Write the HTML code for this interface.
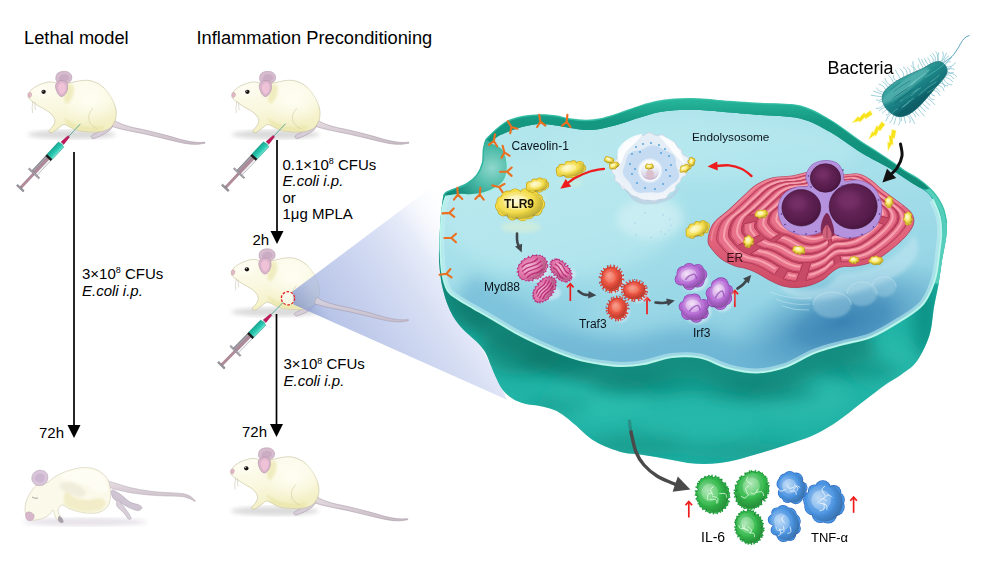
<!DOCTYPE html>
<html lang="en"><head><meta charset="utf-8"><title>Inflammation preconditioning</title>
<style>
html,body{margin:0;padding:0;background:#fff;}
body{width:1000px;height:569px;overflow:hidden;font-family:'Liberation Sans', Arial, Helvetica, sans-serif;}
svg{display:block;}
svg text{font-family:'Liberation Sans', Arial, Helvetica, sans-serif;}
</style></head><body>
<svg width="1000" height="569" viewBox="0 0 1000 569">
<defs>

<linearGradient id="gCone" gradientUnits="userSpaceOnUse" x1="292" y1="298" x2="450" y2="190">
 <stop offset="0" stop-color="#8496cf" stop-opacity="0.8"/><stop offset="0.12" stop-color="#a2b2e0" stop-opacity="0.75"/>
 <stop offset="0.35" stop-color="#bcc8eb" stop-opacity="0.8"/><stop offset="0.55" stop-color="#cad4f0" stop-opacity="0.75"/>
 <stop offset="0.7" stop-color="#d7dff5" stop-opacity="0.62"/><stop offset="0.85" stop-color="#edf1fb" stop-opacity="0.28"/><stop offset="1" stop-color="#ffffff" stop-opacity="0"/>
</linearGradient>


<linearGradient id="gFur" x1="0" y1="0" x2="0.3" y2="1">
 <stop offset="0" stop-color="#fefdf5"/><stop offset="0.55" stop-color="#faf8e0"/><stop offset="1" stop-color="#f3f0c6"/>
</linearGradient>
<radialGradient id="gFurHi" cx="0.5" cy="0.4" r="0.6">
 <stop offset="0" stop-color="#fffef4" stop-opacity="0.95"/><stop offset="1" stop-color="#fffef4" stop-opacity="0"/>
</radialGradient>
<linearGradient id="gTail" x1="0" y1="0" x2="0" y2="1">
 <stop offset="0" stop-color="#e6dde2"/><stop offset="1" stop-color="#c9bcc6"/>
</linearGradient>

<path id="mtail" d="M113.5 119.5C114.4 120.1 116.2 121.8 119 123C121.8 124.2 125.3 125.5 130 126.8C134.7 128.1 141.2 129.1 147 130.5C152.8 131.9 158.8 133.4 165 135C171.2 136.6 178.8 139.1 184 140.3C189.2 141.5 192.5 142 196 142.3C199.5 142.6 203.5 142.2 205 142.2L205 143.2C203.5 143.4 199.5 144.3 196 144.3C192.5 144.3 189.2 144.1 184 143.2C178.8 142.3 171.2 140.2 165 138.8C158.8 137.4 152.8 135.8 147 134.5C141.2 133.2 134.7 132 130 131C125.3 130 122.2 129.3 119 128.5C115.8 127.7 112.3 126.4 111 126Z" fill="url(#gTail)" stroke="#a99aa6" stroke-width="0.6"/>
<g id="mouse"><ellipse cx="72" cy="134.5" rx="44" ry="4.5" fill="#9a9a9a" opacity="0.36" filter="url(#blur2)"/><use href="#mtail"/><path d="M108 122C109.8 121.7 112.1 123.8 112.5 125C112.9 126.2 111.8 128.1 110.5 129.5C109.2 130.9 107.1 132.2 105 133.5C102.9 134.8 100 136.2 98 137C96 137.8 94.2 138.6 93 138.5C91.8 138.4 90.8 137.2 91 136.5C91.2 135.8 92.7 134.8 94 134C95.3 133.2 97.7 132.7 99 131.5C100.3 130.3 100.5 128.6 102 127C103.5 125.4 106.2 122.3 108 122Z" fill="#d6cdd8" stroke="#a79bab" stroke-width="0.6"/><path d="M56 80C55.5 78.3 56 75.4 57 74C58 72.6 60.2 71.8 62 71.5C63.8 71.2 66.4 71.3 68 72C69.6 72.7 71 74.1 71.5 75.5C72 76.9 71.9 79.1 71 80.5C70.1 81.9 67.8 83.4 66 84C64.2 84.6 61.7 84.7 60 84C58.3 83.3 56.5 81.7 56 80Z" fill="#d7bccf" stroke="#b39bad" stroke-width="0.6"/><path d="M59 80C58.2 79 59.2 77 60 76C60.8 75 62.6 74.1 64 74C65.4 73.9 67.7 74.7 68.5 75.5C69.3 76.3 69.6 77.9 69 79C68.4 80.1 66.7 81.8 65 82C63.3 82.2 59.8 81 59 80Z" fill="#c6a7bd" opacity="0.7"/><path d="M28.3 94.5C28.7 93.5 29.4 91.8 30.5 90.5C31.6 89.2 33.4 88 35 87C36.6 86 38.2 85.2 40 84.5C41.8 83.8 44 82.9 46 82.5C48 82.1 50 81.8 52 82C54 82.2 55.8 83.2 58 83.5C60.2 83.8 62.7 84.2 65 84C67.3 83.8 69.5 83 72 82.5C74.5 82 77.3 81.2 80 80.8C82.7 80.4 85.3 80 88 80.3C90.7 80.6 93.5 81.4 96 82.5C98.5 83.6 100.8 85.1 103 87C105.2 88.9 107.2 91.5 109 94C110.8 96.5 112.3 99.3 113.5 102C114.7 104.7 115.6 107.5 116 110C116.4 112.5 116.3 114.8 116 117C115.7 119.2 115 121.2 114 123C113 124.8 111.8 126.7 110 128C108.2 129.3 105.7 130.3 103 131C100.3 131.7 97.2 131.9 94 132C90.8 132.1 87 131.8 84 131.5C81 131.2 78.3 130.8 76 130C73.7 129.2 72 127.9 70 127C68 126.1 65.7 124.5 64 124.5C62.3 124.5 61.3 126.1 60 127C58.7 127.9 57.3 129.1 56 130C54.7 130.9 53.2 132.2 52 132.5C50.8 132.8 49.3 132.5 49 132C48.7 131.5 49.3 130.5 50 129.5C50.7 128.5 52.2 127.4 53 126C53.8 124.6 55 122.7 55 121C55 119.3 54 117.5 53 116C52 114.5 50.5 113.2 49 112C47.5 110.8 45.8 110.1 44 109C42.2 107.9 39.8 106.7 38 105.5C36.2 104.3 34.4 103.1 33 102C31.6 100.9 30.3 99.9 29.5 99C28.7 98.1 28.2 97.2 28 96.5C27.8 95.8 27.9 95.5 28.3 94.5Z" fill="url(#gFur)" stroke="#c4bd98" stroke-width="0.6"/><ellipse cx="90" cy="104" rx="25" ry="19" fill="url(#gFurHi)"/><ellipse cx="42" cy="93" rx="10" ry="6" fill="url(#gFurHi)"/><path d="M66 86C67 84.7 70.7 83.3 72 84C73.3 84.7 74 87.7 74 90C74 92.3 73.2 95.7 72 98C70.8 100.3 68.3 104 67 104C65.7 104 64.2 100 64 98C63.8 96 65.7 94 66 92C66.3 90 65 87.3 66 86Z" fill="#e6e09a" opacity="0.5" filter="url(#blur1)"/><path d="M64 118C64.8 117.5 70.7 122.5 75 124C79.3 125.5 85.2 126.7 90 127C94.8 127.3 102.3 125.3 104 126C105.7 126.7 103.3 130.2 100 131C96.7 131.8 89 131.7 84 131C79 130.3 73.3 129.2 70 127C66.7 124.8 63.2 118.5 64 118Z" fill="#e6e09a" opacity="0.5" filter="url(#blur1)"/><path d="M93 108C92.3 109.2 89.5 112.5 89 115C88.5 117.5 88.7 120.7 90 123C91.3 125.3 95.8 128 97 129" fill="none" stroke="#c9c294" stroke-width="0.6" opacity="0.8"/><path d="M55.5 86C55.6 84.1 56.8 82.4 58 81.5C59.2 80.6 61.5 80.2 63 80.5C64.5 80.8 66.2 81.6 67 83C67.8 84.4 67.8 87.1 67.5 89C67.2 90.9 66.1 93.2 65 94.5C63.9 95.8 62.2 96.8 61 96.5C59.8 96.2 58.4 94.8 57.5 93C56.6 91.2 55.4 87.9 55.5 86Z" fill="#dcb5cc" stroke="#b092a6" stroke-width="0.6"/><path d="M58 87C58.1 85.6 59.1 84.2 60 83.5C60.9 82.8 62.6 82.6 63.5 83C64.4 83.4 65.2 84.7 65.5 86C65.8 87.3 65.6 89.7 65 91C64.4 92.3 62.9 93.8 62 94C61.1 94.2 60.2 93.2 59.5 92C58.8 90.8 57.9 88.4 58 87Z" fill="#efc3d8" opacity="0.95"/><ellipse cx="43.6" cy="91.8" rx="2.2" ry="2.1" fill="#15100f"/><circle cx="43" cy="91.1" r="0.6" fill="#fff"/><path d="M28 94C28.1 93.2 28.9 92.6 29.5 92.5C30.1 92.4 31.2 92.8 31.5 93.5C31.8 94.2 31.4 95.8 31 96.5C30.6 97.2 29.5 97.9 29 97.5C28.5 97.1 27.9 94.8 28 94Z" fill="#e2b9c4" stroke="#b58d9b" stroke-width="0.4"/><path d="M33 101 Q31.5 108 32.5 113 M35 102 Q34.5 107 35.5 110" fill="none" stroke="#c9c5b0" stroke-width="0.6"/></g>

<linearGradient id="gTeal" x1="0" y1="0" x2="0" y2="1"><stop offset="0" stop-color="#7fe6d4"/><stop offset="0.35" stop-color="#2fcdb6"/><stop offset="1" stop-color="#14a892"/></linearGradient>
<linearGradient id="gGlass" x1="0" y1="0" x2="0" y2="1"><stop offset="0" stop-color="#ececf0"/><stop offset="0.5" stop-color="#c7c3cb"/><stop offset="1" stop-color="#8f8a94"/></linearGradient>
<g id="syringe">
 <path d="M0 0L18 0" stroke="#5aa9a0" stroke-width="0.9"/>
 <path d="M17 -1L26.5 -1.9L26.5 1.9L17 1Z" fill="#c2185b" stroke="#8e0f43" stroke-width="0.4"/>
 <rect x="26.5" y="-1.6" width="2" height="3.2" fill="#9fdad0"/>
 <rect x="47" y="-3.5" width="21" height="7" fill="url(#gGlass)" stroke="#6b6670" stroke-width="0.5"/>
 <rect x="47.5" y="-1.2" width="40" height="2.4" fill="#b58a9a" stroke="#7d6470" stroke-width="0.4"/>
 <rect x="47" y="-3.5" width="21" height="1.8" fill="#fff" opacity="0.55"/>
 <rect x="28" y="-3.7" width="17.5" height="7.4" rx="0.9" fill="url(#gTeal)" stroke="#0e8e7c" stroke-width="0.5"/>
 <rect x="45" y="-3.7" width="2.4" height="7.4" fill="#1b1b1b"/>
 <rect x="67" y="-7.2" width="1.7" height="14.4" rx="0.6" fill="#a9a5ad" stroke="#6f6a74" stroke-width="0.4"/>
 <rect x="87" y="-4.6" width="1.9" height="9.2" rx="0.6" fill="#9a969e" stroke="#5f5a64" stroke-width="0.4"/>
</g>


<linearGradient id="gWall" x1="0" y1="0" x2="0" y2="1">
 <stop offset="0" stop-color="#0f9084"/><stop offset="0.35" stop-color="#19a89c"/><stop offset="0.7" stop-color="#22b6a8"/><stop offset="1" stop-color="#1fb0a4"/>
</linearGradient>
<linearGradient id="gBand" x1="0" y1="0" x2="0" y2="1">
 <stop offset="0" stop-color="#27b79c"/><stop offset="0.25" stop-color="#159882"/><stop offset="1" stop-color="#0f8a76"/>
</linearGradient>
<linearGradient id="gTop" gradientUnits="userSpaceOnUse" x1="640" y1="110" x2="700" y2="375">
 <stop offset="0" stop-color="#b2e6ed"/><stop offset="0.4" stop-color="#a6e0ea"/><stop offset="0.75" stop-color="#98d6e6"/><stop offset="1" stop-color="#84c8de"/>
</linearGradient>
<radialGradient id="gDeep" gradientUnits="userSpaceOnUse" cx="842" cy="322" r="125" gradientTransform="translate(842 322) rotate(-16) scale(1 0.42) translate(-842 -322)">
 <stop offset="0" stop-color="#3680b2" stop-opacity="0.95"/><stop offset="0.35" stop-color="#4089b8" stop-opacity="0.8"/><stop offset="0.7" stop-color="#559fc6" stop-opacity="0.4"/><stop offset="1" stop-color="#6db5d0" stop-opacity="0"/>
</radialGradient>
<radialGradient id="gCav" gradientUnits="userSpaceOnUse" cx="492" cy="168" r="42">
 <stop offset="0" stop-color="#8fd8cc"/><stop offset="0.45" stop-color="#4fbcaa"/><stop offset="1" stop-color="#128c7a"/>
</radialGradient>
<filter id="blur2"><feGaussianBlur stdDeviation="2"/></filter>
<filter id="blur4" filterUnits="userSpaceOnUse" x="0" y="0" width="1000" height="569"><feGaussianBlur stdDeviation="4"/></filter>
<filter id="blur8" filterUnits="userSpaceOnUse" x="0" y="0" width="1000" height="569"><feGaussianBlur stdDeviation="8"/></filter>
<filter id="blur1"><feGaussianBlur stdDeviation="1"/></filter>
<filter id="blur05"><feGaussianBlur stdDeviation="0.5"/></filter>

<clipPath id="clipCell"><path d="M486 139.5C487.8 136.5 491 134 494.5 131C498 128 502.2 123.9 507 121.5C511.8 119.1 517.5 117.6 523 116.5C528.5 115.4 534.5 114.9 540 114.8C545.5 114.7 551 115.3 556 116C561 116.7 565 118.2 570 119C575 119.8 581 120.5 586 120.5C591 120.5 594.3 120.2 600 119C605.7 117.8 613.3 115.2 620 113C626.7 110.8 633.3 108 640 106C646.7 104 653.3 102.2 660 101C666.7 99.8 673.3 99.3 680 99C686.7 98.7 691.7 98.6 700 99C708.3 99.4 720 100.8 730 101.5C740 102.2 748.3 102.8 760 103.5C771.7 104.2 788.3 103.2 800 106C811.7 108.8 820 114.2 830 120C840 125.8 852 135.6 860 141C868 146.4 872.8 149.1 878 152.5C883.2 155.9 887 158.4 891.5 161.5C896 164.6 900.5 168.1 905 171C909.5 173.9 914.3 176.1 918.5 179C922.7 181.9 926.8 185.3 930 188.5C933.2 191.7 935.7 194.5 938 198C940.3 201.5 942.3 205.3 943.8 209.5C945.2 213.7 946.3 218.4 946.7 223C947.1 227.6 946.8 232.5 946.3 237C945.8 241.5 944.7 246 944 250C943.3 254 942.9 255.3 942 261C941.1 266.7 939.9 276.3 938.6 284C937.3 291.7 935.5 298.5 934 307C932.5 315.5 932.3 326 929.5 335C926.7 344 921.6 354.5 917 361C912.4 367.5 907.3 370 902 374C896.7 378 892 380 885 385C878 390 867.8 398 860 404C852.2 410 845.3 416 838 421C830.7 426 823.2 430.5 816 434C808.8 437.5 802 439.5 795 442C788 444.5 781.2 446.8 774 449C766.8 451.2 758.3 453.7 752 455.5C745.7 457.3 741.3 458.8 736 460C730.7 461.2 725.3 462.3 720 463C714.7 463.7 709.3 464 704 464C698.7 464 693.3 463.7 688 463C682.7 462.3 677.3 461 672 460C666.7 459 661.3 457.9 656 457C650.7 456.1 645.3 455.2 640 454.5C634.7 453.8 629.3 454 624 452.8C618.7 451.6 612.5 449.2 608 447.5C603.5 445.8 600 444.1 597 442.5C594 440.9 592.2 439.6 590 438C587.8 436.4 586.4 435.2 584 433C581.6 430.8 578.6 427.8 575.4 425C572.2 422.2 568.5 418.9 565 416.4C561.5 413.9 558.5 411.7 554.3 410C550.1 408.3 544.5 407 539.6 406C534.7 405 529.4 405.1 524.8 403.8C520.2 402.6 515.9 400.8 512.2 398.5C508.5 396.2 505.3 393.3 502.7 390C500.1 386.7 498.3 382.5 496.4 378.5C494.4 374.5 492.8 370 491 365.8C489.2 361.6 487.9 356.9 485.8 353.2C483.7 349.5 481.4 346.7 478.4 343.5C475.4 340.3 471.1 336.9 468 334C464.9 331.1 462.4 328.8 460 326C457.6 323.2 455.3 320 453.5 317C451.7 314 450.4 311.3 449 308C447.6 304.7 446.3 301.7 445 297C443.7 292.3 442 286.5 441 280C440 273.5 439.2 264.7 439 258C438.8 251.3 439.2 246.3 439.5 240C439.8 233.7 440.1 225.8 440.5 220C440.9 214.2 441.5 209 442 205C442.5 201 442.8 198.1 443.5 196C444.2 193.9 444.4 193.6 446 192.5C447.6 191.4 449.6 190.9 453 189.5C456.4 188.1 462.5 186.4 466.5 184C470.5 181.6 474.3 178.5 477 175C479.7 171.5 481.4 167.3 482.5 163C483.6 158.7 482.9 152.9 483.5 149C484.1 145.1 484.2 142.5 486 139.5Z"/></clipPath>
<clipPath id="clipRimR"><path d="M491 142.5C490.8 141.1 494.7 138.6 497 137C499.3 135.4 502.2 134.2 505 133C507.8 131.8 510.8 130.6 514 129.5C517.2 128.4 519.7 127.4 524 126.5C528.3 125.6 534.7 124.2 540 124C545.3 123.8 551 124.8 556 125.5C561 126.2 565 127.2 570 128C575 128.8 581 129.8 586 130C591 130.2 594.3 130 600 129C605.7 128 613.3 125.9 620 124C626.7 122.1 633.3 119.5 640 117.5C646.7 115.5 653.3 113.2 660 112C666.7 110.8 673.3 110.3 680 110C686.7 109.7 691.7 109.6 700 110C708.3 110.4 720 111.7 730 112.5C740 113.3 748.3 114 760 115C771.7 116 788.3 115.7 800 118.5C811.7 121.3 820 126.4 830 132C840 137.6 852 147 860 152C868 157 872.8 159.1 878 162C883.2 164.9 887 166.8 891.5 169.5C896 172.2 900.5 175.6 905 178.5C909.5 181.4 914.8 184.7 918.5 187C922.2 189.3 924.6 190.3 927 192.5C929.4 194.7 931.2 197.1 933 200C934.8 202.9 936.2 206.5 937.5 210C938.8 213.5 939.9 216.7 940.5 221C941.1 225.3 941.2 231.2 941 236C940.8 240.8 940.5 242.8 939.5 250C938.5 257.2 937.8 270 935 279C932.2 288 928.8 297 923 304C917.2 311 908.7 315.5 900 321C891.3 326.5 880.7 333.1 871 337C861.3 340.9 851.5 341.8 842 344.5C832.5 347.2 823.5 349.2 814 353C804.5 356.8 794.5 363.8 785 367C775.5 370.2 766.5 372.3 757 372.5C747.5 372.7 737.5 370.5 728 368C718.5 365.5 709.3 359.3 700 357.5C690.7 355.7 681.3 355.9 672 357C662.7 358.1 652.3 362.5 644 364C635.7 365.5 629.2 366 622 366C614.8 366 608 365 601 364C594 363 587.2 361.9 580 360C572.8 358.1 565.3 355.3 558 352.5C550.7 349.7 543.2 346.3 536 343C528.8 339.7 522 336.3 515 332.5C508 328.7 501 324.1 494 320C487 315.9 479 311.5 473 308C467 304.5 462.2 301.8 458 299C453.8 296.2 450.6 295.2 448 291C445.4 286.8 443.8 280.8 442.5 274C441.2 267.2 440.8 257.7 440.5 250C440.2 242.3 440.7 234.8 441 228C441.3 221.2 441.7 214.2 442.5 209C443.3 203.8 443.1 198.9 446 196.5C448.9 194.1 456 194.8 460 194.5C464 194.2 466 195.2 470 195C474 194.8 479.6 194.2 484 193C488.4 191.8 493 189.8 496.5 187.5C500 185.2 503.2 182.8 505 179C506.8 175.2 507.7 169.7 507.5 165C507.3 160.3 505.6 154.2 504 151C502.4 147.8 500.2 146.9 498 145.5C495.8 144.1 491.2 143.9 491 142.5Z M900 150H1000V300H900Z" clip-rule="evenodd"/></clipPath>
<clipPath id="clipTop"><path d="M491 142.5C490.8 141.1 494.7 138.6 497 137C499.3 135.4 502.2 134.2 505 133C507.8 131.8 510.8 130.6 514 129.5C517.2 128.4 519.7 127.4 524 126.5C528.3 125.6 534.7 124.2 540 124C545.3 123.8 551 124.8 556 125.5C561 126.2 565 127.2 570 128C575 128.8 581 129.8 586 130C591 130.2 594.3 130 600 129C605.7 128 613.3 125.9 620 124C626.7 122.1 633.3 119.5 640 117.5C646.7 115.5 653.3 113.2 660 112C666.7 110.8 673.3 110.3 680 110C686.7 109.7 691.7 109.6 700 110C708.3 110.4 720 111.7 730 112.5C740 113.3 748.3 114 760 115C771.7 116 788.3 115.7 800 118.5C811.7 121.3 820 126.4 830 132C840 137.6 852 147 860 152C868 157 872.8 159.1 878 162C883.2 164.9 887 166.8 891.5 169.5C896 172.2 900.5 175.6 905 178.5C909.5 181.4 914.8 184.7 918.5 187C922.2 189.3 924.6 190.3 927 192.5C929.4 194.7 931.2 197.1 933 200C934.8 202.9 936.2 206.5 937.5 210C938.8 213.5 939.9 216.7 940.5 221C941.1 225.3 941.2 231.2 941 236C940.8 240.8 940.5 242.8 939.5 250C938.5 257.2 937.8 270 935 279C932.2 288 928.8 297 923 304C917.2 311 908.7 315.5 900 321C891.3 326.5 880.7 333.1 871 337C861.3 340.9 851.5 341.8 842 344.5C832.5 347.2 823.5 349.2 814 353C804.5 356.8 794.5 363.8 785 367C775.5 370.2 766.5 372.3 757 372.5C747.5 372.7 737.5 370.5 728 368C718.5 365.5 709.3 359.3 700 357.5C690.7 355.7 681.3 355.9 672 357C662.7 358.1 652.3 362.5 644 364C635.7 365.5 629.2 366 622 366C614.8 366 608 365 601 364C594 363 587.2 361.9 580 360C572.8 358.1 565.3 355.3 558 352.5C550.7 349.7 543.2 346.3 536 343C528.8 339.7 522 336.3 515 332.5C508 328.7 501 324.1 494 320C487 315.9 479 311.5 473 308C467 304.5 462.2 301.8 458 299C453.8 296.2 450.6 295.2 448 291C445.4 286.8 443.8 280.8 442.5 274C441.2 267.2 440.8 257.7 440.5 250C440.2 242.3 440.7 234.8 441 228C441.3 221.2 441.7 214.2 442.5 209C443.3 203.8 443.1 198.9 446 196.5C448.9 194.1 456 194.8 460 194.5C464 194.2 466 195.2 470 195C474 194.8 479.6 194.2 484 193C488.4 191.8 493 189.8 496.5 187.5C500 185.2 503.2 182.8 505 179C506.8 175.2 507.7 169.7 507.5 165C507.3 160.3 505.6 154.2 504 151C502.4 147.8 500.2 146.9 498 145.5C495.8 144.1 491.2 143.9 491 142.5Z"/></clipPath>

<radialGradient id="gYel" cx="0.4" cy="0.35" r="0.75"><stop offset="0" stop-color="#fdf08a"/><stop offset="0.6" stop-color="#f3da3e"/><stop offset="1" stop-color="#d9b81e"/></radialGradient>
<radialGradient id="gMag" cx="0.4" cy="0.35" r="0.75"><stop offset="0" stop-color="#f4a6cc"/><stop offset="0.55" stop-color="#d65a9a"/><stop offset="1" stop-color="#a82f6e"/></radialGradient>
<radialGradient id="gRed" cx="0.4" cy="0.35" r="0.75"><stop offset="0" stop-color="#ff9a80"/><stop offset="0.55" stop-color="#ec4a3a"/><stop offset="1" stop-color="#c42a24"/></radialGradient>
<radialGradient id="gPur" cx="0.4" cy="0.35" r="0.75"><stop offset="0" stop-color="#e0aaf0"/><stop offset="0.55" stop-color="#b266d4"/><stop offset="1" stop-color="#8a3fb0"/></radialGradient>
<radialGradient id="gGrn" cx="0.4" cy="0.35" r="0.75"><stop offset="0" stop-color="#86e88a"/><stop offset="0.5" stop-color="#2fb548"/><stop offset="1" stop-color="#178a34"/></radialGradient>
<radialGradient id="gBlu" cx="0.4" cy="0.35" r="0.75"><stop offset="0" stop-color="#a8d8ff"/><stop offset="0.5" stop-color="#4f9be6"/><stop offset="1" stop-color="#2a6fc4"/></radialGradient>
<radialGradient id="gNuc" cx="0.42" cy="0.4" r="0.7"><stop offset="0" stop-color="#6e2a60"/><stop offset="0.7" stop-color="#561c4b"/><stop offset="1" stop-color="#3f1238"/></radialGradient>
<linearGradient id="gER" x1="0" y1="0" x2="0" y2="1"><stop offset="0" stop-color="#ef7f90"/><stop offset="0.6" stop-color="#e0607a"/><stop offset="1" stop-color="#c8455f"/></linearGradient>
<radialGradient id="gEndo" cx="0.45" cy="0.4" r="0.65"><stop offset="0" stop-color="#dbeaf6"/><stop offset="0.55" stop-color="#e6eef6"/><stop offset="1" stop-color="#f7f9fc"/></radialGradient>

<radialGradient id="gHi" cx="0.42" cy="0.38" r="0.6"><stop offset="0" stop-color="#fff" stop-opacity="0.75"/><stop offset="0.6" stop-color="#fff" stop-opacity="0.18"/><stop offset="1" stop-color="#fff" stop-opacity="0"/></radialGradient>
<radialGradient id="gLo" cx="0.4" cy="0.35" r="0.72"><stop offset="0.55" stop-color="#000" stop-opacity="0"/><stop offset="1" stop-color="#000" stop-opacity="0.28"/></radialGradient>
<linearGradient id="gVes" x1="0" y1="0" x2="0" y2="1"><stop offset="0" stop-color="#ffffff"/><stop offset="0.45" stop-color="#e9eef7"/><stop offset="1" stop-color="#cdbfd6"/></linearGradient>
<linearGradient id="gERw" gradientUnits="userSpaceOnUse" x1="0" y1="175" x2="0" y2="287"><stop offset="0" stop-color="#ea7389"/><stop offset="0.6" stop-color="#e0627b"/><stop offset="1" stop-color="#cc4a65"/></linearGradient>
<clipPath id="clipER"><path d="M708 241C708 236.6 709.7 229.1 713 224C716.3 218.9 722.8 215.2 728 210.5C733.2 205.8 739.3 199.8 744 195.5C748.7 191.2 751.3 187.9 756 185C760.7 182.1 766 179.5 772 178C778 176.5 785.3 177 792 176C798.7 175 804 172.2 812 172C820 171.8 832.3 174.7 840 175C847.7 175.3 853 173.2 858 174C863 174.8 865.8 176.8 870 179.5C874.2 182.2 878.3 186.8 883 190.5C887.7 194.2 893.3 197.8 898 201.5C902.7 205.2 908.4 208.8 911 212.5C913.6 216.2 914.5 219.9 913.5 224C912.5 228.1 909.2 232.3 905 237C900.8 241.7 893.5 247.8 888 252C882.5 256.2 877.3 259.7 872 262C866.7 264.3 861.2 265.2 856 266C850.8 266.8 845 266 841 267C837 268 834.8 270 832 272C829.2 274 827.5 276.8 824 279C820.5 281.2 815.5 283.6 811 285C806.5 286.4 801.7 287.3 797 287.5C792.3 287.7 787.5 287.2 783 286C778.5 284.8 774.3 282.7 770 280.5C765.7 278.3 761 275 757 273C753 271 749.7 269.7 746 268.5C742.3 267.3 739 267.5 735 266C731 264.5 725.7 262.1 722 259.5C718.3 256.9 715.3 253.6 713 250.5C710.7 247.4 708 245.4 708 241Z"/></clipPath>

<linearGradient id="gBac" x1="0" y1="0" x2="0" y2="1"><stop offset="0" stop-color="#3aa6a2"/><stop offset="0.45" stop-color="#1c8486"/><stop offset="1" stop-color="#0d636c"/></linearGradient>

<clipPath id="clipBac"><path d="M-36.3 1C-36.6 -2.7 -35.8 -7.2 -34 -10C-32.3 -12.8 -29.6 -14.5 -25.8 -15.5C-21.9 -16.5 -15.9 -16.3 -11 -16C-6.1 -15.7 -1.1 -14.4 3.7 -13.5C8.4 -12.6 13.3 -11.2 17.5 -10.5C21.6 -9.8 25.6 -9.8 28.5 -9C31.4 -8.2 33.6 -7.1 35 -5.5C36.3 -3.9 36.9 -1.5 36.8 0.5C36.7 2.5 36 4.9 34.5 6.5C33 8.1 30.7 9 27.6 10C24.5 11 19.8 11.6 15.6 12.5C11.5 13.4 7.2 14.6 2.8 15.5C-1.7 16.4 -6.6 17.7 -11 18C-15.5 18.3 -20.3 18.5 -23.9 17.5C-27.5 16.5 -30.6 14.8 -32.7 12C-34.7 9.2 -36.1 4.7 -36.3 1Z"/></clipPath>
</defs>
<rect width="1000" height="569" fill="#fff"/>
<g id="mice">
<use href="#mouse"/>
<use href="#mouse" transform="translate(203.8 0)"/>
<use href="#mouse" transform="translate(203.3 177.5)"/>
<use href="#mouse" transform="translate(202.7 376.5)"/>
<path d="M292.5 291.5 L442.5 179 L458 300 L498 380 L507 399.7 L293.5 304.5 Z" fill="url(#gCone)" filter="url(#blur05)"/>
<use href="#mtail" transform="translate(203.3 177.5)" opacity="0.75"/>
<circle cx="288" cy="298.3" r="6.6" fill="#fff" fill-opacity="0.55" stroke="#e02020" stroke-width="1.3" stroke-dasharray="2.6 1.6"/>
<use href="#syringe" transform="translate(80.4 123.9) rotate(133.1)"/>
<use href="#syringe" transform="translate(285.5 123.7) rotate(133.2)"/>
<use href="#syringe" transform="translate(283 302.5) rotate(134.5)"/>
<g id="deadmouse"><ellipse cx="85" cy="522" rx="62" ry="4" fill="#b9aec0" opacity="0.35" filter="url(#blur2)"/><path d="M108 481C109.7 481.5 114 482.8 118 484C122 485.2 126.8 486.8 132 488C137.2 489.2 143.3 490.2 149 491C154.7 491.8 160.5 492.1 166 492.5C171.5 492.9 178 492.9 182 493.5C186 494.1 187.8 494.8 190 496C192.2 497.2 194.6 500.2 195.5 501L195 501.5C194 501 191.3 499.3 189 498.5C186.7 497.7 184.8 496.9 181 496.5C177.2 496.1 171.3 496.2 166 496C160.7 495.8 154.7 495.5 149 495C143.3 494.5 137.2 493.8 132 493C126.8 492.2 122 491 118 490C114 489 109.7 487.5 108 487Z" fill="url(#gTail)" stroke="#b3a6b1" stroke-width="0.5"/><path d="M112 490C113.2 489.3 117 492 120 494C123 496 126.8 500.2 130 502C133.2 503.8 137 504 139 505C141 506 142.2 507.1 142 508C141.8 508.9 140 510.5 138 510.5C136 510.5 132.8 509.2 130 508C127.2 506.8 123.8 504.7 121 503C118.2 501.3 114.5 500.2 113 498C111.5 495.8 110.8 490.7 112 490Z" fill="#cfc4d2" stroke="#a79bab" stroke-width="0.5"/><path d="M118 500C119.2 500.2 122.2 504.7 124 507C125.8 509.3 127.8 512.1 129 514C130.2 515.9 131.1 517.7 131 518.5C130.9 519.3 129.7 519.9 128.5 519C127.3 518.1 125.9 515.2 124 513C122.1 510.8 118 508.2 117 506C116 503.8 116.8 499.8 118 500Z" fill="#d8cfd9" stroke="#a79bab" stroke-width="0.5"/><path d="M48 482C50.3 480.7 53 477.8 56 476C59 474.2 62.7 472.8 66 471.5C69.3 470.2 72.7 469.2 76 468.5C79.3 467.8 82.8 467.4 86 467.5C89.2 467.6 92.3 468.1 95 469C97.7 469.9 99.9 471.3 102 473C104.1 474.7 106.2 476.7 107.5 479C108.8 481.3 109.5 484.2 110 487C110.5 489.8 110.7 493.2 110.5 496C110.3 498.8 110.1 501.7 109 504C107.9 506.3 106.2 508.5 104 510C101.8 511.5 99 512.5 96 513C93 513.5 89.3 513.3 86 513C82.7 512.7 79 511.8 76 511C73 510.2 70.3 509 68 508C65.7 507 63.7 504.7 62 505C60.3 505.3 58.3 508.2 58 510C57.7 511.8 59.3 514.2 60 516C60.7 517.8 62.2 520.1 62 521C61.8 521.9 60.1 522.2 59 521.5C57.9 520.8 56.5 518.9 55.5 517C54.5 515.1 53.9 510.5 53 510C52.1 509.5 51.5 512.7 50 514C48.5 515.3 46.3 517 44 518C41.7 519 38.3 519.7 36 520C33.7 520.3 31.6 520.5 30 520C28.4 519.5 27.3 518.7 26.5 517C25.7 515.3 25.1 512.5 25 510C24.9 507.5 25.3 504.5 26 502C26.7 499.5 27.8 497.2 29 495C30.2 492.8 31.7 490.7 33 489C34.3 487.3 35.5 485.8 37 485C38.5 484.2 40.2 484.5 42 484C43.8 483.5 45.7 483.3 48 482Z" fill="#fbf9ea" stroke="#cfc9b0" stroke-width="0.6"/><path d="M66 492C68 491.2 72.3 496.7 76 498C79.7 499.3 84 500 88 500C92 500 97 497.5 100 498C103 498.5 106 501 106 503C106 505 103.3 508.5 100 510C96.7 511.5 90.7 512.2 86 512C81.3 511.8 75.7 510.5 72 509C68.3 507.5 65 505.8 64 503C63 500.2 64 492.8 66 492Z" fill="#f0ebc0" opacity="0.8" filter="url(#blur1)"/><path d="M60 484C61.3 482.7 66.7 481.7 70 482C73.3 482.3 77.3 484.2 80 486C82.7 487.8 86 491.2 86 493C86 494.8 82.7 496.8 80 497C77.3 497.2 73 495.2 70 494C67 492.8 63.7 491.7 62 490C60.3 488.3 58.7 485.3 60 484Z" fill="#e6e0cc" opacity="0.45" filter="url(#blur1)"/><path d="M60 476C61 474.3 70.7 471 76 470C81.3 469 87.3 468.7 92 470C96.7 471.3 101.5 474.7 104 478C106.5 481.3 108 487.7 107 490C106 492.3 101.5 493 98 492C94.5 491 90.7 486 86 484C81.3 482 74.3 481.3 70 480C65.7 478.7 59 477.7 60 476Z" fill="#fffef6" opacity="0.9" filter="url(#blur1)"/><path d="M32 480C31.5 478.2 32 475.6 33 474C34 472.4 36.2 471 38 470.5C39.8 470 42.4 470.2 44 471C45.6 471.8 47 473.3 47.5 475C48 476.7 47.8 479.3 47 481C46.2 482.7 44.8 484.3 43 485C41.2 485.7 37.8 485.8 36 485C34.2 484.2 32.5 481.8 32 480Z" fill="#d9c6da" stroke="#b5a3b6" stroke-width="0.6"/><path d="M35 480C34.2 478.8 35.2 476.6 36 475.5C36.8 474.4 38.7 473.6 40 473.5C41.3 473.4 43.2 474 44 475C44.8 476 45 478.2 44.5 479.5C44 480.8 42.6 482.4 41 482.5C39.4 482.6 35.8 481.2 35 480Z" fill="#c9b2cc" opacity="0.8"/><path d="M26 513C26.7 512 28.7 511.7 30 512C31.3 512.3 33.5 513.8 34 515C34.5 516.2 33.9 518.6 33 519.5C32.1 520.4 29.7 520.8 28.5 520.5C27.3 520.2 26.4 519.2 26 518C25.6 516.8 25.3 514 26 513Z" fill="#d9b7cb" stroke="#b093a8" stroke-width="0.4"/><path d="M32 497 Q35 499 38 498" fill="none" stroke="#8a7f78" stroke-width="0.7"/><path d="M59 516C59.7 515.7 61.2 517 62 518C62.8 519 63.7 521.2 63.5 522C63.3 522.8 61.9 523.3 61 523C60.1 522.7 58.3 521.2 58 520C57.7 518.8 58.3 516.3 59 516Z" fill="#a9a0ac"/></g>
</g>
<g id="labels">
<text x="24" y="44" font-size="18.3" font-weight="normal" font-style="normal" fill="#000" text-anchor="start" >Lethal model</text>
<text x="196.5" y="44" font-size="18.3" font-weight="normal" font-style="normal" fill="#000" text-anchor="start" >Inflammation Preconditioning</text>
<path d="M74 152V426" stroke="#000" stroke-width="1.7" fill="none"/><path d="M67.5 425L80.5 425L74 438Z" fill="#000"/>
<text x="82" y="278.5" font-size="15" font-weight="normal" font-style="normal" fill="#000" text-anchor="start" >3×10<tspan font-size="9" dy="-5.5">8</tspan><tspan dy="5.5"> CFUs</tspan></text>
<text x="82" y="295.5" font-size="15" font-weight="normal" font-style="italic" fill="#000" text-anchor="start" >E.coli i.p.</text>
<text x="39" y="437.5" font-size="15" font-weight="normal" font-style="normal" fill="#000" text-anchor="start" >72h</text>
<path d="M277 140V232" stroke="#000" stroke-width="1.7" fill="none"/><path d="M270.5 231L283.5 231L277 244Z" fill="#000"/>
<text x="282.5" y="169.5" font-size="15" font-weight="normal" font-style="normal" fill="#000" text-anchor="start" >0.1×10<tspan font-size="9" dy="-5.5">8</tspan><tspan dy="5.5"> CFUs</tspan></text>
<text x="282.5" y="186" font-size="15" font-weight="normal" font-style="italic" fill="#000" text-anchor="start" >E.coli i.p.</text>
<text x="282.5" y="202.5" font-size="15" font-weight="normal" font-style="normal" fill="#000" text-anchor="start" >or</text>
<text x="282.5" y="219" font-size="15" font-weight="normal" font-style="normal" fill="#000" text-anchor="start" >1μg MPLA</text>
<text x="252.5" y="244.5" font-size="15" font-weight="normal" font-style="normal" fill="#000" text-anchor="start" >2h</text>
<path d="M276.5 314V425" stroke="#000" stroke-width="1.7" fill="none"/><path d="M270 424L283 424L276.5 437Z" fill="#000"/>
<text x="283.5" y="369" font-size="15" font-weight="normal" font-style="normal" fill="#000" text-anchor="start" >3×10<tspan font-size="9" dy="-5.5">8</tspan><tspan dy="5.5"> CFUs</tspan></text>
<text x="283.5" y="386" font-size="15" font-weight="normal" font-style="italic" fill="#000" text-anchor="start" >E.coli i.p.</text>
<text x="242" y="436.5" font-size="15" font-weight="normal" font-style="normal" fill="#000" text-anchor="start" >72h</text>
</g>
<g id="cell">
<path d="M486 139.5C487.8 136.5 491 134 494.5 131C498 128 502.2 123.9 507 121.5C511.8 119.1 517.5 117.6 523 116.5C528.5 115.4 534.5 114.9 540 114.8C545.5 114.7 551 115.3 556 116C561 116.7 565 118.2 570 119C575 119.8 581 120.5 586 120.5C591 120.5 594.3 120.2 600 119C605.7 117.8 613.3 115.2 620 113C626.7 110.8 633.3 108 640 106C646.7 104 653.3 102.2 660 101C666.7 99.8 673.3 99.3 680 99C686.7 98.7 691.7 98.6 700 99C708.3 99.4 720 100.8 730 101.5C740 102.2 748.3 102.8 760 103.5C771.7 104.2 788.3 103.2 800 106C811.7 108.8 820 114.2 830 120C840 125.8 852 135.6 860 141C868 146.4 872.8 149.1 878 152.5C883.2 155.9 887 158.4 891.5 161.5C896 164.6 900.5 168.1 905 171C909.5 173.9 914.3 176.1 918.5 179C922.7 181.9 926.8 185.3 930 188.5C933.2 191.7 935.7 194.5 938 198C940.3 201.5 942.3 205.3 943.8 209.5C945.2 213.7 946.3 218.4 946.7 223C947.1 227.6 946.8 232.5 946.3 237C945.8 241.5 944.7 246 944 250C943.3 254 942.9 255.3 942 261C941.1 266.7 939.9 276.3 938.6 284C937.3 291.7 935.5 298.5 934 307C932.5 315.5 932.3 326 929.5 335C926.7 344 921.6 354.5 917 361C912.4 367.5 907.3 370 902 374C896.7 378 892 380 885 385C878 390 867.8 398 860 404C852.2 410 845.3 416 838 421C830.7 426 823.2 430.5 816 434C808.8 437.5 802 439.5 795 442C788 444.5 781.2 446.8 774 449C766.8 451.2 758.3 453.7 752 455.5C745.7 457.3 741.3 458.8 736 460C730.7 461.2 725.3 462.3 720 463C714.7 463.7 709.3 464 704 464C698.7 464 693.3 463.7 688 463C682.7 462.3 677.3 461 672 460C666.7 459 661.3 457.9 656 457C650.7 456.1 645.3 455.2 640 454.5C634.7 453.8 629.3 454 624 452.8C618.7 451.6 612.5 449.2 608 447.5C603.5 445.8 600 444.1 597 442.5C594 440.9 592.2 439.6 590 438C587.8 436.4 586.4 435.2 584 433C581.6 430.8 578.6 427.8 575.4 425C572.2 422.2 568.5 418.9 565 416.4C561.5 413.9 558.5 411.7 554.3 410C550.1 408.3 544.5 407 539.6 406C534.7 405 529.4 405.1 524.8 403.8C520.2 402.6 515.9 400.8 512.2 398.5C508.5 396.2 505.3 393.3 502.7 390C500.1 386.7 498.3 382.5 496.4 378.5C494.4 374.5 492.8 370 491 365.8C489.2 361.6 487.9 356.9 485.8 353.2C483.7 349.5 481.4 346.7 478.4 343.5C475.4 340.3 471.1 336.9 468 334C464.9 331.1 462.4 328.8 460 326C457.6 323.2 455.3 320 453.5 317C451.7 314 450.4 311.3 449 308C447.6 304.7 446.3 301.7 445 297C443.7 292.3 442 286.5 441 280C440 273.5 439.2 264.7 439 258C438.8 251.3 439.2 246.3 439.5 240C439.8 233.7 440.1 225.8 440.5 220C440.9 214.2 441.5 209 442 205C442.5 201 442.8 198.1 443.5 196C444.2 193.9 444.4 193.6 446 192.5C447.6 191.4 449.6 190.9 453 189.5C456.4 188.1 462.5 186.4 466.5 184C470.5 181.6 474.3 178.5 477 175C479.7 171.5 481.4 167.3 482.5 163C483.6 158.7 482.9 152.9 483.5 149C484.1 145.1 484.2 142.5 486 139.5Z" fill="url(#gWall)"/>
<g clip-path="url(#clipCell)" filter="url(#blur8)"><ellipse cx="520" cy="350" rx="40" ry="25" fill="#0c8577" opacity="0.7"/><ellipse cx="600" cy="400" rx="50" ry="25" fill="#30c2b2" opacity="0.55"/><ellipse cx="700" cy="420" rx="60" ry="22" fill="#2cbdb0" opacity="0.5"/><ellipse cx="800" cy="400" rx="50" ry="22" fill="#30c2b2" opacity="0.45"/><ellipse cx="880" cy="360" rx="35" ry="25" fill="#2cbdb0" opacity="0.4"/><ellipse cx="480" cy="300" rx="25" ry="30" fill="#0c8577" opacity="0.8"/><ellipse cx="560" cy="360" rx="40" ry="14" fill="#0a7d70" opacity="0.6"/><ellipse cx="650" cy="385" rx="60" ry="10" fill="#0a7d70" opacity="0.55"/><ellipse cx="760" cy="392" rx="60" ry="10" fill="#0a7d70" opacity="0.5"/><ellipse cx="860" cy="370" rx="40" ry="10" fill="#0a7d70" opacity="0.5"/><ellipse cx="925" cy="320" rx="12" ry="40" fill="#0a7d70" opacity="0.6"/><ellipse cx="640" cy="445" rx="50" ry="10" fill="#11907f" opacity="0.6"/><ellipse cx="740" cy="450" rx="60" ry="8" fill="#11907f" opacity="0.5"/><ellipse cx="560" cy="405" rx="30" ry="8" fill="#11907f" opacity="0.5"/></g>
<g clip-path="url(#clipCell)"><path d="M871 337C866.2 338.2 851.5 341.8 842 344.5C832.5 347.2 823.5 349.2 814 353C804.5 356.8 794.5 363.8 785 367C775.5 370.2 766.5 372.3 757 372.5C747.5 372.7 737.5 370.5 728 368C718.5 365.5 709.3 359.3 700 357.5C690.7 355.7 681.3 355.9 672 357C662.7 358.1 652.3 362.5 644 364C635.7 365.5 629.2 366 622 366C614.8 366 608 365 601 364C594 363 587.2 361.9 580 360C572.8 358.1 565.3 355.3 558 352.5C550.7 349.7 543.2 346.3 536 343C528.8 339.7 522 336.3 515 332.5C508 328.7 501 324.1 494 320C487 315.9 479 311.5 473 308C467 304.5 462.2 301.8 458 299C453.8 296.2 450.6 295.2 448 291C445.4 286.8 443.8 280.8 442.5 274C441.2 267.2 440.8 257.7 440.5 250C440.2 242.3 440.7 234.8 441 228C441.3 221.2 441.7 214.2 442.5 209C443.3 203.8 445.4 198.6 446 196.5" fill="none" stroke="#087568" stroke-width="44" opacity="0.6" filter="url(#blur8)"/></g>
<path d="M443.5 196C443.5 195.3 444.4 193.6 446 192.5C447.6 191.4 449.6 190.9 453 189.5C456.4 188.1 462.5 186.4 466.5 184C470.5 181.6 474.3 178.5 477 175C479.7 171.5 481.4 167.3 482.5 163C483.6 158.7 482.9 152.9 483.5 149C484.1 145.1 484.8 140.6 486 139.5C487.2 138.4 489 141.5 491 142.5C493 143.5 495.8 144.1 498 145.5C500.2 146.9 502.4 147.8 504 151C505.6 154.2 507.3 160.3 507.5 165C507.7 169.7 506.8 175.2 505 179C503.2 182.8 500 185.2 496.5 187.5C493 189.8 488.4 191.8 484 193C479.6 194.2 474 194.8 470 195C466 195.2 464 194.2 460 194.5C456 194.8 448.8 196.2 446 196.5C443.2 196.8 443.5 196.7 443.5 196Z" fill="url(#gCav)"/>
<path d="M491 142.5C490.8 141.1 494.7 138.6 497 137C499.3 135.4 502.2 134.2 505 133C507.8 131.8 510.8 130.6 514 129.5C517.2 128.4 519.7 127.4 524 126.5C528.3 125.6 534.7 124.2 540 124C545.3 123.8 551 124.8 556 125.5C561 126.2 565 127.2 570 128C575 128.8 581 129.8 586 130C591 130.2 594.3 130 600 129C605.7 128 613.3 125.9 620 124C626.7 122.1 633.3 119.5 640 117.5C646.7 115.5 653.3 113.2 660 112C666.7 110.8 673.3 110.3 680 110C686.7 109.7 691.7 109.6 700 110C708.3 110.4 720 111.7 730 112.5C740 113.3 748.3 114 760 115C771.7 116 788.3 115.7 800 118.5C811.7 121.3 820 126.4 830 132C840 137.6 852 147 860 152C868 157 872.8 159.1 878 162C883.2 164.9 887 166.8 891.5 169.5C896 172.2 900.5 175.6 905 178.5C909.5 181.4 914.8 184.7 918.5 187C922.2 189.3 924.6 190.3 927 192.5C929.4 194.7 931.2 197.1 933 200C934.8 202.9 936.2 206.5 937.5 210C938.8 213.5 939.9 216.7 940.5 221C941.1 225.3 941.2 231.2 941 236C940.8 240.8 940.5 242.8 939.5 250C938.5 257.2 937.8 270 935 279C932.2 288 928.8 297 923 304C917.2 311 908.7 315.5 900 321C891.3 326.5 880.7 333.1 871 337C861.3 340.9 851.5 341.8 842 344.5C832.5 347.2 823.5 349.2 814 353C804.5 356.8 794.5 363.8 785 367C775.5 370.2 766.5 372.3 757 372.5C747.5 372.7 737.5 370.5 728 368C718.5 365.5 709.3 359.3 700 357.5C690.7 355.7 681.3 355.9 672 357C662.7 358.1 652.3 362.5 644 364C635.7 365.5 629.2 366 622 366C614.8 366 608 365 601 364C594 363 587.2 361.9 580 360C572.8 358.1 565.3 355.3 558 352.5C550.7 349.7 543.2 346.3 536 343C528.8 339.7 522 336.3 515 332.5C508 328.7 501 324.1 494 320C487 315.9 479 311.5 473 308C467 304.5 462.2 301.8 458 299C453.8 296.2 450.6 295.2 448 291C445.4 286.8 443.8 280.8 442.5 274C441.2 267.2 440.8 257.7 440.5 250C440.2 242.3 440.7 234.8 441 228C441.3 221.2 441.7 214.2 442.5 209C443.3 203.8 443.1 198.9 446 196.5C448.9 194.1 456 194.8 460 194.5C464 194.2 466 195.2 470 195C474 194.8 479.6 194.2 484 193C488.4 191.8 493 189.8 496.5 187.5C500 185.2 503.2 182.8 505 179C506.8 175.2 507.7 169.7 507.5 165C507.3 160.3 505.6 154.2 504 151C502.4 147.8 500.2 146.9 498 145.5C495.8 144.1 491.2 143.9 491 142.5Z" fill="url(#gTop)"/>
<g clip-path="url(#clipTop)">
<path d="M900 321C895.2 323.7 880.7 333.1 871 337C861.3 340.9 851.5 341.8 842 344.5C832.5 347.2 823.5 349.2 814 353C804.5 356.8 794.5 363.8 785 367C775.5 370.2 766.5 372.3 757 372.5C747.5 372.7 737.5 370.5 728 368C718.5 365.5 709.3 359.3 700 357.5C690.7 355.7 681.3 355.9 672 357C662.7 358.1 652.3 362.5 644 364C635.7 365.5 629.2 366 622 366C614.8 366 608 365 601 364C594 363 587.2 361.9 580 360C572.8 358.1 565.3 355.3 558 352.5C550.7 349.7 543.2 346.3 536 343C528.8 339.7 522 336.3 515 332.5C508 328.7 501 324.1 494 320C487 315.9 479 311.5 473 308C467 304.5 460.5 300.5 458 299" fill="none" stroke="#5aa6cc" stroke-width="56" opacity="0.55" filter="url(#blur8)"/>
<rect x="430" y="100" width="520" height="290" fill="url(#gDeep)"/>
<ellipse cx="560" cy="215" rx="120" ry="60" fill="#c4eef2" opacity="0.45" filter="url(#blur8)"/>
<ellipse cx="700" cy="150" rx="160" ry="30" fill="#c4eef2" opacity="0.35" filter="url(#blur8)"/>
<ellipse cx="520" cy="310" rx="70" ry="25" fill="#86cbe0" opacity="0.45" filter="url(#blur8)"/>
</g>
<g clip-path="url(#clipCell)"><path d="M918.5 179C920.4 180.6 926.8 185.3 930 188.5C933.2 191.7 935.7 194.5 938 198C940.3 201.5 942.3 205.3 943.8 209.5C945.2 213.7 946.3 218.4 946.7 223C947.1 227.6 946.8 232.5 946.3 237C945.8 241.5 944.7 246 944 250C943.3 254 942.9 255.3 942 261C941.1 266.7 939.2 280.2 938.6 284" fill="none" stroke="#56cebc" stroke-width="9" clip-path="url(#clipRimR)"/></g>
<path d="M486 139.5C487.4 138.1 491 134 494.5 131C498 128 502.2 123.9 507 121.5C511.8 119.1 517.5 117.6 523 116.5C528.5 115.4 534.5 114.9 540 114.8C545.5 114.7 551 115.3 556 116C561 116.7 565 118.2 570 119C575 119.8 581 120.5 586 120.5C591 120.5 594.3 120.2 600 119C605.7 117.8 613.3 115.2 620 113C626.7 110.8 633.3 108 640 106C646.7 104 653.3 102.2 660 101C666.7 99.8 673.3 99.3 680 99C686.7 98.7 691.7 98.6 700 99C708.3 99.4 720 100.8 730 101.5C740 102.2 748.3 102.8 760 103.5C771.7 104.2 788.3 103.2 800 106C811.7 108.8 820 114.2 830 120C840 125.8 852 135.6 860 141C868 146.4 872.8 149.1 878 152.5C883.2 155.9 887 158.4 891.5 161.5C896 164.6 900.5 168.1 905 171C909.5 173.9 914.3 176.1 918.5 179C922.7 181.9 928.1 186.9 930 188.5L926 189.5C924.8 189.1 922 188.8 918.5 187C915 185.2 909.5 181.4 905 178.5C900.5 175.6 896 172.2 891.5 169.5C887 166.8 883.2 164.9 878 162C872.8 159.1 868 157 860 152C852 147 840 137.6 830 132C820 126.4 811.7 121.3 800 118.5C788.3 115.7 771.7 116 760 115C748.3 114 740 113.3 730 112.5C720 111.7 708.3 110.4 700 110C691.7 109.6 686.7 109.7 680 110C673.3 110.3 666.7 110.8 660 112C653.3 113.2 646.7 115.5 640 117.5C633.3 119.5 626.7 122.1 620 124C613.3 125.9 605.7 128 600 129C594.3 130 591 130.2 586 130C581 129.8 575 128.8 570 128C565 127.2 561 126.2 556 125.5C551 124.8 545.3 123.8 540 124C534.7 124.2 528.3 125.6 524 126.5C519.7 127.4 517.2 128.4 514 129.5C510.8 130.6 507.8 131.8 505 133C502.2 134.2 499.3 135.4 497 137C494.7 138.6 492 141.6 491 142.5Z" fill="url(#gBand)"/>
<path d="M486 139.5C487.4 138.1 491 134 494.5 131C498 128 502.2 123.9 507 121.5C511.8 119.1 517.5 117.6 523 116.5C528.5 115.4 534.5 114.9 540 114.8C545.5 114.7 551 115.3 556 116C561 116.7 565 118.2 570 119C575 119.8 581 120.5 586 120.5C591 120.5 594.3 120.2 600 119C605.7 117.8 613.3 115.2 620 113C626.7 110.8 633.3 108 640 106C646.7 104 653.3 102.2 660 101C666.7 99.8 673.3 99.3 680 99C686.7 98.7 691.7 98.6 700 99C708.3 99.4 720 100.8 730 101.5C740 102.2 748.3 102.8 760 103.5C771.7 104.2 788.3 103.2 800 106C811.7 108.8 820 114.2 830 120C840 125.8 852 135.6 860 141C868 146.4 872.8 149.1 878 152.5C883.2 155.9 887 158.4 891.5 161.5C896 164.6 900.5 168.1 905 171C909.5 173.9 914.3 176.1 918.5 179C922.7 181.9 926.8 185.3 930 188.5C933.2 191.7 935.7 194.5 938 198C940.3 201.5 942.3 205.3 943.8 209.5C945.2 213.7 946.2 220.8 946.7 223" fill="none" stroke="#34bfa4" stroke-width="1.3" opacity="0.9"/>
<path d="M933 200C933.8 201.7 936.2 206.5 937.5 210C938.8 213.5 939.9 216.7 940.5 221C941.1 225.3 941.2 231.2 941 236C940.8 240.8 940.5 242.8 939.5 250C938.5 257.2 937.8 270 935 279C932.2 288 928.8 297 923 304C917.2 311 908.7 315.5 900 321C891.3 326.5 880.7 333.1 871 337C861.3 340.9 851.5 341.8 842 344.5C832.5 347.2 823.5 349.2 814 353C804.5 356.8 794.5 363.8 785 367C775.5 370.2 766.5 372.3 757 372.5C747.5 372.7 737.5 370.5 728 368C718.5 365.5 709.3 359.3 700 357.5C690.7 355.7 681.3 355.9 672 357C662.7 358.1 652.3 362.5 644 364C635.7 365.5 629.2 366 622 366C614.8 366 608 365 601 364C594 363 587.2 361.9 580 360C572.8 358.1 565.3 355.3 558 352.5C550.7 349.7 543.2 346.3 536 343C528.8 339.7 522 336.3 515 332.5C508 328.7 501 324.1 494 320C487 315.9 479 311.5 473 308C467 304.5 462.2 301.8 458 299C453.8 296.2 450.6 295.2 448 291C445.4 286.8 443.8 280.8 442.5 274C441.2 267.2 440.8 257.7 440.5 250C440.2 242.3 440.7 234.8 441 228C441.3 221.2 441.7 214.2 442.5 209C443.3 203.8 445.4 198.6 446 196.5" fill="none" stroke="#c2f1f0" stroke-width="8" opacity="0.55" clip-path="url(#clipTop)"/>
<path d="M933 200C933.8 201.7 936.2 206.5 937.5 210C938.8 213.5 939.9 216.7 940.5 221C941.1 225.3 941.2 231.2 941 236C940.8 240.8 940.5 242.8 939.5 250C938.5 257.2 937.8 270 935 279C932.2 288 928.8 297 923 304C917.2 311 908.7 315.5 900 321C891.3 326.5 880.7 333.1 871 337C861.3 340.9 851.5 341.8 842 344.5C832.5 347.2 823.5 349.2 814 353C804.5 356.8 794.5 363.8 785 367C775.5 370.2 766.5 372.3 757 372.5C747.5 372.7 737.5 370.5 728 368C718.5 365.5 709.3 359.3 700 357.5C690.7 355.7 681.3 355.9 672 357C662.7 358.1 652.3 362.5 644 364C635.7 365.5 629.2 366 622 366C614.8 366 608 365 601 364C594 363 587.2 361.9 580 360C572.8 358.1 565.3 355.3 558 352.5C550.7 349.7 543.2 346.3 536 343C528.8 339.7 522 336.3 515 332.5C508 328.7 501 324.1 494 320C487 315.9 479 311.5 473 308C467 304.5 462.2 301.8 458 299C453.8 296.2 450.6 295.2 448 291C445.4 286.8 443.8 280.8 442.5 274C441.2 267.2 440.8 257.7 440.5 250C440.2 242.3 440.7 234.8 441 228C441.3 221.2 441.7 214.2 442.5 209C443.3 203.8 445.4 198.6 446 196.5" fill="none" stroke="#aaf0e6" stroke-width="2.2" stroke-linecap="round"/>
<path d="M933 200C933.8 201.7 936.2 206.5 937.5 210C938.8 213.5 939.9 216.7 940.5 221C941.1 225.3 941.2 231.2 941 236C940.8 240.8 940.5 242.8 939.5 250C938.5 257.2 937.8 270 935 279C932.2 288 928.8 297 923 304C917.2 311 908.7 315.5 900 321C891.3 326.5 880.7 333.1 871 337C861.3 340.9 851.5 341.8 842 344.5C832.5 347.2 823.5 349.2 814 353C804.5 356.8 794.5 363.8 785 367C775.5 370.2 766.5 372.3 757 372.5C747.5 372.7 737.5 370.5 728 368C718.5 365.5 709.3 359.3 700 357.5C690.7 355.7 681.3 355.9 672 357C662.7 358.1 652.3 362.5 644 364C635.7 365.5 629.2 366 622 366C614.8 366 608 365 601 364C594 363 587.2 361.9 580 360C572.8 358.1 565.3 355.3 558 352.5C550.7 349.7 543.2 346.3 536 343C528.8 339.7 522 336.3 515 332.5C508 328.7 501 324.1 494 320C487 315.9 479 311.5 473 308C467 304.5 462.2 301.8 458 299C453.8 296.2 450.6 295.2 448 291C445.4 286.8 443.8 280.8 442.5 274C441.2 267.2 440.8 257.7 440.5 250C440.2 242.3 440.7 234.8 441 228C441.3 221.2 441.7 214.2 442.5 209C443.3 203.8 445.4 198.6 446 196.5" fill="none" stroke="#d4f8f2" stroke-width="0.8" opacity="0.8"/>
<path d="M446 196.5C448.3 196.2 456 194.8 460 194.5C464 194.2 466 195.2 470 195C474 194.8 479.6 194.2 484 193C488.4 191.8 493 189.8 496.5 187.5C500 185.2 503.2 182.8 505 179C506.8 175.2 507.7 169.7 507.5 165C507.3 160.3 505.6 154.2 504 151C502.4 147.8 500.2 146.9 498 145.5C495.8 144.1 492.2 143 491 142.5" fill="none" stroke="#aaf0e6" stroke-width="1.6"/>
<path d="M443.5 196C443.9 195.4 444.4 193.6 446 192.5C447.6 191.4 449.6 190.9 453 189.5C456.4 188.1 462.5 186.4 466.5 184C470.5 181.6 474.3 178.5 477 175C479.7 171.5 481.4 167.3 482.5 163C483.6 158.7 482.9 152.9 483.5 149C484.1 145.1 485.6 141.1 486 139.5" fill="none" stroke="#2fb59f" stroke-width="1.5"/>
</g>
<g id="organelles">
<path d="M511.4 127L507.8 121.1M511.4 127L517.4 128.8M511.4 127L510.2 133.2" fill="none" stroke="#ea6f1f" stroke-width="2.1" stroke-linecap="round"/>
<path d="M540.4 121.7L539.2 114.9M540.4 121.7L545.4 125.6M540.4 121.7L537.1 127" fill="none" stroke="#ea6f1f" stroke-width="2.1" stroke-linecap="round"/>
<path d="M566.7 121.7L567.4 114.8M566.7 121.7L570.4 126.8M566.7 121.7L562 125.9" fill="none" stroke="#ea6f1f" stroke-width="2.1" stroke-linecap="round"/>
<path d="M493.8 141L495 134.2M493.8 141L497.1 146.3M493.8 141L488.8 144.9" fill="none" stroke="#ea6f1f" stroke-width="2.1" stroke-linecap="round"/>
<path d="M504.4 152.4L502.6 145.7M504.4 152.4L509.7 155.8M504.4 152.4L501.5 158" fill="none" stroke="#ea6f1f" stroke-width="2.1" stroke-linecap="round"/>
<path d="M507 171.7L500.1 171.7M507 171.7L511.7 167.5M507 171.7L511.7 175.9" fill="none" stroke="#ea6f1f" stroke-width="2.1" stroke-linecap="round"/>
<path d="M499 187L492.3 185.4M499 187L504.5 183.9M499 187L502.6 192.2" fill="none" stroke="#ea6f1f" stroke-width="2.1" stroke-linecap="round"/>
<path d="M479.8 194.6L480.3 187.7M479.8 194.6L483.7 199.6M479.8 194.6L475.3 199" fill="none" stroke="#ea6f1f" stroke-width="2.1" stroke-linecap="round"/>
<path d="M457.8 194.6L457.3 187.7M457.8 194.6L462.3 199M457.8 194.6L453.9 199.6" fill="none" stroke="#ea6f1f" stroke-width="2.1" stroke-linecap="round"/>
<path d="M449.3 212.9L442.4 213.4M449.3 212.9L453.7 208.4M449.3 212.9L454.3 216.8" fill="none" stroke="#ea6f1f" stroke-width="2.1" stroke-linecap="round"/>
<path d="M451.3 238L444.4 238M451.3 238L456 233.8M451.3 238L456 242.2" fill="none" stroke="#ea6f1f" stroke-width="2.1" stroke-linecap="round"/>
<path d="M446.4 273.8L439.6 274.8M446.4 273.8L450.4 269M446.4 273.8L451.6 277.3" fill="none" stroke="#ea6f1f" stroke-width="2.1" stroke-linecap="round"/>
<text x="511.5" y="150.3" font-size="12" font-weight="normal" font-style="normal" fill="#0a141a" text-anchor="start" >Caveolin-1</text>
<text x="692" y="141" font-size="11.8" font-weight="normal" font-style="normal" fill="#0a141a" text-anchor="start" >Endolysosome</text>
<ellipse cx="521" cy="227" rx="20" ry="6" fill="#eef5c8" opacity="0.4" filter="url(#blur2)"/>
<ellipse cx="571" cy="183" rx="12" ry="4" fill="#eef5c8" opacity="0.3" filter="url(#blur2)"/>
<ellipse cx="538" cy="197" rx="10" ry="3.5" fill="#eef5c8" opacity="0.3" filter="url(#blur2)"/>
<g><ellipse cx="520" cy="204.6" rx="20.8" ry="12.3" fill="#c7a41c" transform="rotate(-3 520 204.6)"/><circle cx="538.8" cy="204.2" r="6.3" fill="#c7a41c"/><circle cx="536" cy="209.3" r="6.5" fill="#c7a41c"/><circle cx="529.1" cy="214.2" r="5.1" fill="#c7a41c"/><circle cx="522.6" cy="214.1" r="7.1" fill="#c7a41c"/><circle cx="512.5" cy="214.9" r="5.5" fill="#c7a41c"/><circle cx="503.5" cy="210.3" r="6.1" fill="#c7a41c"/><circle cx="501.1" cy="206" r="6.1" fill="#c7a41c"/><circle cx="501.8" cy="201.3" r="5.3" fill="#c7a41c"/><circle cx="508" cy="197.8" r="7.2" fill="#c7a41c"/><circle cx="515.2" cy="195.2" r="6.8" fill="#c7a41c"/><circle cx="524.9" cy="193.5" r="5.1" fill="#c7a41c"/><circle cx="532.9" cy="196.7" r="6.4" fill="#c7a41c"/><circle cx="537.9" cy="199.1" r="5" fill="#c7a41c"/><ellipse cx="520" cy="204.6" rx="20.1" ry="11.6" fill="#f3dc46" transform="rotate(-3 520 204.6)"/><circle cx="538.8" cy="204.2" r="5.6" fill="#f3dc46"/><circle cx="536" cy="209.3" r="5.8" fill="#f3dc46"/><circle cx="529.1" cy="214.2" r="4.4" fill="#f3dc46"/><circle cx="522.6" cy="214.1" r="6.4" fill="#f3dc46"/><circle cx="512.5" cy="214.9" r="4.8" fill="#f3dc46"/><circle cx="503.5" cy="210.3" r="5.4" fill="#f3dc46"/><circle cx="501.1" cy="206" r="5.4" fill="#f3dc46"/><circle cx="501.8" cy="201.3" r="4.6" fill="#f3dc46"/><circle cx="508" cy="197.8" r="6.5" fill="#f3dc46"/><circle cx="515.2" cy="195.2" r="6.1" fill="#f3dc46"/><circle cx="524.9" cy="193.5" r="4.4" fill="#f3dc46"/><circle cx="532.9" cy="196.7" r="5.7" fill="#f3dc46"/><circle cx="537.9" cy="199.1" r="4.3" fill="#f3dc46"/><ellipse cx="520" cy="204.6" rx="23" ry="14.5" fill="url(#gLo)" transform="rotate(-3 520 204.6)"/><ellipse cx="517.2" cy="202.4" rx="12.7" ry="7.2" fill="#fff7a6" opacity="0.55" transform="rotate(-3 520 204.6)"/><ellipse cx="517.7" cy="202.9" rx="18.4" ry="11.6" fill="url(#gHi)" opacity="1" transform="rotate(-3 520 204.6)"/></g>
<text x="504" y="208.3" font-size="12" font-weight="bold" font-style="normal" fill="#1a1505" text-anchor="start" >TLR9</text>
<g><ellipse cx="570.7" cy="169.3" rx="13.1" ry="6.4" fill="#c7a41c" transform="rotate(-10 570.7 169.3)"/><circle cx="581.9" cy="168.3" r="4.1" fill="#c7a41c"/><circle cx="578.3" cy="171.5" r="4.4" fill="#c7a41c"/><circle cx="572.4" cy="173.6" r="4.4" fill="#c7a41c"/><circle cx="567.9" cy="174.6" r="3.7" fill="#c7a41c"/><circle cx="560.2" cy="172.7" r="4" fill="#c7a41c"/><circle cx="559" cy="169.8" r="3.2" fill="#c7a41c"/><circle cx="561.6" cy="167.2" r="3.4" fill="#c7a41c"/><circle cx="568.2" cy="164.8" r="3.9" fill="#c7a41c"/><circle cx="573.5" cy="163.7" r="3.4" fill="#c7a41c"/><circle cx="579.8" cy="165.3" r="4.4" fill="#c7a41c"/><ellipse cx="570.7" cy="169.3" rx="12.4" ry="5.7" fill="#f3dc46" transform="rotate(-10 570.7 169.3)"/><circle cx="581.9" cy="168.3" r="3.4" fill="#f3dc46"/><circle cx="578.3" cy="171.5" r="3.7" fill="#f3dc46"/><circle cx="572.4" cy="173.6" r="3.7" fill="#f3dc46"/><circle cx="567.9" cy="174.6" r="3" fill="#f3dc46"/><circle cx="560.2" cy="172.7" r="3.3" fill="#f3dc46"/><circle cx="559" cy="169.8" r="2.5" fill="#f3dc46"/><circle cx="561.6" cy="167.2" r="2.7" fill="#f3dc46"/><circle cx="568.2" cy="164.8" r="3.2" fill="#f3dc46"/><circle cx="573.5" cy="163.7" r="2.7" fill="#f3dc46"/><circle cx="579.8" cy="165.3" r="3.7" fill="#f3dc46"/><ellipse cx="570.7" cy="169.3" rx="14" ry="7.3" fill="url(#gLo)" transform="rotate(-10 570.7 169.3)"/><ellipse cx="569" cy="168.2" rx="7.7" ry="3.6" fill="#fff7a6" opacity="0.55" transform="rotate(-10 570.7 169.3)"/><ellipse cx="569.3" cy="168.4" rx="11.2" ry="5.8" fill="url(#gHi)" opacity="1" transform="rotate(-10 570.7 169.3)"/></g>
<g><ellipse cx="537.4" cy="185.3" rx="9.9" ry="5.3" fill="#c7a41c" transform="rotate(-10 537.4 185.3)"/><circle cx="545.4" cy="184.9" r="3.8" fill="#c7a41c"/><circle cx="543.6" cy="187.5" r="3" fill="#c7a41c"/><circle cx="539.5" cy="188.8" r="3.6" fill="#c7a41c"/><circle cx="532.7" cy="189.1" r="3.7" fill="#c7a41c"/><circle cx="529.5" cy="187.5" r="3.7" fill="#c7a41c"/><circle cx="529.7" cy="185" r="3.7" fill="#c7a41c"/><circle cx="534.4" cy="181.8" r="3.2" fill="#c7a41c"/><circle cx="539.7" cy="181.2" r="3.6" fill="#c7a41c"/><circle cx="543.8" cy="181.8" r="3.4" fill="#c7a41c"/><ellipse cx="537.4" cy="185.3" rx="9.2" ry="4.6" fill="#f3dc46" transform="rotate(-10 537.4 185.3)"/><circle cx="545.4" cy="184.9" r="3.1" fill="#f3dc46"/><circle cx="543.6" cy="187.5" r="2.3" fill="#f3dc46"/><circle cx="539.5" cy="188.8" r="2.9" fill="#f3dc46"/><circle cx="532.7" cy="189.1" r="3" fill="#f3dc46"/><circle cx="529.5" cy="187.5" r="3" fill="#f3dc46"/><circle cx="529.7" cy="185" r="3" fill="#f3dc46"/><circle cx="534.4" cy="181.8" r="2.5" fill="#f3dc46"/><circle cx="539.7" cy="181.2" r="2.9" fill="#f3dc46"/><circle cx="543.8" cy="181.8" r="2.7" fill="#f3dc46"/><ellipse cx="537.4" cy="185.3" rx="10.6" ry="6" fill="url(#gLo)" transform="rotate(-10 537.4 185.3)"/><ellipse cx="536.1" cy="184.4" rx="5.8" ry="3" fill="#fff7a6" opacity="0.55" transform="rotate(-10 537.4 185.3)"/><ellipse cx="536.3" cy="184.6" rx="8.5" ry="4.8" fill="url(#gHi)" opacity="1" transform="rotate(-10 537.4 185.3)"/></g>
<g><ellipse cx="697.5" cy="229.5" rx="10.7" ry="6" fill="#c7a41c" transform="rotate(-25 697.5 229.5)"/><circle cx="705.6" cy="226.1" r="4.3" fill="#c7a41c"/><circle cx="704.8" cy="229.4" r="3.9" fill="#c7a41c"/><circle cx="700.8" cy="233.3" r="3.3" fill="#c7a41c"/><circle cx="692.2" cy="235.5" r="3.2" fill="#c7a41c"/><circle cx="689.3" cy="233.9" r="3.6" fill="#c7a41c"/><circle cx="689.2" cy="230.9" r="3.6" fill="#c7a41c"/><circle cx="692.3" cy="227.7" r="4.1" fill="#c7a41c"/><circle cx="697.3" cy="224.3" r="3.2" fill="#c7a41c"/><circle cx="702.9" cy="223.6" r="3.3" fill="#c7a41c"/><ellipse cx="697.5" cy="229.5" rx="10" ry="5.3" fill="#f3dc46" transform="rotate(-25 697.5 229.5)"/><circle cx="705.6" cy="226.1" r="3.6" fill="#f3dc46"/><circle cx="704.8" cy="229.4" r="3.2" fill="#f3dc46"/><circle cx="700.8" cy="233.3" r="2.6" fill="#f3dc46"/><circle cx="692.2" cy="235.5" r="2.5" fill="#f3dc46"/><circle cx="689.3" cy="233.9" r="2.9" fill="#f3dc46"/><circle cx="689.2" cy="230.9" r="2.9" fill="#f3dc46"/><circle cx="692.3" cy="227.7" r="3.4" fill="#f3dc46"/><circle cx="697.3" cy="224.3" r="2.5" fill="#f3dc46"/><circle cx="702.9" cy="223.6" r="2.6" fill="#f3dc46"/><ellipse cx="697.5" cy="229.5" rx="11.5" ry="6.8" fill="url(#gLo)" transform="rotate(-25 697.5 229.5)"/><ellipse cx="696.1" cy="228.5" rx="6.3" ry="3.4" fill="#fff7a6" opacity="0.55" transform="rotate(-25 697.5 229.5)"/><ellipse cx="696.4" cy="228.7" rx="9.2" ry="5.4" fill="url(#gHi)" opacity="1" transform="rotate(-25 697.5 229.5)"/></g>
<ellipse cx="650" cy="219" rx="34" ry="20" fill="#fff" opacity="0.28" filter="url(#blur4)"/>
<path d="M617.4 154.3C618.2 152.6 620.9 150.9 622 148.8C623.2 146.7 622.8 143.1 624.3 141.7C625.8 140.3 629.2 141.4 631.1 140.4C633 139.5 633.7 136.8 635.7 136C637.7 135.2 640.6 136.1 642.8 135.5C645.1 135 647.2 132.6 649.4 132.6C651.6 132.6 653.7 135 656 135.4C658.3 135.8 661.1 134.2 663.1 134.9C665.1 135.6 666.2 138.2 668.1 139.4C670 140.5 673 140.5 674.5 141.7C676 142.9 675.7 145.2 676.9 146.6C678 147.9 680.4 148.4 681.4 149.7C682.4 151 681.8 153.1 682.9 154.5C684 155.8 687.4 156.4 688.2 157.7C689 159 687.4 160.9 687.8 162.5C688.2 164 690.7 165.4 690.5 166.8C690.3 168.2 687.2 169.3 686.4 170.6C685.7 172 686.8 173.6 686 174.8C685.2 176 682.6 176.6 681.7 177.8C680.7 178.9 681.1 180.4 680.2 181.7C679.3 183 677.1 183.9 676.2 185.4C675.2 186.9 675.7 189.4 674.5 190.8C673.3 192.2 670.6 192.2 669.1 193.6C667.6 194.9 667 197.8 665.4 198.8C663.8 199.8 661.2 198.8 659.3 199.5C657.4 200.1 655.8 202.6 654 202.7C652.2 202.8 650.3 200.4 648.4 200.1C646.4 199.9 644.3 201.6 642.5 201.1C640.7 200.6 639.2 198.1 637.3 197.1C635.4 196.2 632.7 196.4 631.1 195.4C629.5 194.4 629 192.1 627.5 191C626 189.8 623.3 189.7 622 188.5C620.7 187.3 620.8 185.2 619.7 183.9C618.5 182.6 615.9 181.9 615.1 180.5C614.3 179.1 615.5 177.1 614.9 175.6C614.3 174.1 611.9 172.9 611.7 171.4C611.5 169.9 613.7 168.4 613.9 166.9C614.1 165.4 612.3 163.6 612.8 162.3C613.3 161 616.2 160.1 617 158.8C617.7 157.5 616.6 156 617.4 154.3Z" fill="url(#gEndo)" stroke="#c5d2e2" stroke-width="0.8"/>
<path d="M677.8 170C678.3 171.7 679.3 173.7 679.2 175.5C679.1 177.3 678.2 179.2 677 180.7C675.8 182.2 673.4 183 671.9 184.2C670.3 185.4 669.2 186.7 667.7 187.9C666.3 189.1 664.9 190.7 663.1 191.5C661.4 192.4 659.1 192.7 657.1 192.8C655.1 192.9 653 192.3 651 192.2C649 192.2 647.1 192.5 645 192.6C642.8 192.7 640.2 193.2 638.2 192.6C636.3 192 634.5 190.4 633.3 189C632 187.5 631.7 185.4 630.7 183.9C629.6 182.3 628.4 181.2 627.2 179.8C626.1 178.4 624.4 177 623.7 175.3C623 173.7 622.9 171.7 623.1 170C623.3 168.3 624.4 166.6 624.9 164.9C625.4 163.2 625.7 161.5 626.2 159.8C626.8 158.1 627.1 156 628.3 154.5C629.5 153.1 631.5 151.9 633.4 151.2C635.4 150.5 637.9 150.7 639.8 150.2C641.8 149.7 643.3 148.9 645.1 148.1C647 147.3 649 145.9 651 145.6C653 145.3 655.4 145.5 657.4 146.1C659.3 146.7 660.9 148.4 662.7 149.3C664.5 150.2 666.3 150.7 668.1 151.7C669.9 152.6 672.1 153.4 673.3 154.8C674.6 156.1 675.4 158.1 675.8 159.8C676.3 161.5 675.7 163.4 676.1 165.1C676.4 166.8 677.3 168.3 677.8 170Z" fill="#c2d9f2" opacity="0.9"/>
<path d="M618 150C619.3 145.8 624 141.7 628 139C632 136.3 640.7 133.5 642 134C643.3 134.5 638.7 139 636 142C633.3 145 628.7 148.3 626 152C623.3 155.7 621.3 164.3 620 164C618.7 163.7 616.7 154.2 618 150Z" fill="#ffffff" opacity="0.85"/>
<path d="M660 136C660.7 135.2 668.7 138.3 672 141C675.3 143.7 678 148.3 680 152C682 155.7 684.7 162.3 684 163C683.3 163.7 678.7 158.8 676 156C673.3 153.2 670.7 149.3 668 146C665.3 142.7 659.3 136.8 660 136Z" fill="#ffffff" opacity="0.8"/>
<path d="M622 185C621.7 184 629.3 193.5 634 196C638.7 198.5 644.3 199.8 650 200C655.7 200.2 663 199.3 668 197C673 194.7 679.3 185.8 680 186C680.7 186.2 676.2 195 672 198C667.8 201 661 203.3 655 204C649 204.7 641.5 205.2 636 202C630.5 198.8 622.3 186 622 185Z" fill="#b8c9de" opacity="0.6"/>
<circle cx="650" cy="170.5" r="12.3" fill="#e3ecf8" opacity="0.9"/>
<circle cx="650" cy="170.5" r="10.2" fill="url(#gVes)" stroke="#f8fbff" stroke-width="1.2"/>
<path d="M643 176 A9 9 0 0 0 658 175 A11 11 0 0 1 643 176Z" fill="#c9b3cf" opacity="0.9"/>
<ellipse cx="650" cy="174" rx="4" ry="4.5" fill="#d9b9c6" opacity="0.8"/>
<circle cx="636" cy="147" r="0.95" fill="#4c9fdc"/>
<circle cx="643" cy="144" r="0.95" fill="#4c9fdc"/>
<circle cx="651" cy="143" r="0.95" fill="#4c9fdc"/>
<circle cx="659" cy="145" r="0.95" fill="#4c9fdc"/>
<circle cx="665" cy="149" r="0.95" fill="#4c9fdc"/>
<circle cx="632" cy="154" r="0.95" fill="#4c9fdc"/>
<circle cx="669" cy="156" r="0.95" fill="#4c9fdc"/>
<circle cx="630" cy="164" r="0.95" fill="#4c9fdc"/>
<circle cx="671" cy="165" r="0.95" fill="#4c9fdc"/>
<circle cx="632" cy="174" r="0.95" fill="#4c9fdc"/>
<circle cx="670" cy="176" r="0.95" fill="#4c9fdc"/>
<circle cx="637" cy="183" r="0.95" fill="#4c9fdc"/>
<circle cx="645" cy="188" r="0.95" fill="#4c9fdc"/>
<circle cx="655" cy="189" r="0.95" fill="#4c9fdc"/>
<circle cx="663" cy="184" r="0.95" fill="#4c9fdc"/>
<circle cx="640" cy="152" r="0.95" fill="#4c9fdc"/>
<circle cx="661" cy="153" r="0.95" fill="#4c9fdc"/>
<circle cx="666" cy="170" r="0.95" fill="#4c9fdc"/>
<circle cx="635" cy="169" r="0.95" fill="#4c9fdc"/>
<circle cx="636" cy="235.2" r="0.9" fill="#6fb0e0" opacity="0.3"/>
<circle cx="651" cy="237.4" r="0.9" fill="#6fb0e0" opacity="0.3"/>
<circle cx="665" cy="234.2" r="0.9" fill="#6fb0e0" opacity="0.3"/>
<circle cx="669" cy="230.3" r="0.9" fill="#6fb0e0" opacity="0.3"/>
<circle cx="671" cy="225.3" r="0.9" fill="#6fb0e0" opacity="0.3"/>
<circle cx="670" cy="219.3" r="0.9" fill="#6fb0e0" opacity="0.3"/>
<circle cx="645" cy="212.7" r="0.9" fill="#6fb0e0" opacity="0.3"/>
<circle cx="663" cy="214.9" r="0.9" fill="#6fb0e0" opacity="0.3"/>
<circle cx="661" cy="231.9" r="0.9" fill="#6fb0e0" opacity="0.3"/>
<circle cx="635" cy="223.2" r="0.9" fill="#6fb0e0" opacity="0.3"/>
<g><ellipse cx="649.5" cy="166.5" rx="3.7" ry="2.5" fill="#c7a41c" transform="rotate(0 649.5 166.5)"/><circle cx="652.1" cy="166.9" r="1.8" fill="#c7a41c"/><circle cx="648.8" cy="168" r="1.8" fill="#c7a41c"/><circle cx="646.9" cy="167" r="1.9" fill="#c7a41c"/><circle cx="647.5" cy="165.4" r="1.8" fill="#c7a41c"/><circle cx="651.2" cy="165.4" r="2" fill="#c7a41c"/><ellipse cx="649.5" cy="166.5" rx="3" ry="1.8" fill="#f3dc46" transform="rotate(0 649.5 166.5)"/><circle cx="652.1" cy="166.9" r="1.1" fill="#f3dc46"/><circle cx="648.8" cy="168" r="1.1" fill="#f3dc46"/><circle cx="646.9" cy="167" r="1.2" fill="#f3dc46"/><circle cx="647.5" cy="165.4" r="1.1" fill="#f3dc46"/><circle cx="651.2" cy="165.4" r="1.3" fill="#f3dc46"/><ellipse cx="649.5" cy="166.5" rx="3.6" ry="2.4" fill="url(#gLo)" transform="rotate(0 649.5 166.5)"/><ellipse cx="649.1" cy="166.1" rx="2" ry="1.2" fill="#fff7a6" opacity="0.55" transform="rotate(0 649.5 166.5)"/><ellipse cx="649.1" cy="166.2" rx="2.9" ry="1.9" fill="url(#gHi)" opacity="1" transform="rotate(0 649.5 166.5)"/></g>
<g><ellipse cx="609" cy="160" rx="4.6" ry="2.8" fill="#c7a41c" transform="rotate(20 609 160)"/><circle cx="612" cy="161.6" r="2.1" fill="#c7a41c"/><circle cx="608" cy="161.7" r="1.8" fill="#c7a41c"/><circle cx="605.8" cy="160" r="2" fill="#c7a41c"/><circle cx="607.1" cy="158.1" r="2.2" fill="#c7a41c"/><circle cx="611.7" cy="159.6" r="2.1" fill="#c7a41c"/><ellipse cx="609" cy="160" rx="3.9" ry="2.1" fill="#f3dc46" transform="rotate(20 609 160)"/><circle cx="612" cy="161.6" r="1.4" fill="#f3dc46"/><circle cx="608" cy="161.7" r="1.1" fill="#f3dc46"/><circle cx="605.8" cy="160" r="1.3" fill="#f3dc46"/><circle cx="607.1" cy="158.1" r="1.5" fill="#f3dc46"/><circle cx="611.7" cy="159.6" r="1.4" fill="#f3dc46"/><ellipse cx="609" cy="160" rx="4.6" ry="2.8" fill="url(#gLo)" transform="rotate(20 609 160)"/><ellipse cx="608.4" cy="159.6" rx="2.5" ry="1.4" fill="#fff7a6" opacity="0.55" transform="rotate(20 609 160)"/><ellipse cx="608.5" cy="159.7" rx="3.7" ry="2.2" fill="url(#gHi)" opacity="1" transform="rotate(20 609 160)"/></g>
<g><ellipse cx="614" cy="165.5" rx="4.6" ry="3" fill="#c7a41c" transform="rotate(-20 614 165.5)"/><circle cx="617.3" cy="164.6" r="2.2" fill="#c7a41c"/><circle cx="614.2" cy="167.3" r="2.3" fill="#c7a41c"/><circle cx="611.3" cy="167.6" r="1.9" fill="#c7a41c"/><circle cx="610.9" cy="165.1" r="1.9" fill="#c7a41c"/><circle cx="615.9" cy="163.2" r="1.8" fill="#c7a41c"/><ellipse cx="614" cy="165.5" rx="3.9" ry="2.3" fill="#f3dc46" transform="rotate(-20 614 165.5)"/><circle cx="617.3" cy="164.6" r="1.5" fill="#f3dc46"/><circle cx="614.2" cy="167.3" r="1.6" fill="#f3dc46"/><circle cx="611.3" cy="167.6" r="1.2" fill="#f3dc46"/><circle cx="610.9" cy="165.1" r="1.2" fill="#f3dc46"/><circle cx="615.9" cy="163.2" r="1.1" fill="#f3dc46"/><ellipse cx="614" cy="165.5" rx="4.6" ry="3" fill="url(#gLo)" transform="rotate(-20 614 165.5)"/><ellipse cx="613.4" cy="165.1" rx="2.5" ry="1.5" fill="#fff7a6" opacity="0.55" transform="rotate(-20 614 165.5)"/><ellipse cx="613.5" cy="165.1" rx="3.7" ry="2.4" fill="url(#gHi)" opacity="1" transform="rotate(-20 614 165.5)"/></g>
<g><ellipse cx="685" cy="168.5" rx="5.4" ry="3.1" fill="#c7a41c" transform="rotate(-20 685 168.5)"/><circle cx="689.1" cy="167.2" r="2.3" fill="#c7a41c"/><circle cx="685.3" cy="170.4" r="2.4" fill="#c7a41c"/><circle cx="681.5" cy="170.8" r="2" fill="#c7a41c"/><circle cx="682.5" cy="167.5" r="2.2" fill="#c7a41c"/><circle cx="686.4" cy="166.1" r="2.3" fill="#c7a41c"/><ellipse cx="685" cy="168.5" rx="4.7" ry="2.4" fill="#f3dc46" transform="rotate(-20 685 168.5)"/><circle cx="689.1" cy="167.2" r="1.6" fill="#f3dc46"/><circle cx="685.3" cy="170.4" r="1.7" fill="#f3dc46"/><circle cx="681.5" cy="170.8" r="1.3" fill="#f3dc46"/><circle cx="682.5" cy="167.5" r="1.5" fill="#f3dc46"/><circle cx="686.4" cy="166.1" r="1.6" fill="#f3dc46"/><ellipse cx="685" cy="168.5" rx="5.5" ry="3.2" fill="url(#gLo)" transform="rotate(-20 685 168.5)"/><ellipse cx="684.3" cy="168" rx="3" ry="1.6" fill="#fff7a6" opacity="0.55" transform="rotate(-20 685 168.5)"/><ellipse cx="684.5" cy="168.1" rx="4.4" ry="2.6" fill="url(#gHi)" opacity="1" transform="rotate(-20 685 168.5)"/></g>
<g><ellipse cx="691.5" cy="162" rx="3" ry="4" fill="#c7a41c" transform="rotate(10 691.5 162)"/><circle cx="693" cy="164.1" r="1.8" fill="#c7a41c"/><circle cx="690.7" cy="165" r="1.9" fill="#c7a41c"/><circle cx="689.3" cy="161.6" r="1.8" fill="#c7a41c"/><circle cx="691.3" cy="159.3" r="2.2" fill="#c7a41c"/><circle cx="693.1" cy="160.5" r="2.4" fill="#c7a41c"/><ellipse cx="691.5" cy="162" rx="2.3" ry="3.3" fill="#f3dc46" transform="rotate(10 691.5 162)"/><circle cx="693" cy="164.1" r="1.1" fill="#f3dc46"/><circle cx="690.7" cy="165" r="1.2" fill="#f3dc46"/><circle cx="689.3" cy="161.6" r="1.1" fill="#f3dc46"/><circle cx="691.3" cy="159.3" r="1.5" fill="#f3dc46"/><circle cx="693.1" cy="160.5" r="1.7" fill="#f3dc46"/><ellipse cx="691.5" cy="162" rx="3" ry="4" fill="url(#gLo)" transform="rotate(10 691.5 162)"/><ellipse cx="691.1" cy="161.4" rx="1.7" ry="2" fill="#fff7a6" opacity="0.55" transform="rotate(10 691.5 162)"/><ellipse cx="691.2" cy="161.5" rx="2.4" ry="3.2" fill="url(#gHi)" opacity="1" transform="rotate(10 691.5 162)"/></g>
<path d="M604 168.8C601.7 169.2 594.8 170 590 171.5C585.2 173 579.2 175.7 575 178C570.8 180.3 566.5 184.2 564.8 185.5" fill="none" stroke="#ee1c1c" stroke-width="2.3" stroke-linecap="round"/><path d="M560.4 188.8L565.7 179.1L571.2 186.5Z" fill="#ee1c1c"/>
<path d="M751.5 176C749.9 174.8 745.8 170.8 742 169C738.2 167.2 733.8 165.8 729 165.3C724.2 164.9 715.7 166.1 713 166.3" fill="none" stroke="#ee1c1c" stroke-width="2.3" stroke-linecap="round"/><path d="M707.5 166.6L717.2 161.4L717.8 170.6Z" fill="#ee1c1c"/>
<path d="M517 233.5C517 234.9 516.8 239.5 517.3 242C517.8 244.5 519.5 247.4 520 248.5" fill="none" stroke="#3f474c" stroke-width="2.6" stroke-linecap="round"/><path d="M521.7 252.6L515.1 246.6L522.1 243.7Z" fill="#3f474c"/>
<path d="M578.5 291C579.4 291.6 581.8 293.8 584 294.5C586.2 295.2 590.7 294.9 592 295" fill="none" stroke="#3f474c" stroke-width="2.6" stroke-linecap="round"/><path d="M596.4 295.3L588.2 298.6L588.6 291Z" fill="#3f474c"/>
<path d="M655.5 302.5C656.8 302.6 660.5 303.2 663 303C665.5 302.8 669.2 301.8 670.5 301.5" fill="none" stroke="#3f474c" stroke-width="2.6" stroke-linecap="round"/><path d="M674.8 300.6L667.7 305.9L666.2 298.5Z" fill="#3f474c"/>
<path d="M737.5 288.5C738.4 287.8 741.2 286.2 743 284.5C744.8 282.8 747.4 279.3 748.3 278.3" fill="none" stroke="#3f474c" stroke-width="2.6" stroke-linecap="round"/><path d="M751.2 275L748.8 283.5L743.1 278.6Z" fill="#3f474c"/>
<path d="M570.3 301V284" stroke="#ee1c1c" stroke-width="1.7"/><path d="M567 287.4L570.3 283.8L573.6 287.4" fill="none" stroke="#ee1c1c" stroke-width="1.7" stroke-linejoin="miter"/>
<path d="M647 314.2V297.8" stroke="#ee1c1c" stroke-width="1.7"/><path d="M643.7 301.2L647 297.6L650.3 301.2" fill="none" stroke="#ee1c1c" stroke-width="1.7" stroke-linejoin="miter"/>
<path d="M734.8 307V290.8" stroke="#ee1c1c" stroke-width="1.7"/><path d="M731.5 294.2L734.8 290.6L738.1 294.2" fill="none" stroke="#ee1c1c" stroke-width="1.7" stroke-linejoin="miter"/>
<ellipse cx="535.5" cy="271.5" rx="14.5" ry="10.5" fill="#e8f2fa" opacity="0.5" filter="url(#blur1)"/>
<g><path d="M543.1 263.4L547.3 261.7" stroke="#c93c88" stroke-width="1.5" stroke-linecap="round"/><path d="M543.5 265.8L547.8 265.1" stroke="#c93c88" stroke-width="1.5" stroke-linecap="round"/><path d="M543.3 267L547.6 266.8" stroke="#c93c88" stroke-width="1.5" stroke-linecap="round"/><path d="M542.1 270.3L545.9 271.4" stroke="#c93c88" stroke-width="1.5" stroke-linecap="round"/><path d="M540.2 272.6L543.4 274.8" stroke="#c93c88" stroke-width="1.5" stroke-linecap="round"/><path d="M538.2 274.3L540.6 277.2" stroke="#c93c88" stroke-width="1.5" stroke-linecap="round"/><path d="M536.1 275.6L537.8 278.9" stroke="#c93c88" stroke-width="1.5" stroke-linecap="round"/><path d="M532.5 276.9L532.7 280.7" stroke="#c93c88" stroke-width="1.5" stroke-linecap="round"/><path d="M529.8 277.2L528.9 281.1" stroke="#c93c88" stroke-width="1.5" stroke-linecap="round"/><path d="M527.8 277.1L526.1 280.8" stroke="#c93c88" stroke-width="1.5" stroke-linecap="round"/><path d="M524.9 276.1L522.1 279.4" stroke="#c93c88" stroke-width="1.5" stroke-linecap="round"/><path d="M523.4 275L520 277.8" stroke="#c93c88" stroke-width="1.5" stroke-linecap="round"/><path d="M522.2 273.4L518.3 275.5" stroke="#c93c88" stroke-width="1.5" stroke-linecap="round"/><path d="M521.5 271L517.2 272" stroke="#c93c88" stroke-width="1.5" stroke-linecap="round"/><path d="M521.7 268.6L517.5 268.6" stroke="#c93c88" stroke-width="1.5" stroke-linecap="round"/><path d="M522.7 266.1L518.8 265.1" stroke="#c93c88" stroke-width="1.5" stroke-linecap="round"/><path d="M524.6 263.6L521.3 261.5" stroke="#c93c88" stroke-width="1.5" stroke-linecap="round"/><path d="M527 261.5L524.7 258.6" stroke="#c93c88" stroke-width="1.5" stroke-linecap="round"/><path d="M529.9 260L528.6 256.5" stroke="#c93c88" stroke-width="1.5" stroke-linecap="round"/><path d="M532.7 259.1L532.6 255.2" stroke="#c93c88" stroke-width="1.5" stroke-linecap="round"/><path d="M535.6 258.8L536.6 254.9" stroke="#c93c88" stroke-width="1.5" stroke-linecap="round"/><path d="M538 259.1L540 255.4" stroke="#c93c88" stroke-width="1.5" stroke-linecap="round"/><path d="M539.7 259.7L542.4 256.3" stroke="#c93c88" stroke-width="1.5" stroke-linecap="round"/><path d="M541.5 261L545 258.1" stroke="#c93c88" stroke-width="1.5" stroke-linecap="round"/><ellipse cx="532.5" cy="268" rx="13.3" ry="9.3" fill="#b02e7a" transform="rotate(-28 532.5 268)"/><circle cx="543.4" cy="262.2" r="3.4" fill="#b02e7a"/><circle cx="543.3" cy="266.2" r="4.4" fill="#b02e7a"/><circle cx="542.9" cy="269.4" r="3.4" fill="#b02e7a"/><circle cx="539.3" cy="272.5" r="4.5" fill="#b02e7a"/><circle cx="535.8" cy="274.9" r="4.4" fill="#b02e7a"/><circle cx="530.5" cy="277.3" r="3.5" fill="#b02e7a"/><circle cx="526.6" cy="276.8" r="4" fill="#b02e7a"/><circle cx="524.1" cy="275" r="4.9" fill="#b02e7a"/><circle cx="521.4" cy="273.7" r="3.3" fill="#b02e7a"/><circle cx="521.5" cy="268.9" r="3.9" fill="#b02e7a"/><circle cx="522.4" cy="266.6" r="3.8" fill="#b02e7a"/><circle cx="526.1" cy="263.5" r="4.8" fill="#b02e7a"/><circle cx="529.1" cy="260.5" r="3.6" fill="#b02e7a"/><circle cx="534.4" cy="259.2" r="4.1" fill="#b02e7a"/><circle cx="538.9" cy="259.8" r="4.6" fill="#b02e7a"/><circle cx="541.5" cy="260.2" r="3.6" fill="#b02e7a"/><ellipse cx="532.5" cy="268" rx="12.7" ry="8.7" fill="#e272a8" transform="rotate(-28 532.5 268)"/><circle cx="543.4" cy="262.2" r="2.8" fill="#e272a8"/><circle cx="543.3" cy="266.2" r="3.8" fill="#e272a8"/><circle cx="542.9" cy="269.4" r="2.8" fill="#e272a8"/><circle cx="539.3" cy="272.5" r="3.9" fill="#e272a8"/><circle cx="535.8" cy="274.9" r="3.8" fill="#e272a8"/><circle cx="530.5" cy="277.3" r="2.9" fill="#e272a8"/><circle cx="526.6" cy="276.8" r="3.4" fill="#e272a8"/><circle cx="524.1" cy="275" r="4.3" fill="#e272a8"/><circle cx="521.4" cy="273.7" r="2.7" fill="#e272a8"/><circle cx="521.5" cy="268.9" r="3.3" fill="#e272a8"/><circle cx="522.4" cy="266.6" r="3.2" fill="#e272a8"/><circle cx="526.1" cy="263.5" r="4.2" fill="#e272a8"/><circle cx="529.1" cy="260.5" r="3" fill="#e272a8"/><circle cx="534.4" cy="259.2" r="3.5" fill="#e272a8"/><circle cx="538.9" cy="259.8" r="4" fill="#e272a8"/><circle cx="541.5" cy="260.2" r="3" fill="#e272a8"/><ellipse cx="532.5" cy="268" rx="14.5" ry="10.5" fill="url(#gLo)" transform="rotate(-28 532.5 268)"/><ellipse cx="530.8" cy="266.4" rx="8" ry="5.2" fill="#f9c6de" opacity="0.3" transform="rotate(-28 532.5 268)"/><ellipse cx="531" cy="266.7" rx="11.6" ry="8.4" fill="url(#gHi)" opacity="0.5" transform="rotate(-28 532.5 268)"/></g>
<g transform="rotate(-28 532.5 268)" fill="none" stroke="#b0246f" stroke-width="1.3" stroke-linecap="round" opacity="0.85"><path d="M523.8 262.2q4.4 -1.6 8.7 0t8.7 0"/><path d="M522.2 266.1q5.1 -1.6 10.3 0t10.3 0"/><path d="M522.2 269.9q5.1 -1.6 10.3 0t10.3 0"/><path d="M523.8 273.8q4.4 -1.6 8.7 0t8.7 0"/></g>
<ellipse cx="564" cy="274" rx="12" ry="6.8" fill="#e8f2fa" opacity="0.5" filter="url(#blur1)"/>
<g><path d="M567.3 277.8L569.8 280.8" stroke="#c93c88" stroke-width="1.5" stroke-linecap="round"/><path d="M565.4 278.5L567.1 282" stroke="#c93c88" stroke-width="1.5" stroke-linecap="round"/><path d="M564.4 278.5L565.5 282.1" stroke="#c93c88" stroke-width="1.5" stroke-linecap="round"/><path d="M561.9 277.8L561.9 281.2" stroke="#c93c88" stroke-width="1.5" stroke-linecap="round"/><path d="M560 276.8L559.1 279.8" stroke="#c93c88" stroke-width="1.5" stroke-linecap="round"/><path d="M558.2 275.4L556.6 277.9" stroke="#c93c88" stroke-width="1.5" stroke-linecap="round"/><path d="M556.5 273.6L554.1 275.3" stroke="#c93c88" stroke-width="1.5" stroke-linecap="round"/><path d="M554.9 271.4L551.9 272.2" stroke="#c93c88" stroke-width="1.5" stroke-linecap="round"/><path d="M554 269.5L550.7 269.4" stroke="#c93c88" stroke-width="1.5" stroke-linecap="round"/><path d="M553.6 267.8L550.1 267" stroke="#c93c88" stroke-width="1.5" stroke-linecap="round"/><path d="M553.4 265.9L550 264.1" stroke="#c93c88" stroke-width="1.5" stroke-linecap="round"/><path d="M553.8 264.4L550.7 261.9" stroke="#c93c88" stroke-width="1.5" stroke-linecap="round"/><path d="M554.8 263.2L552.2 260.1" stroke="#c93c88" stroke-width="1.5" stroke-linecap="round"/><path d="M556.6 262.5L555 259" stroke="#c93c88" stroke-width="1.5" stroke-linecap="round"/><path d="M557.8 262.5L556.8 259" stroke="#c93c88" stroke-width="1.5" stroke-linecap="round"/><path d="M559.4 262.9L559.1 259.4" stroke="#c93c88" stroke-width="1.5" stroke-linecap="round"/><path d="M561.8 264.1L562.5 261" stroke="#c93c88" stroke-width="1.5" stroke-linecap="round"/><path d="M564 265.8L565.8 263.4" stroke="#c93c88" stroke-width="1.5" stroke-linecap="round"/><path d="M565.4 267.3L567.8 265.5" stroke="#c93c88" stroke-width="1.5" stroke-linecap="round"/><path d="M567 269.6L570 268.7" stroke="#c93c88" stroke-width="1.5" stroke-linecap="round"/><path d="M567.8 271L571 270.8" stroke="#c93c88" stroke-width="1.5" stroke-linecap="round"/><path d="M568.4 273L571.9 273.8" stroke="#c93c88" stroke-width="1.5" stroke-linecap="round"/><path d="M568.5 275.4L571.9 277.3" stroke="#c93c88" stroke-width="1.5" stroke-linecap="round"/><path d="M568.2 276.5L571.4 278.9" stroke="#c93c88" stroke-width="1.5" stroke-linecap="round"/><ellipse cx="561" cy="270.5" rx="11.3" ry="6.1" fill="#b02e7a" transform="rotate(48 561 270.5)"/><circle cx="567.9" cy="278.3" r="2.7" fill="#b02e7a"/><circle cx="565.4" cy="278.4" r="3.5" fill="#b02e7a"/><circle cx="562.5" cy="277.7" r="3.3" fill="#b02e7a"/><circle cx="560.1" cy="276.3" r="3.1" fill="#b02e7a"/><circle cx="556.3" cy="272.5" r="3.1" fill="#b02e7a"/><circle cx="554.5" cy="269.1" r="3.5" fill="#b02e7a"/><circle cx="553" cy="266.9" r="2.5" fill="#b02e7a"/><circle cx="553.2" cy="263.8" r="2.6" fill="#b02e7a"/><circle cx="554.3" cy="263.1" r="3.3" fill="#b02e7a"/><circle cx="557.2" cy="262.6" r="3.5" fill="#b02e7a"/><circle cx="560.3" cy="263.3" r="2.7" fill="#b02e7a"/><circle cx="562.1" cy="264.3" r="2.6" fill="#b02e7a"/><circle cx="566.2" cy="268.5" r="2.6" fill="#b02e7a"/><circle cx="567.6" cy="270.5" r="2.5" fill="#b02e7a"/><circle cx="568.8" cy="273.6" r="2.5" fill="#b02e7a"/><circle cx="568.9" cy="276.7" r="2.7" fill="#b02e7a"/><ellipse cx="561" cy="270.5" rx="10.7" ry="5.5" fill="#e272a8" transform="rotate(48 561 270.5)"/><circle cx="567.9" cy="278.3" r="2.1" fill="#e272a8"/><circle cx="565.4" cy="278.4" r="2.9" fill="#e272a8"/><circle cx="562.5" cy="277.7" r="2.7" fill="#e272a8"/><circle cx="560.1" cy="276.3" r="2.5" fill="#e272a8"/><circle cx="556.3" cy="272.5" r="2.5" fill="#e272a8"/><circle cx="554.5" cy="269.1" r="2.9" fill="#e272a8"/><circle cx="553" cy="266.9" r="1.9" fill="#e272a8"/><circle cx="553.2" cy="263.8" r="2" fill="#e272a8"/><circle cx="554.3" cy="263.1" r="2.7" fill="#e272a8"/><circle cx="557.2" cy="262.6" r="2.9" fill="#e272a8"/><circle cx="560.3" cy="263.3" r="2.1" fill="#e272a8"/><circle cx="562.1" cy="264.3" r="2" fill="#e272a8"/><circle cx="566.2" cy="268.5" r="2" fill="#e272a8"/><circle cx="567.6" cy="270.5" r="1.9" fill="#e272a8"/><circle cx="568.8" cy="273.6" r="1.9" fill="#e272a8"/><circle cx="568.9" cy="276.7" r="2.1" fill="#e272a8"/><ellipse cx="561" cy="270.5" rx="12" ry="6.8" fill="url(#gLo)" transform="rotate(48 561 270.5)"/><ellipse cx="559.6" cy="269.5" rx="6.6" ry="3.4" fill="#f9c6de" opacity="0.3" transform="rotate(48 561 270.5)"/><ellipse cx="559.8" cy="269.7" rx="9.6" ry="5.4" fill="url(#gHi)" opacity="0.5" transform="rotate(48 561 270.5)"/></g>
<g transform="rotate(48 561 270.5)" fill="none" stroke="#b0246f" stroke-width="1.3" stroke-linecap="round" opacity="0.85"><path d="M553.8 266.8q3.6 -1.6 7.2 0t7.2 0"/><path d="M552.4 270.5q4.3 -1.6 8.6 0t8.6 0"/><path d="M553.8 274.2q3.6 -1.6 7.2 0t7.2 0"/></g>
<ellipse cx="547.5" cy="293" rx="13.5" ry="7.6" fill="#e8f2fa" opacity="0.5" filter="url(#blur1)"/>
<g><path d="M551.7 281.5L554.6 278.3" stroke="#c93c88" stroke-width="1.5" stroke-linecap="round"/><path d="M552.4 282.9L555.8 280.4" stroke="#c93c88" stroke-width="1.5" stroke-linecap="round"/><path d="M552.7 284.1L556.2 282.2" stroke="#c93c88" stroke-width="1.5" stroke-linecap="round"/><path d="M552.5 286.5L556.1 285.6" stroke="#c93c88" stroke-width="1.5" stroke-linecap="round"/><path d="M551.9 288.8L555.3 288.9" stroke="#c93c88" stroke-width="1.5" stroke-linecap="round"/><path d="M550.7 291.2L553.6 292.4" stroke="#c93c88" stroke-width="1.5" stroke-linecap="round"/><path d="M549.3 293.3L551.7 295.2" stroke="#c93c88" stroke-width="1.5" stroke-linecap="round"/><path d="M546.9 295.8L548.3 298.7" stroke="#c93c88" stroke-width="1.5" stroke-linecap="round"/><path d="M545 297.2L545.7 300.6" stroke="#c93c88" stroke-width="1.5" stroke-linecap="round"/><path d="M542.8 298.3L542.5 302.1" stroke="#c93c88" stroke-width="1.5" stroke-linecap="round"/><path d="M541 298.8L539.8 302.7" stroke="#c93c88" stroke-width="1.5" stroke-linecap="round"/><path d="M539.2 298.7L537.3 302.4" stroke="#c93c88" stroke-width="1.5" stroke-linecap="round"/><path d="M537.8 298L535.2 301.4" stroke="#c93c88" stroke-width="1.5" stroke-linecap="round"/><path d="M536.6 296L533.2 298.5" stroke="#c93c88" stroke-width="1.5" stroke-linecap="round"/><path d="M536.3 294.2L532.7 295.9" stroke="#c93c88" stroke-width="1.5" stroke-linecap="round"/><path d="M536.5 292.2L532.9 293" stroke="#c93c88" stroke-width="1.5" stroke-linecap="round"/><path d="M537.1 290.4L533.6 290.3" stroke="#c93c88" stroke-width="1.5" stroke-linecap="round"/><path d="M538.3 287.9L535.2 286.9" stroke="#c93c88" stroke-width="1.5" stroke-linecap="round"/><path d="M539.8 285.6L537.4 283.7" stroke="#c93c88" stroke-width="1.5" stroke-linecap="round"/><path d="M541.9 283.4L540.4 280.5" stroke="#c93c88" stroke-width="1.5" stroke-linecap="round"/><path d="M543.7 282L543 278.6" stroke="#c93c88" stroke-width="1.5" stroke-linecap="round"/><path d="M546.1 280.7L546.4 276.9" stroke="#c93c88" stroke-width="1.5" stroke-linecap="round"/><path d="M548.1 280.2L549.2 276.3" stroke="#c93c88" stroke-width="1.5" stroke-linecap="round"/><path d="M549.8 280.3L551.8 276.6" stroke="#c93c88" stroke-width="1.5" stroke-linecap="round"/><ellipse cx="544.5" cy="289.5" rx="12.7" ry="6.8" fill="#b02e7a" transform="rotate(-52 544.5 289.5)"/><circle cx="551.9" cy="281" r="3.4" fill="#b02e7a"/><circle cx="553" cy="283.5" r="3" fill="#b02e7a"/><circle cx="551.9" cy="286.7" r="3.8" fill="#b02e7a"/><circle cx="550.6" cy="291.1" r="2.9" fill="#b02e7a"/><circle cx="547.9" cy="294" r="3.4" fill="#b02e7a"/><circle cx="544.9" cy="296.4" r="3.9" fill="#b02e7a"/><circle cx="541.8" cy="298.8" r="3.2" fill="#b02e7a"/><circle cx="538.5" cy="299" r="3.4" fill="#b02e7a"/><circle cx="537.1" cy="298.5" r="3" fill="#b02e7a"/><circle cx="535.8" cy="296" r="2.7" fill="#b02e7a"/><circle cx="536.9" cy="292.4" r="3.6" fill="#b02e7a"/><circle cx="538.5" cy="289.1" r="3.7" fill="#b02e7a"/><circle cx="541.5" cy="284.5" r="3.3" fill="#b02e7a"/><circle cx="544.1" cy="281.6" r="2.8" fill="#b02e7a"/><circle cx="546.5" cy="281.1" r="3.9" fill="#b02e7a"/><circle cx="549.8" cy="279.6" r="2.9" fill="#b02e7a"/><ellipse cx="544.5" cy="289.5" rx="12.1" ry="6.2" fill="#e272a8" transform="rotate(-52 544.5 289.5)"/><circle cx="551.9" cy="281" r="2.8" fill="#e272a8"/><circle cx="553" cy="283.5" r="2.4" fill="#e272a8"/><circle cx="551.9" cy="286.7" r="3.2" fill="#e272a8"/><circle cx="550.6" cy="291.1" r="2.3" fill="#e272a8"/><circle cx="547.9" cy="294" r="2.8" fill="#e272a8"/><circle cx="544.9" cy="296.4" r="3.3" fill="#e272a8"/><circle cx="541.8" cy="298.8" r="2.6" fill="#e272a8"/><circle cx="538.5" cy="299" r="2.8" fill="#e272a8"/><circle cx="537.1" cy="298.5" r="2.4" fill="#e272a8"/><circle cx="535.8" cy="296" r="2.1" fill="#e272a8"/><circle cx="536.9" cy="292.4" r="3" fill="#e272a8"/><circle cx="538.5" cy="289.1" r="3.1" fill="#e272a8"/><circle cx="541.5" cy="284.5" r="2.7" fill="#e272a8"/><circle cx="544.1" cy="281.6" r="2.2" fill="#e272a8"/><circle cx="546.5" cy="281.1" r="3.3" fill="#e272a8"/><circle cx="549.8" cy="279.6" r="2.3" fill="#e272a8"/><ellipse cx="544.5" cy="289.5" rx="13.5" ry="7.6" fill="url(#gLo)" transform="rotate(-52 544.5 289.5)"/><ellipse cx="542.9" cy="288.4" rx="7.4" ry="3.8" fill="#f9c6de" opacity="0.3" transform="rotate(-52 544.5 289.5)"/><ellipse cx="543.1" cy="288.6" rx="10.8" ry="6.1" fill="url(#gHi)" opacity="0.5" transform="rotate(-52 544.5 289.5)"/></g>
<g transform="rotate(-52 544.5 289.5)" fill="none" stroke="#b0246f" stroke-width="1.3" stroke-linecap="round" opacity="0.85"><path d="M536.4 285.3q4.1 -1.6 8.1 0t8.1 0"/><path d="M534.9 288.1q4.8 -1.6 9.6 0t9.6 0"/><path d="M534.9 290.9q4.8 -1.6 9.6 0t9.6 0"/><path d="M536.4 293.7q4.1 -1.6 8.1 0t8.1 0"/></g>
<text x="484" y="290.7" font-size="12" font-weight="normal" font-style="normal" fill="#0a141a" text-anchor="start" >Myd88</text>
<ellipse cx="614.5" cy="282.5" rx="10.3" ry="11.8" fill="#e8f2fa" opacity="0.5" filter="url(#blur1)"/>
<g><path d="M619.1 279.2L623.7 279.2" stroke="#e0483c" stroke-width="1.5" stroke-linecap="round"/><path d="M618.6 282.3L622.8 284.1" stroke="#e0483c" stroke-width="1.5" stroke-linecap="round"/><path d="M617.8 283.9L621.6 286.6" stroke="#e0483c" stroke-width="1.5" stroke-linecap="round"/><path d="M615.7 286.3L618.2 290.4" stroke="#e0483c" stroke-width="1.5" stroke-linecap="round"/><path d="M614 287.3L615.5 292" stroke="#e0483c" stroke-width="1.5" stroke-linecap="round"/><path d="M611.5 287.8L611.5 292.7" stroke="#e0483c" stroke-width="1.5" stroke-linecap="round"/><path d="M610.4 287.7L609.7 292.5" stroke="#e0483c" stroke-width="1.5" stroke-linecap="round"/><path d="M608 286.8L605.9 291.2" stroke="#e0483c" stroke-width="1.5" stroke-linecap="round"/><path d="M606 285.1L602.7 288.5" stroke="#e0483c" stroke-width="1.5" stroke-linecap="round"/><path d="M604.8 283.1L600.7 285.4" stroke="#e0483c" stroke-width="1.5" stroke-linecap="round"/><path d="M604.2 281.3L599.7 282.5" stroke="#e0483c" stroke-width="1.5" stroke-linecap="round"/><path d="M604 277.9L599.4 277.3" stroke="#e0483c" stroke-width="1.5" stroke-linecap="round"/><path d="M604.5 275.5L600.3 273.6" stroke="#e0483c" stroke-width="1.5" stroke-linecap="round"/><path d="M605.3 273.9L601.5 271.1" stroke="#e0483c" stroke-width="1.5" stroke-linecap="round"/><path d="M606.6 272.2L603.7 268.5" stroke="#e0483c" stroke-width="1.5" stroke-linecap="round"/><path d="M609 270.7L607.5 266.1" stroke="#e0483c" stroke-width="1.5" stroke-linecap="round"/><path d="M610.9 270.2L610.5 265.3" stroke="#e0483c" stroke-width="1.5" stroke-linecap="round"/><path d="M613.3 270.4L614.4 265.7" stroke="#e0483c" stroke-width="1.5" stroke-linecap="round"/><path d="M615.1 271.3L617.3 267" stroke="#e0483c" stroke-width="1.5" stroke-linecap="round"/><path d="M616.8 272.7L620 269.2" stroke="#e0483c" stroke-width="1.5" stroke-linecap="round"/><path d="M617.9 274.3L621.8 271.6" stroke="#e0483c" stroke-width="1.5" stroke-linecap="round"/><path d="M618.8 276.7L623.3 275.4" stroke="#e0483c" stroke-width="1.5" stroke-linecap="round"/><ellipse cx="611.5" cy="279" rx="8.3" ry="9.8" fill="#b5302a" transform="rotate(0 611.5 279)"/><circle cx="618.9" cy="279.8" r="3.3" fill="#b5302a"/><circle cx="617.4" cy="282.8" r="4.3" fill="#b5302a"/><circle cx="615.1" cy="286.2" r="4" fill="#b5302a"/><circle cx="612.2" cy="287.7" r="3.5" fill="#b5302a"/><circle cx="608.8" cy="286.9" r="3.8" fill="#b5302a"/><circle cx="606.3" cy="284.6" r="3.9" fill="#b5302a"/><circle cx="604.6" cy="281.2" r="3.6" fill="#b5302a"/><circle cx="604" cy="278.7" r="3.2" fill="#b5302a"/><circle cx="605.4" cy="273.8" r="3.2" fill="#b5302a"/><circle cx="608" cy="271.7" r="3.9" fill="#b5302a"/><circle cx="610.1" cy="270.9" r="4.1" fill="#b5302a"/><circle cx="613" cy="271" r="4.2" fill="#b5302a"/><circle cx="617.1" cy="273.2" r="3.3" fill="#b5302a"/><circle cx="618.1" cy="276.6" r="4" fill="#b5302a"/><ellipse cx="611.5" cy="279" rx="7.8" ry="9.3" fill="#ea4f3c" transform="rotate(0 611.5 279)"/><circle cx="618.9" cy="279.8" r="2.8" fill="#ea4f3c"/><circle cx="617.4" cy="282.8" r="3.8" fill="#ea4f3c"/><circle cx="615.1" cy="286.2" r="3.5" fill="#ea4f3c"/><circle cx="612.2" cy="287.7" r="3" fill="#ea4f3c"/><circle cx="608.8" cy="286.9" r="3.3" fill="#ea4f3c"/><circle cx="606.3" cy="284.6" r="3.4" fill="#ea4f3c"/><circle cx="604.6" cy="281.2" r="3.1" fill="#ea4f3c"/><circle cx="604" cy="278.7" r="2.7" fill="#ea4f3c"/><circle cx="605.4" cy="273.8" r="2.7" fill="#ea4f3c"/><circle cx="608" cy="271.7" r="3.4" fill="#ea4f3c"/><circle cx="610.1" cy="270.9" r="3.6" fill="#ea4f3c"/><circle cx="613" cy="271" r="3.7" fill="#ea4f3c"/><circle cx="617.1" cy="273.2" r="2.8" fill="#ea4f3c"/><circle cx="618.1" cy="276.6" r="3.5" fill="#ea4f3c"/><ellipse cx="611.5" cy="279" rx="9.5" ry="11" fill="url(#gLo)" transform="rotate(0 611.5 279)"/><ellipse cx="610.4" cy="277.4" rx="5.2" ry="5.5" fill="#ffa888" opacity="0.28" transform="rotate(0 611.5 279)"/><ellipse cx="610.5" cy="277.7" rx="7.6" ry="8.8" fill="url(#gHi)" opacity="0.5" transform="rotate(0 611.5 279)"/></g>
<circle cx="623.9" cy="280.7" r="0.7" fill="#6a6f96" opacity="0.8"/>
<circle cx="621.8" cy="286.9" r="0.7" fill="#6a6f96" opacity="0.8"/>
<circle cx="617.2" cy="291.5" r="0.7" fill="#6a6f96" opacity="0.8"/>
<circle cx="608" cy="292.4" r="0.7" fill="#6a6f96" opacity="0.8"/>
<circle cx="603.4" cy="289.7" r="0.7" fill="#6a6f96" opacity="0.8"/>
<circle cx="599.6" cy="283.2" r="0.7" fill="#6a6f96" opacity="0.8"/>
<circle cx="599.2" cy="276.6" r="0.7" fill="#6a6f96" opacity="0.8"/>
<circle cx="601.5" cy="270.6" r="0.7" fill="#6a6f96" opacity="0.8"/>
<circle cx="607.9" cy="265.6" r="0.7" fill="#6a6f96" opacity="0.8"/>
<circle cx="613.8" cy="265.2" r="0.7" fill="#6a6f96" opacity="0.8"/>
<circle cx="620.2" cy="268.9" r="0.7" fill="#6a6f96" opacity="0.8"/>
<circle cx="623.4" cy="274.7" r="0.7" fill="#6a6f96" opacity="0.8"/>
<ellipse cx="637.5" cy="294" rx="11" ry="8.8" fill="#e8f2fa" opacity="0.5" filter="url(#blur1)"/>
<g><path d="M642.6 291.3L647.3 291.8" stroke="#e0483c" stroke-width="1.5" stroke-linecap="round"/><path d="M642.1 292.8L646.5 294.4" stroke="#e0483c" stroke-width="1.5" stroke-linecap="round"/><path d="M640.8 294.6L644.5 297.3" stroke="#e0483c" stroke-width="1.5" stroke-linecap="round"/><path d="M639.2 295.7L641.9 299.3" stroke="#e0483c" stroke-width="1.5" stroke-linecap="round"/><path d="M637.3 296.5L638.9 300.5" stroke="#e0483c" stroke-width="1.5" stroke-linecap="round"/><path d="M634.5 296.9L634.5 301.2" stroke="#e0483c" stroke-width="1.5" stroke-linecap="round"/><path d="M632.9 296.8L632 301" stroke="#e0483c" stroke-width="1.5" stroke-linecap="round"/><path d="M630.5 296.1L628.2 299.9" stroke="#e0483c" stroke-width="1.5" stroke-linecap="round"/><path d="M628.5 294.8L625 297.7" stroke="#e0483c" stroke-width="1.5" stroke-linecap="round"/><path d="M627.3 293.5L623.1 295.5" stroke="#e0483c" stroke-width="1.5" stroke-linecap="round"/><path d="M626.4 291.5L621.8 292.2" stroke="#e0483c" stroke-width="1.5" stroke-linecap="round"/><path d="M626.4 290L621.6 289.6" stroke="#e0483c" stroke-width="1.5" stroke-linecap="round"/><path d="M626.9 288.1L622.6 286.5" stroke="#e0483c" stroke-width="1.5" stroke-linecap="round"/><path d="M627.7 287L623.7 284.7" stroke="#e0483c" stroke-width="1.5" stroke-linecap="round"/><path d="M629.4 285.5L626.4 282.2" stroke="#e0483c" stroke-width="1.5" stroke-linecap="round"/><path d="M631.4 284.6L629.6 280.6" stroke="#e0483c" stroke-width="1.5" stroke-linecap="round"/><path d="M633.4 284.2L632.8 279.9" stroke="#e0483c" stroke-width="1.5" stroke-linecap="round"/><path d="M635.9 284.2L636.8 280" stroke="#e0483c" stroke-width="1.5" stroke-linecap="round"/><path d="M638 284.7L640 280.8" stroke="#e0483c" stroke-width="1.5" stroke-linecap="round"/><path d="M640.1 285.8L643.3 282.7" stroke="#e0483c" stroke-width="1.5" stroke-linecap="round"/><path d="M641.7 287.5L645.9 285.6" stroke="#e0483c" stroke-width="1.5" stroke-linecap="round"/><path d="M642.4 289L647 288" stroke="#e0483c" stroke-width="1.5" stroke-linecap="round"/><ellipse cx="634.5" cy="290.5" rx="9.2" ry="7" fill="#b5302a" transform="rotate(0 634.5 290.5)"/><circle cx="643" cy="291.4" r="2.7" fill="#b5302a"/><circle cx="641.8" cy="293.5" r="2.9" fill="#b5302a"/><circle cx="638.4" cy="295.5" r="3.5" fill="#b5302a"/><circle cx="634.7" cy="296.8" r="2.7" fill="#b5302a"/><circle cx="631.8" cy="296.6" r="2.7" fill="#b5302a"/><circle cx="629.1" cy="294.9" r="3.3" fill="#b5302a"/><circle cx="626.9" cy="293.2" r="2.9" fill="#b5302a"/><circle cx="626.5" cy="289.6" r="3.3" fill="#b5302a"/><circle cx="627.4" cy="287.7" r="3.4" fill="#b5302a"/><circle cx="630.4" cy="284.9" r="2.6" fill="#b5302a"/><circle cx="634.2" cy="284.8" r="3.5" fill="#b5302a"/><circle cx="637" cy="284.5" r="2.8" fill="#b5302a"/><circle cx="640.9" cy="286.7" r="3.1" fill="#b5302a"/><circle cx="642.2" cy="287.9" r="2.7" fill="#b5302a"/><ellipse cx="634.5" cy="290.5" rx="8.7" ry="6.5" fill="#ea4f3c" transform="rotate(0 634.5 290.5)"/><circle cx="643" cy="291.4" r="2.2" fill="#ea4f3c"/><circle cx="641.8" cy="293.5" r="2.4" fill="#ea4f3c"/><circle cx="638.4" cy="295.5" r="3" fill="#ea4f3c"/><circle cx="634.7" cy="296.8" r="2.2" fill="#ea4f3c"/><circle cx="631.8" cy="296.6" r="2.2" fill="#ea4f3c"/><circle cx="629.1" cy="294.9" r="2.8" fill="#ea4f3c"/><circle cx="626.9" cy="293.2" r="2.4" fill="#ea4f3c"/><circle cx="626.5" cy="289.6" r="2.8" fill="#ea4f3c"/><circle cx="627.4" cy="287.7" r="2.9" fill="#ea4f3c"/><circle cx="630.4" cy="284.9" r="2.1" fill="#ea4f3c"/><circle cx="634.2" cy="284.8" r="3" fill="#ea4f3c"/><circle cx="637" cy="284.5" r="2.3" fill="#ea4f3c"/><circle cx="640.9" cy="286.7" r="2.6" fill="#ea4f3c"/><circle cx="642.2" cy="287.9" r="2.2" fill="#ea4f3c"/><ellipse cx="634.5" cy="290.5" rx="10.2" ry="8" fill="url(#gLo)" transform="rotate(0 634.5 290.5)"/><ellipse cx="633.3" cy="289.3" rx="5.6" ry="4" fill="#ffa888" opacity="0.28" transform="rotate(0 634.5 290.5)"/><ellipse cx="633.5" cy="289.5" rx="8.2" ry="6.4" fill="url(#gHi)" opacity="0.5" transform="rotate(0 634.5 290.5)"/></g>
<circle cx="647.4" cy="292.7" r="0.7" fill="#6a6f96" opacity="0.8"/>
<circle cx="645.9" cy="296.1" r="0.7" fill="#6a6f96" opacity="0.8"/>
<circle cx="640.1" cy="300.5" r="0.7" fill="#6a6f96" opacity="0.8"/>
<circle cx="633.6" cy="301.5" r="0.7" fill="#6a6f96" opacity="0.8"/>
<circle cx="625.5" cy="298.5" r="0.7" fill="#6a6f96" opacity="0.8"/>
<circle cx="621.9" cy="293.9" r="0.7" fill="#6a6f96" opacity="0.8"/>
<circle cx="621.8" cy="287.5" r="0.7" fill="#6a6f96" opacity="0.8"/>
<circle cx="623.3" cy="284.7" r="0.7" fill="#6a6f96" opacity="0.8"/>
<circle cx="629.5" cy="280.3" r="0.7" fill="#6a6f96" opacity="0.8"/>
<circle cx="634.6" cy="279.5" r="0.7" fill="#6a6f96" opacity="0.8"/>
<circle cx="641.9" cy="281.4" r="0.7" fill="#6a6f96" opacity="0.8"/>
<circle cx="646.8" cy="286.6" r="0.7" fill="#6a6f96" opacity="0.8"/>
<ellipse cx="620.5" cy="312" rx="9.3" ry="10.3" fill="#e8f2fa" opacity="0.5" filter="url(#blur1)"/>
<g><path d="M624.3 308.6L628.7 308.6" stroke="#e0483c" stroke-width="1.5" stroke-linecap="round"/><path d="M623.7 311.6L627.7 313.5" stroke="#e0483c" stroke-width="1.5" stroke-linecap="round"/><path d="M622.7 313.3L626.1 316.3" stroke="#e0483c" stroke-width="1.5" stroke-linecap="round"/><path d="M621.7 314.4L624.5 318" stroke="#e0483c" stroke-width="1.5" stroke-linecap="round"/><path d="M619.5 315.8L620.8 320.1" stroke="#e0483c" stroke-width="1.5" stroke-linecap="round"/><path d="M618 316.1L618.3 320.7" stroke="#e0483c" stroke-width="1.5" stroke-linecap="round"/><path d="M616.4 316L615.7 320.5" stroke="#e0483c" stroke-width="1.5" stroke-linecap="round"/><path d="M613.9 315L611.6 318.9" stroke="#e0483c" stroke-width="1.5" stroke-linecap="round"/><path d="M612.6 313.8L609.5 317" stroke="#e0483c" stroke-width="1.5" stroke-linecap="round"/><path d="M611.3 311.7L607.4 313.7" stroke="#e0483c" stroke-width="1.5" stroke-linecap="round"/><path d="M610.8 309.9L606.5 310.8" stroke="#e0483c" stroke-width="1.5" stroke-linecap="round"/><path d="M610.7 308.4L606.3 308.3" stroke="#e0483c" stroke-width="1.5" stroke-linecap="round"/><path d="M611.2 305.7L607.1 304" stroke="#e0483c" stroke-width="1.5" stroke-linecap="round"/><path d="M612.2 303.7L608.8 300.8" stroke="#e0483c" stroke-width="1.5" stroke-linecap="round"/><path d="M613.7 302.2L611.3 298.3" stroke="#e0483c" stroke-width="1.5" stroke-linecap="round"/><path d="M615 301.4L613.3 297.2" stroke="#e0483c" stroke-width="1.5" stroke-linecap="round"/><path d="M617 300.9L616.7 296.3" stroke="#e0483c" stroke-width="1.5" stroke-linecap="round"/><path d="M619.1 301.1L620.2 296.7" stroke="#e0483c" stroke-width="1.5" stroke-linecap="round"/><path d="M620.5 301.7L622.4 297.5" stroke="#e0483c" stroke-width="1.5" stroke-linecap="round"/><path d="M622.5 303.4L625.8 300.3" stroke="#e0483c" stroke-width="1.5" stroke-linecap="round"/><path d="M623.6 305.1L627.5 303.1" stroke="#e0483c" stroke-width="1.5" stroke-linecap="round"/><path d="M624 306.4L628.3 305.1" stroke="#e0483c" stroke-width="1.5" stroke-linecap="round"/><ellipse cx="617.5" cy="308.5" rx="7.5" ry="8.5" fill="#b5302a" transform="rotate(0 617.5 308.5)"/><circle cx="623.6" cy="308.6" r="3.7" fill="#b5302a"/><circle cx="623.1" cy="311.9" r="3.4" fill="#b5302a"/><circle cx="620.5" cy="314.6" r="3.8" fill="#b5302a"/><circle cx="618.3" cy="315.8" r="3.4" fill="#b5302a"/><circle cx="616.1" cy="315.7" r="3.3" fill="#b5302a"/><circle cx="613.4" cy="313.6" r="3.9" fill="#b5302a"/><circle cx="611.8" cy="310.8" r="3.8" fill="#b5302a"/><circle cx="610.9" cy="307.8" r="3" fill="#b5302a"/><circle cx="612.7" cy="304.3" r="3.9" fill="#b5302a"/><circle cx="613.8" cy="302.1" r="2.9" fill="#b5302a"/><circle cx="616.8" cy="301.2" r="3.4" fill="#b5302a"/><circle cx="619.9" cy="301.9" r="3.5" fill="#b5302a"/><circle cx="621.9" cy="303.4" r="3.5" fill="#b5302a"/><circle cx="623.8" cy="305.7" r="2.8" fill="#b5302a"/><ellipse cx="617.5" cy="308.5" rx="7" ry="8" fill="#ea4f3c" transform="rotate(0 617.5 308.5)"/><circle cx="623.6" cy="308.6" r="3.2" fill="#ea4f3c"/><circle cx="623.1" cy="311.9" r="2.9" fill="#ea4f3c"/><circle cx="620.5" cy="314.6" r="3.3" fill="#ea4f3c"/><circle cx="618.3" cy="315.8" r="2.9" fill="#ea4f3c"/><circle cx="616.1" cy="315.7" r="2.8" fill="#ea4f3c"/><circle cx="613.4" cy="313.6" r="3.4" fill="#ea4f3c"/><circle cx="611.8" cy="310.8" r="3.3" fill="#ea4f3c"/><circle cx="610.9" cy="307.8" r="2.5" fill="#ea4f3c"/><circle cx="612.7" cy="304.3" r="3.4" fill="#ea4f3c"/><circle cx="613.8" cy="302.1" r="2.4" fill="#ea4f3c"/><circle cx="616.8" cy="301.2" r="2.9" fill="#ea4f3c"/><circle cx="619.9" cy="301.9" r="3" fill="#ea4f3c"/><circle cx="621.9" cy="303.4" r="3" fill="#ea4f3c"/><circle cx="623.8" cy="305.7" r="2.3" fill="#ea4f3c"/><ellipse cx="617.5" cy="308.5" rx="8.5" ry="9.5" fill="url(#gLo)" transform="rotate(0 617.5 308.5)"/><ellipse cx="616.5" cy="307.1" rx="4.7" ry="4.8" fill="#ffa888" opacity="0.28" transform="rotate(0 617.5 308.5)"/><ellipse cx="616.6" cy="307.4" rx="6.8" ry="7.6" fill="url(#gHi)" opacity="0.5" transform="rotate(0 617.5 308.5)"/></g>
<circle cx="629" cy="308.7" r="0.7" fill="#6a6f96" opacity="0.8"/>
<circle cx="626" cy="317" r="0.7" fill="#6a6f96" opacity="0.8"/>
<circle cx="622.8" cy="319.6" r="0.7" fill="#6a6f96" opacity="0.8"/>
<circle cx="615.8" cy="320.9" r="0.7" fill="#6a6f96" opacity="0.8"/>
<circle cx="609.8" cy="317.8" r="0.7" fill="#6a6f96" opacity="0.8"/>
<circle cx="606.4" cy="311.9" r="0.7" fill="#6a6f96" opacity="0.8"/>
<circle cx="606.1" cy="306.7" r="0.7" fill="#6a6f96" opacity="0.8"/>
<circle cx="608.6" cy="300.6" r="0.7" fill="#6a6f96" opacity="0.8"/>
<circle cx="611.8" cy="297.6" r="0.7" fill="#6a6f96" opacity="0.8"/>
<circle cx="619.1" cy="296.1" r="0.7" fill="#6a6f96" opacity="0.8"/>
<circle cx="624.4" cy="298.5" r="0.7" fill="#6a6f96" opacity="0.8"/>
<circle cx="628.6" cy="305.3" r="0.7" fill="#6a6f96" opacity="0.8"/>
<text x="579" y="327.8" font-size="12" font-weight="normal" font-style="normal" fill="#0a141a" text-anchor="start" >Traf3</text>
<ellipse cx="693.8" cy="280" rx="14.5" ry="11.5" fill="#e8f2fa" opacity="0.5" filter="url(#blur1)"/>
<g><ellipse cx="690.8" cy="276.5" rx="12" ry="9" fill="#8440aa" transform="rotate(-15 690.8 276.5)"/><circle cx="700.7" cy="274.6" r="6.5" fill="#8440aa"/><circle cx="697.3" cy="280.3" r="7.3" fill="#8440aa"/><circle cx="689.4" cy="283.7" r="6.6" fill="#8440aa"/><circle cx="680.9" cy="279.4" r="6.2" fill="#8440aa"/><circle cx="683.6" cy="273.1" r="7.1" fill="#8440aa"/><circle cx="689.2" cy="269.8" r="6.8" fill="#8440aa"/><circle cx="697.8" cy="270.1" r="6.1" fill="#8440aa"/><ellipse cx="690.8" cy="276.5" rx="11.4" ry="8.4" fill="#b468d4" transform="rotate(-15 690.8 276.5)"/><circle cx="700.7" cy="274.6" r="5.9" fill="#b468d4"/><circle cx="697.3" cy="280.3" r="6.7" fill="#b468d4"/><circle cx="689.4" cy="283.7" r="6" fill="#b468d4"/><circle cx="680.9" cy="279.4" r="5.6" fill="#b468d4"/><circle cx="683.6" cy="273.1" r="6.5" fill="#b468d4"/><circle cx="689.2" cy="269.8" r="6.2" fill="#b468d4"/><circle cx="697.8" cy="270.1" r="5.5" fill="#b468d4"/><ellipse cx="690.8" cy="276.5" rx="14.5" ry="11.5" fill="url(#gLo)" transform="rotate(-15 690.8 276.5)"/><ellipse cx="689.1" cy="274.8" rx="8" ry="5.8" fill="#e6bff2" opacity="0.55" transform="rotate(-15 690.8 276.5)"/><ellipse cx="689.3" cy="275.1" rx="11.6" ry="9.2" fill="url(#gHi)" opacity="1" transform="rotate(-15 690.8 276.5)"/></g>
<path d="M685.7 279.4C686.3 278.8 687.9 276.8 689.3 275.9C690.8 275.1 693.2 273.8 694.4 274.2C695.6 274.6 696.2 277.6 696.6 278.2" fill="none" stroke="#8a44b0" stroke-width="1.4" opacity="0.7" stroke-linecap="round"/>
<ellipse cx="697.5" cy="311.5" rx="14" ry="12.5" fill="#e8f2fa" opacity="0.5" filter="url(#blur1)"/>
<g><ellipse cx="694.5" cy="308" rx="11.3" ry="9.8" fill="#8440aa" transform="rotate(10 694.5 308)"/><circle cx="703" cy="313.3" r="5.6" fill="#8440aa"/><circle cx="696.3" cy="315.8" r="6.9" fill="#8440aa"/><circle cx="687.8" cy="313.3" r="6.6" fill="#8440aa"/><circle cx="684.6" cy="306.6" r="5.9" fill="#8440aa"/><circle cx="689.7" cy="300.8" r="6.6" fill="#8440aa"/><circle cx="694.6" cy="299.8" r="6.4" fill="#8440aa"/><circle cx="703.7" cy="304.5" r="5.5" fill="#8440aa"/><ellipse cx="694.5" cy="308" rx="10.7" ry="9.2" fill="#b468d4" transform="rotate(10 694.5 308)"/><circle cx="703" cy="313.3" r="5" fill="#b468d4"/><circle cx="696.3" cy="315.8" r="6.3" fill="#b468d4"/><circle cx="687.8" cy="313.3" r="6" fill="#b468d4"/><circle cx="684.6" cy="306.6" r="5.3" fill="#b468d4"/><circle cx="689.7" cy="300.8" r="6" fill="#b468d4"/><circle cx="694.6" cy="299.8" r="5.8" fill="#b468d4"/><circle cx="703.7" cy="304.5" r="4.9" fill="#b468d4"/><ellipse cx="694.5" cy="308" rx="14" ry="12.5" fill="url(#gLo)" transform="rotate(10 694.5 308)"/><ellipse cx="692.8" cy="306.1" rx="7.7" ry="6.2" fill="#e6bff2" opacity="0.55" transform="rotate(10 694.5 308)"/><ellipse cx="693.1" cy="306.5" rx="11.2" ry="10" fill="url(#gHi)" opacity="1" transform="rotate(10 694.5 308)"/></g>
<path d="M689.6 311.1C690.2 310.5 691.7 308.3 693.1 307.4C694.5 306.4 696.8 305.1 698 305.5C699.2 305.9 699.8 309.1 700.1 309.9" fill="none" stroke="#8a44b0" stroke-width="1.4" opacity="0.7" stroke-linecap="round"/>
<ellipse cx="722.5" cy="297.5" rx="11.5" ry="14.5" fill="#e8f2fa" opacity="0.5" filter="url(#blur1)"/>
<g><ellipse cx="719.5" cy="294" rx="9" ry="12" fill="#8440aa" transform="rotate(15 719.5 294)"/><circle cx="724.7" cy="298" r="7.5" fill="#8440aa"/><circle cx="720.2" cy="303.1" r="7" fill="#8440aa"/><circle cx="713.3" cy="300.7" r="6.5" fill="#8440aa"/><circle cx="712.8" cy="293.4" r="7.1" fill="#8440aa"/><circle cx="716.4" cy="284.7" r="5.2" fill="#8440aa"/><circle cx="721" cy="285.1" r="7.8" fill="#8440aa"/><circle cx="727.2" cy="290.2" r="5.8" fill="#8440aa"/><ellipse cx="719.5" cy="294" rx="8.4" ry="11.4" fill="#b468d4" transform="rotate(15 719.5 294)"/><circle cx="724.7" cy="298" r="6.9" fill="#b468d4"/><circle cx="720.2" cy="303.1" r="6.4" fill="#b468d4"/><circle cx="713.3" cy="300.7" r="5.9" fill="#b468d4"/><circle cx="712.8" cy="293.4" r="6.5" fill="#b468d4"/><circle cx="716.4" cy="284.7" r="4.6" fill="#b468d4"/><circle cx="721" cy="285.1" r="7.2" fill="#b468d4"/><circle cx="727.2" cy="290.2" r="5.2" fill="#b468d4"/><ellipse cx="719.5" cy="294" rx="11.5" ry="14.5" fill="url(#gLo)" transform="rotate(15 719.5 294)"/><ellipse cx="718.1" cy="291.8" rx="6.3" ry="7.2" fill="#e6bff2" opacity="0.55" transform="rotate(15 719.5 294)"/><ellipse cx="718.4" cy="292.3" rx="9.2" ry="11.6" fill="url(#gHi)" opacity="1" transform="rotate(15 719.5 294)"/></g>
<path d="M715.5 297.6C716 296.9 717.2 294.4 718.4 293.3C719.5 292.2 721.4 290.6 722.4 291.1C723.3 291.6 723.8 295.3 724.1 296.2" fill="none" stroke="#8a44b0" stroke-width="1.4" opacity="0.7" stroke-linecap="round"/>
<text x="693" y="336.8" font-size="12" font-weight="normal" font-style="normal" fill="#0a141a" text-anchor="start" >Irf3</text>
</g>
<g id="er">
<g clip-path="url(#clipTop)">
<path d="M780 284C781.7 283 792.3 289.7 800 290C807.7 290.3 819.3 288.7 826 286C832.7 283.3 834 276.7 840 274C846 271.3 854.5 272 862 270C869.5 268 877.8 266 885 262C892.2 258 900.2 250.3 905 246C909.8 241.7 911.8 235 914 236C916.2 237 919.5 246.3 918 252C916.5 257.7 911.3 264.7 905 270C898.7 275.3 889.2 280 880 284C870.8 288 860.8 291.3 850 294C839.2 296.7 825 299.7 815 300C805 300.3 795.8 298.7 790 296C784.2 293.3 778.3 285 780 284Z" fill="#c4e6f0" opacity="0.55" filter="url(#blur2)"/>
<ellipse cx="832" cy="305" rx="19" ry="13" fill="#a6d2e4" opacity="0.42" filter="url(#blur1)"/>
<path d="M813 305 A19 13 0 0 1 851 305" fill="none" stroke="#c6e4f0" stroke-width="1.4" opacity="0.4" filter="url(#blur05)"/>
<ellipse cx="862" cy="294" rx="15" ry="12" fill="#a6d2e4" opacity="0.42" filter="url(#blur1)"/>
<path d="M847 294 A15 12 0 0 1 877 294" fill="none" stroke="#c6e4f0" stroke-width="1.4" opacity="0.4" filter="url(#blur05)"/>
<ellipse cx="884" cy="287" rx="12" ry="10" fill="#a6d2e4" opacity="0.42" filter="url(#blur1)"/>
<path d="M872 287 A12 10 0 0 1 896 287" fill="none" stroke="#c6e4f0" stroke-width="1.4" opacity="0.4" filter="url(#blur05)"/>
<path d="M770 292 Q790 300 812 298 M776 299 Q792 306 810 304 M782 306 Q795 311 809 310" fill="none" stroke="#cfeaf4" stroke-width="1" opacity="0.5"/>
</g>
<path d="M708 241C708 236.6 709.7 229.1 713 224C716.3 218.9 722.8 215.2 728 210.5C733.2 205.8 739.3 199.8 744 195.5C748.7 191.2 751.3 187.9 756 185C760.7 182.1 766 179.5 772 178C778 176.5 785.3 177 792 176C798.7 175 804 172.2 812 172C820 171.8 832.3 174.7 840 175C847.7 175.3 853 173.2 858 174C863 174.8 865.8 176.8 870 179.5C874.2 182.2 878.3 186.8 883 190.5C887.7 194.2 893.3 197.8 898 201.5C902.7 205.2 908.4 208.8 911 212.5C913.6 216.2 914.5 219.9 913.5 224C912.5 228.1 909.2 232.3 905 237C900.8 241.7 893.5 247.8 888 252C882.5 256.2 877.3 259.7 872 262C866.7 264.3 861.2 265.2 856 266C850.8 266.8 845 266 841 267C837 268 834.8 270 832 272C829.2 274 827.5 276.8 824 279C820.5 281.2 815.5 283.6 811 285C806.5 286.4 801.7 287.3 797 287.5C792.3 287.7 787.5 287.2 783 286C778.5 284.8 774.3 282.7 770 280.5C765.7 278.3 761 275 757 273C753 271 749.7 269.7 746 268.5C742.3 267.3 739 267.5 735 266C731 264.5 725.7 262.1 722 259.5C718.3 256.9 715.3 253.6 713 250.5C710.7 247.4 708 245.4 708 241Z" fill="url(#gERw)" stroke="#b03a56" stroke-width="0.8"/>
<g clip-path="url(#clipER)">
<path d="M716.3 238.3L716.4 236.7L716.6 234.8L717 232.8L717.5 230.7L718.1 228.5L718.9 226.4L719.9 224.4L721 222.5L722.3 220.8L723.8 219.2L725.5 217.6L727.3 216.1L729.2 214.6L731.2 213.1L733.1 211.6L734.9 210L736.8 208.3L738.7 206.5L740.6 204.7L742.5 202.8L744.5 201L746.3 199.3L748.1 197.6L749.8 196L751.4 194.6L752.8 193.2L754.1 191.9L755.4 190.7L756.7 189.5L758 188.4L759.4 187.3L761 186.3L762.6 185.3L764.3 184.3L766.1 183.4L767.9 182.5L769.8 181.7L771.8 181L773.8 180.3L775.9 179.8L778 179.3L780.2 179L782.6 178.8L784.9 178.6L787.3 178.5L789.7 178.4L792.1 178.2L794.5 177.9L796.7 177.5L798.9 176.9L801.1 176.3L803.3 175.7L805.5 175.2L807.9 174.7L810.4 174.3L813 174.2L816 174.2L819.3 174.5L822.7 174.9L826.2 175.4L829.7 175.9L833.1 176.4L836.2 176.7L839.1 177L841.7 177L844.1 176.8L846.3 176.6L848.4 176.3L850.4 176.1L852.3 175.9L854.1 175.9L855.8 176L857.5 176.3L859 176.8L860.4 177.3L861.7 177.9L863 178.6L864.3 179.4L865.6 180.2L867 181.1L868.4 182.2L869.9 183.3L871.4 184.6L872.9 185.9L874.4 187.3L875.9 188.7L877.5 190.1L879.1 191.4L880.7 192.7L882.5 193.9L884.3 195.2L886.1 196.5L887.9 197.8L889.6 199L891.4 200.3L893 201.6L894.7 202.9L896.4 204.2L898.1 205.4L899.8 206.7L901.4 208L902.8 209.2L904.1 210.5L905.1 211.8L905.9 213.1L906.6 214.4L907.2 215.8L907.5 217.1L907.8 218.4L907.8 219.7L907.7 221.1L907.4 222.5L907 224L906.4 225.4L905.6 226.9L904.6 228.4L903.5 229.9L902.3 231.4L901 233L899.5 234.6L897.9 236.3L896.1 238.1L894.1 239.9L892.1 241.8L889.9 243.6L887.8 245.4L885.7 247L883.7 248.6L881.8 250L879.9 251.4L878.1 252.6L876.2 253.9L874.4 255L872.5 256L870.7 257L868.9 257.9L867 258.6L865.1 259.3L863.2 259.8L861.4 260.3L859.5 260.6L857.6 261L855.8 261.3L854 261.6L852.1 261.8L850.3 261.9L848.4 262L846.6 262L844.8 262L843.1 262.1L841.5 262.2L840 262.5L838.7 262.9L837.5 263.4L836.4 263.9L835.4 264.5L834.5 265.1L833.5 265.8L832.6 266.5L831.6 267.2L830.7 267.9L829.8 268.7L829 269.5L828.2 270.4L827.3 271.2L826.4 272.1L825.4 272.9L824.2 273.7L822.9 274.4L821.5 275.2L820.1 276L818.5 276.7L816.9 277.4L815.3 278.1L813.7 278.7L812.1 279.3L810.5 279.7L808.9 280.2L807.3 280.5L805.7 280.9L804 281.1L802.4 281.3L800.7 281.5L799.1 281.6L797.5 281.6L795.8 281.6L794.2 281.5L792.5 281.4L790.9 281.1L789.3 280.9L787.7 280.6L786.1 280.2L784.5 279.7L783 279.2L781.5 278.6L780 278L778.5 277.3L777 276.6L775.5 275.8L774 275.1L772.5 274.3L770.9 273.4L769.4 272.5L767.8 271.5L766.3 270.6L764.8 269.7L763.3 268.9L761.9 268.1L760.5 267.4L759.2 266.8L757.9 266.2L756.7 265.7L755.4 265.2L754.2 264.8L752.9 264.3L751.7 263.9L750.4 263.6L749.2 263.3L747.9 263.1L746.7 262.9L745.4 262.7L744.1 262.4L742.8 262L741.4 261.6L740 261L738.5 260.4L736.9 259.7L735.3 258.9L733.7 258.1L732.2 257.3L730.7 256.4L729.4 255.5L728.1 254.6L726.9 253.6L725.8 252.6L724.7 251.5L723.7 250.4L722.7 249.4L721.8 248.3L721 247.2L720.2 246.1L719.3 245.2L718.6 244.2L717.8 243.2L717.2 242.2L716.8 241.1L716.4 239.8Z" fill="#c74a66"/>
<path d="M834.4 264.8L833.5 265.5L832.6 266.1L831.6 266.8L830.7 267.6L829.8 268.3L829 269.2L828.2 270L827.3 270.9L826.4 271.7L825.4 272.5L824.2 273.3L822.9 274.1L821.6 274.8L820.1 275.6L818.6 276.3L817 277L815.4 277.7L813.8 278.3L812.2 278.9L810.6 279.3L809 279.7L807.4 280.1L805.8 280.4L808 272.4L809.4 272.1L810.9 271.8L812.3 271.4L813.7 271L815.2 270.5L816.6 270L818 269.4L819.4 268.7L820.8 268.1L822.1 267.4L823.4 266.7L824.5 266L825.5 265.3L826.4 264.6L827.3 263.8L828 263.1L828.8 262.3L829.5 261.6L830.3 260.9L831.1 260.2L832 259.6L832.8 259L833.7 258.4Z" fill="#e8728a" stroke="#b03655" stroke-width="1" stroke-linejoin="round"/>
<path d="M832.2 262.1L831.3 262.7L830.5 263.4L829.6 264.1L828.9 264.9L828.1 265.7L827.3 266.5L826.4 267.3L825.5 268L824.4 268.8L823.2 269.5L821.9 270.2L820.5 270.9L819.1 271.6L817.6 272.3L816.1 272.9L814.6 273.5L813.2 274L811.7 274.4L810.2 274.8" fill="none" stroke="#f7a8b3" stroke-width="2" stroke-linecap="round" stroke-linejoin="round" opacity="0.9"/>
<path d="M833.4 264.7L832.5 265.3L831.6 266L830.6 266.7L829.8 267.5L829 268.3L828.1 269.2L827.3 270L826.4 270.8L825.4 271.7L824.3 272.4L823 273.2L821.6 273.9L820.2 274.7L818.7 275.4L817.1 276.1L815.5 276.8L813.9 277.4L812.4 277.9L810.8 278.4L809.3 278.8L807.7 279.2" fill="none" stroke="#cc4c69" stroke-width="1.1" stroke-linecap="round" opacity="0.8"/>
<path d="M796 281.2L794.4 281.1L792.7 280.9L791.1 280.7L789.5 280.5L787.9 280.2L786.3 279.8L784.8 279.3L783.2 278.8L787.8 270.9L789.1 271.4L790.5 271.8L791.9 272.1L793.4 272.4L794.8 272.7L796.3 272.8L797.7 273L799.2 273.1Z" fill="#e8728a" stroke="#b03655" stroke-width="1" stroke-linejoin="round"/>
<path d="M794.9 275.9L793.4 275.7L791.9 275.5L790.4 275.2L788.9 274.8" fill="none" stroke="#f7a8b3" stroke-width="2" stroke-linecap="round" stroke-linejoin="round" opacity="0.9"/>
<path d="M794.8 280.1L793.1 280L791.5 279.8L789.9 279.5L788.4 279.2L786.8 278.8L785.3 278.4" fill="none" stroke="#cc4c69" stroke-width="1.1" stroke-linecap="round" opacity="0.8"/>
<path d="M774.3 274.7L772.8 273.9L771.2 273L769.7 272.1L768.1 271.2L766.6 270.2L765.1 269.3L763.7 268.5L762.2 267.8L760.9 267.1L759.6 266.5L758.3 265.9L757 265.4L755.8 264.9L754.6 264.4L753.3 264L752.1 263.6L750.8 263.2L749.6 263L748.3 262.7L747.1 262.5L745.9 262.3L744.6 262.1L743.3 261.7L741.9 261.3L740.5 260.7L738.9 260.1L737.4 259.4L735.8 258.6L734.2 257.8L732.7 257L731.2 256.2L729.9 255.3L728.6 254.3L727.4 253.4L726.3 252.3L725.2 251.3L724.2 250.2L723.3 249.1L722.4 248L721.5 246.9L720.7 245.9L719.9 244.9L719.1 244L718.4 243L717.8 242L717.3 240.8L717 239.6L716.9 238.2L717 236.5L717.2 234.6L717.6 232.6L718.1 230.5L718.7 228.4L719.5 226.3L720.5 224.3L721.5 222.4L722.8 220.7L724.3 219.1L726 217.6L727.9 216.1L729.7 214.6L731.7 213.1L733.6 211.5L735.4 209.9L737.3 208.2L739.1 206.5L741.1 204.7L743 202.8L744.9 201L746.8 199.3L748.5 197.6L750.2 196.1L751.8 194.6L753.2 193.3L754.5 192L755.8 190.7L757.1 189.6L758.4 188.5L759.8 187.4L761.3 186.3L763 185.4L764.7 184.4L766.4 183.5L768.3 182.6L770.1 181.8L772.1 181.1L774.1 180.4L776.1 179.9L778.3 179.4L780.5 179.1L782.8 178.9L785.1 178.8L787.5 178.7L789.9 178.5L792.3 178.3L794.6 178L796.9 177.6L799.1 177.1L801.2 176.5L803.4 175.9L805.6 175.3L808 174.8L810.5 174.5L813.1 174.3L816.1 174.4L819.3 174.7L822.7 175.1L826.2 175.5L829.7 176L833 176.5L836.2 176.9L839 177.1L841.6 177.1L844 177L846.2 176.8L848.3 176.5L850.2 176.2L852.1 176.1L853.9 176L855.7 176.2L857.3 176.5L858.8 176.9L860.2 177.4L861.5 178L862.8 178.7L864.1 179.5L865.4 180.3L866.8 181.3L868.2 182.3L869.7 183.4L871.1 184.7L872.6 186L874.1 187.4L875.6 188.8L877.2 190.1L878.8 191.4L880.5 192.7L882.2 194L883.9 195.3L885.7 196.5L887.5 197.8L889.3 199.1L891 200.3L892.7 201.6L894.3 202.9L896 204.1L897.7 205.4L899.4 206.7L901 207.9L902.4 209.2L903.7 210.5L904.7 211.8L905.5 213.1L906.2 214.4L906.7 215.7L907.1 217L907.3 218.3L907.4 219.7L907.3 221L907 222.4L906.6 223.8L905.9 225.3L905.2 226.8L904.2 228.2L903.1 229.7L901.9 231.3L900.6 232.8L899.1 234.4L897.6 236.1L895.7 237.9L893.8 239.7L891.7 241.6L889.6 243.4L887.5 245.1L885.4 246.8L883.4 248.3L881.5 249.7L879.7 251.1L877.8 252.4L876 253.6L874.1 254.7L872.3 255.8L870.5 256.7L868.6 257.6L866.8 258.3L864.9 259L863 259.5L861.2 259.9L859.3 260.3L857.5 260.7L855.6 261L853.8 261.3L852 261.5L850.2 261.6L848.3 261.7L846.5 261.7L844.7 261.7L843 261.8L841.4 261.9L839.9 255.8L841.3 255.7L842.9 255.6L844.5 255.6L846.1 255.6L847.8 255.5L849.4 255.4L851 255.2L852.7 255L854.3 254.7L856 254.4L857.6 254L859.3 253.6L861 253.1L862.6 252.6L864.3 251.9L866 251.1L867.6 250.3L869.2 249.3L870.9 248.3L872.5 247.3L874.2 246.1L875.9 244.9L877.6 243.6L879.3 242.3L881.2 240.8L883.1 239.2L885 237.6L886.9 235.9L888.6 234.3L890.2 232.7L891.7 231.2L892.9 229.8L894.1 228.3L895.2 227L896.2 225.6L897 224.3L897.8 223L898.3 221.7L898.7 220.4L898.9 219.2L899 217.9L899 216.7L898.8 215.5L898.5 214.4L898 213.2L897.4 212L896.6 210.9L895.7 209.7L894.6 208.6L893.3 207.4L891.9 206.3L890.4 205.2L888.9 204L887.3 202.9L885.9 201.8L884.4 200.6L882.8 199.5L881.2 198.3L879.6 197.2L878 196.1L876.5 194.9L874.9 193.8L873.4 192.6L872 191.5L870.6 190.3L869.2 189L867.9 187.8L866.6 186.6L865.2 185.5L863.9 184.4L862.6 183.5L861.4 182.7L860.2 181.9L859.1 181.2L857.9 180.6L856.8 180.1L855.5 179.6L854.2 179.2L852.7 179L851.1 178.8L849.5 178.9L847.8 179L846.1 179.2L844.2 179.5L842.2 179.7L840.1 179.8L837.8 179.8L835.2 179.6L832.4 179.3L829.4 178.8L826.3 178.4L823.1 178L820.1 177.6L817.2 177.4L814.6 177.3L812.2 177.4L810 177.8L807.9 178.2L805.9 178.7L803.9 179.2L802 179.8L800 180.2L798 180.6L795.9 180.9L793.8 181.1L791.6 181.2L789.5 181.3L787.4 181.4L785.3 181.6L783.3 181.9L781.4 182.3L779.6 182.8L777.8 183.4L776 184L774.4 184.7L772.7 185.5L771.1 186.3L769.6 187.2L768.1 188.1L766.8 189L765.5 190L764.3 191L763.2 192L762 193.1L760.8 194.3L759.6 195.5L758.2 196.8L756.7 198.2L755.1 199.7L753.4 201.2L751.7 202.8L750 204.5L748.3 206.1L746.6 207.7L744.9 209.2L743.3 210.7L741.6 212L739.8 213.4L738.1 214.7L736.5 216.1L735 217.4L733.6 218.9L732.5 220.4L731.5 222.1L730.7 223.9L730 225.8L729.4 227.7L728.9 229.5L728.6 231.3L728.4 233L728.3 234.5L728.4 235.8L728.7 236.9L729.2 237.9L729.7 238.9L730.3 239.7L731 240.6L731.8 241.5L732.5 242.4L733.2 243.3L734 244.3L734.9 245.3L735.8 246.3L736.8 247.2L737.8 248.1L738.8 249L740 249.8L741.2 250.6L742.5 251.4L743.8 252.2L745.2 252.9L746.7 253.5L748.1 254.2L749.4 254.7L750.7 255.2L752 255.6L753.1 255.9L754.3 256.2L755.4 256.4L756.5 256.5L757.6 256.7L758.7 257L759.9 257.3L761 257.7L762.1 258.1L763.2 258.5L764.3 258.9L765.4 259.4L766.6 259.9L767.8 260.4L769 261L770.2 261.7L771.5 262.4L772.9 263.3L774.3 264.1L775.6 264.9L777 265.8L778.4 266.5L779.7 267.2Z" fill="#e8728a" stroke="#b03655" stroke-width="1" stroke-linejoin="round"/>
<path d="M774.8 268.5L773.4 267.7L771.9 266.8L770.5 265.9L769.1 265.1L767.7 264.3L766.4 263.6L765.1 263L763.9 262.4L762.7 261.9L761.5 261.4L760.4 260.9L759.2 260.5L758.1 260.1L756.9 259.7L755.7 259.4L754.6 259.1L753.4 258.9L752.2 258.7L751.1 258.5L749.9 258.3L748.6 257.9L747.4 257.5L746 257L744.6 256.4L743.1 255.8L741.6 255.1L740.2 254.3L738.7 253.5L737.4 252.7L736.1 251.9L735 251L733.9 250.1L732.8 249.2L731.8 248.2L730.9 247.2L730 246.1L729.1 245.1L728.3 244.1L727.6 243.1L726.8 242.2L726.1 241.3L725.4 240.4L724.8 239.5L724.4 238.4L724.1 237.2L724 235.9L724.1 234.3L724.3 232.6L724.6 230.7L725.1 228.7L725.7 226.8L726.4 224.8L727.3 222.9L728.3 221.2L729.5 219.6L731 218.1L732.5 216.6L734.2 215.2L736 213.8L737.8 212.4L739.6 211L741.3 209.5L743 207.9L744.8 206.2L746.6 204.5L748.4 202.8L750.2 201.1L751.9 199.5L753.6 198L755.2 196.5L756.6 195.2L757.9 193.9L759.2 192.7L760.4 191.5L761.6 190.4L762.8 189.4L764.1 188.4L765.6 187.4L767.1 186.5L768.7 185.6L770.3 184.7L772 183.9L773.8 183.2L775.6 182.5L777.5 181.9L779.4 181.4L781.4 181L783.5 180.7L785.6 180.5L787.8 180.3L790.1 180.2L792.3 180.1L794.5 179.9L796.7 179.6L798.8 179.2L800.9 178.7L802.9 178.2L804.9 177.6L807 177.1L809.2 176.7L811.5 176.3L814 176.2L816.8 176.2L819.8 176.5L823 176.9L826.2 177.3L829.5 177.8L832.6 178.2L835.6 178.6L838.3 178.8L840.6 178.8L842.9 178.7L845 178.4L846.9 178.2L848.7 178L850.5 177.8L852.2 177.8L853.8 177.9L855.4 178.2L856.8 178.6L858.1 179.1L859.3 179.6L860.5 180.3L861.7 181L862.9 181.8L864.2 182.7L865.6 183.6L866.9 184.7L868.3 185.9L869.7 187.1L871.1 188.4L872.5 189.7L874 191L875.5 192.2L877 193.4L878.6 194.6L880.3 195.8L882 196.9L883.6 198.1L885.3 199.3L886.9 200.5L888.4 201.7L890 202.9L891.6 204.1L893.2 205.3L894.8 206.4L896.2 207.6L897.6 208.8L898.7 210L899.7 211.2L900.5 212.4L901.1 213.6L901.6 214.9L901.9 216.1L902.1 217.3L902.2 218.6L902.1 219.9L901.9 221.2L901.5 222.5L900.9 223.9L900.1 225.2L899.2 226.6L898.2 228L897.1 229.5L895.8 230.9L894.5 232.4L893 234L891.3 235.7L889.5 237.4L887.6 239.1L885.6 240.8L883.6 242.4L881.6 244L879.8 245.4L878 246.7L876.3 248L874.5 249.2L872.8 250.3L871.1 251.4L869.4 252.4L867.7 253.3L865.9 254.1L864.2 254.8L862.5 255.4L860.7 255.9L859 256.3L857.2 256.6L855.5 257L853.8 257.3L852.1 257.5L850.4 257.7L848.7 257.8L846.9 257.9L845.2 257.9L843.6 257.9" fill="none" stroke="#f7a8b3" stroke-width="2" stroke-linecap="round" stroke-linejoin="round" opacity="0.9"/>
<path d="M773.4 273L771.9 272.1L770.4 271.2L768.9 270.3L767.4 269.4L765.9 268.5L764.5 267.7L763.1 266.9L761.7 266.3L760.4 265.7L759.2 265.1L757.9 264.6L756.7 264.1L755.5 263.7L754.3 263.2L753 262.8L751.8 262.5L750.5 262.2L749.3 262L748.1 261.8L746.9 261.6L745.6 261.3L744.3 261L743 260.5L741.5 260L740 259.4L738.5 258.7L736.9 258L735.4 257.2L733.8 256.3L732.4 255.5L731.1 254.6L729.9 253.7L728.7 252.7L727.6 251.7L726.5 250.7L725.5 249.6L724.6 248.5L723.7 247.5L722.9 246.4L722.1 245.4L721.3 244.4L720.5 243.5L719.8 242.5L719.2 241.5L718.7 240.4L718.4 239.1L718.3 237.7L718.4 236.1L718.6 234.2L718.9 232.3L719.4 230.2L720.1 228.1L720.9 226L721.8 224L722.9 222.2L724.1 220.5L725.6 218.9L727.3 217.4L729.1 215.9L731 214.4L732.9 213L734.7 211.4L736.6 209.9L738.4 208.2L740.2 206.4L742.1 204.6L744 202.8L745.9 201L747.8 199.3L749.5 197.7L751.2 196.1L752.7 194.7L754.1 193.4L755.4 192.1L756.7 190.9L757.9 189.7L759.2 188.6L760.6 187.6L762.1 186.6L763.8 185.6L765.5 184.6L767.2 183.7L769 182.9L770.8 182.1L772.8 181.4L774.7 180.7L776.8 180.2L778.9 179.7L781.1 179.4L783.3 179.2L785.7 179.1L788 179L790.4 178.8L792.7 178.6L795 178.3L797.3 177.9L799.4 177.4L801.6 176.8L803.7 176.2L805.9 175.7L808.2 175.2L810.7 174.8L813.3 174.7L816.2 174.7L819.4 175L822.8 175.4L826.2 175.9L829.6 176.4L833 176.8L836.1 177.2L838.9 177.4L841.4 177.4L843.8 177.3L846 177.1L848 176.8L850 176.6L851.8 176.4L853.6 176.4L855.3 176.5L856.9 176.8L858.4 177.2L859.8 177.7L861.1 178.3L862.3 179L863.6 179.8L864.9 180.6L866.3 181.5L867.7 182.5L869.1 183.7L870.6 184.9L872 186.2L873.5 187.6L875 189L876.6 190.3L878.2 191.6L879.8 192.8L881.5 194.1L883.2 195.3L885 196.6L886.8 197.9L888.5 199.1L890.2 200.4L891.9 201.6L893.5 202.9L895.2 204.1L896.9 205.4L898.5 206.6L900.1 207.9L901.5 209.1L902.7 210.4L903.7 211.7L904.5 213L905.2 214.2L905.7 215.5L906.1 216.8L906.3 218.1L906.4 219.4L906.3 220.8L906 222.2L905.6 223.6L905 225L904.2 226.5L903.2 227.9L902.2 229.4L901 230.9L899.7 232.5L898.3 234.1L896.7 235.7L894.9 237.5L893 239.3L890.9 241.1L888.8 242.9L886.7 244.6L884.7 246.3L882.7 247.8L880.9 249.2L879 250.5L877.2 251.8L875.4 253L873.5 254.1L871.7 255.1L869.9 256L868.1 256.9L866.3 257.6L864.4 258.3L862.6 258.8L860.7 259.2L858.9 259.6L857.1 260L855.3 260.3L853.5 260.5L851.7 260.8L849.9 260.9L848 260.9L846.2 260.9L844.5 261L842.8 261" fill="none" stroke="#cc4c69" stroke-width="1.1" stroke-linecap="round" opacity="0.8"/>
<path d="M799.7 271.9L798.2 271.8L796.8 271.7L795.4 271.5L793.9 271.3L792.5 271L791.1 270.6L789.8 270.3L788.4 269.8L787.1 269.3L785.8 268.7L784.5 268.1L783.2 267.5L781.9 266.8L780.5 266.2L779.2 265.5L777.9 264.7L776.5 263.9L775.1 263.1L773.8 262.2L772.5 261.4L771.2 260.7L770 260.1L768.8 259.5L767.6 258.9L766.5 258.4L765.4 258L764.3 257.5L763.2 257.1L762.1 256.7L761 256.4L759.9 256.1L758.8 255.8L757.7 255.6L756.6 255.5L755.5 255.3L754.4 255L753.2 254.7L752 254.3L750.8 253.9L759.7 247.9L760.9 248.3L761.9 248.6L762.9 248.9L763.9 249.1L764.9 249.3L765.9 249.4L766.8 249.6L767.8 249.8L768.8 250.1L769.7 250.4L770.7 250.8L771.7 251.1L772.6 251.5L773.6 251.9L774.6 252.3L775.6 252.8L776.7 253.3L777.8 253.9L778.9 254.6L780.1 255.3L781.3 256L782.4 256.7L783.6 257.4L784.8 258.1L786 258.7L787.2 259.3L788.3 259.9L789.5 260.4L790.6 261L791.8 261.5L793 261.9L794.2 262.3L795.4 262.7L796.6 263L797.8 263.2L799.1 263.4L800.4 263.6L801.6 263.7L802.9 263.8Z" fill="#e8728a" stroke="#b03655" stroke-width="1" stroke-linejoin="round"/>
<path d="M799 266.6L797.7 266.5L796.3 266.3L795 266L793.8 265.7L792.5 265.3L791.3 264.9L790 264.4L788.8 263.9L787.6 263.4L786.4 262.8L785.2 262.2L783.9 261.5L782.7 260.9L781.4 260.2L780.2 259.4L778.9 258.7L777.7 257.9L776.5 257.2L775.3 256.5L774.1 255.9L773 255.3L771.9 254.8L770.9 254.4L769.9 253.9L768.9 253.5L767.8 253.2L766.8 252.8L765.8 252.5L764.8 252.2L763.8 252L762.8 251.8L761.7 251.6L760.7 251.5L759.7 251.2L758.6 251" fill="none" stroke="#f7a8b3" stroke-width="2" stroke-linecap="round" stroke-linejoin="round" opacity="0.9"/>
<path d="M798.6 270.8L797.2 270.7L795.8 270.5L794.4 270.3L793 270L791.6 269.7L790.3 269.3L789 268.8L787.7 268.3L786.4 267.8L785.1 267.2L783.8 266.6L782.5 265.9L781.2 265.3L779.9 264.6L778.6 263.8L777.2 263L775.9 262.2L774.6 261.4L773.3 260.6L772 259.9L770.8 259.2L769.6 258.7L768.4 258.1L767.3 257.6L766.2 257.2L765.2 256.8L764.1 256.4L763 256L761.9 255.6L760.8 255.3L759.7 255.1L758.7 254.9L757.6 254.7L756.5 254.5L755.4 254.3L754.3 254L753.1 253.6" fill="none" stroke="#cc4c69" stroke-width="1.1" stroke-linecap="round" opacity="0.8"/>
<path d="M737.4 245.5L736.5 244.6L735.6 243.6L734.8 242.7L734.1 241.7L733.4 240.8L732.7 239.9L732 239.1L731.3 238.2L730.8 237.3L730.4 236.3L730.1 235.2L730 234L730.1 232.5L730.3 230.9L730.6 229.1L731 227.2L731.6 225.4L732.3 223.5L733.1 221.8L734.1 220.1L735.2 218.6L736.6 217.2L738 215.8L739.6 214.5L741.3 213.2L743 211.9L744.7 210.5L746.3 209.1L747.9 207.6L749.6 206.1L751.3 204.5L753 202.8L754.7 201.3L756.3 199.7L757.9 198.2L759.4 196.9L760.7 195.6L762 194.4L763.1 193.3L764.2 192.2L765.4 191.2L766.5 190.2L767.8 189.2L769.1 188.3L770.6 187.5L772.1 186.6L773.6 185.8L775.2 185L776.9 184.3L778.6 183.7L780.4 183.1L782.2 182.6L784.1 182.2L786 182L788 181.8L790.1 181.7L792.2 181.5L794.3 181.4L796.4 181.2L798.5 181L800.5 180.6L802.4 180.2L804.3 179.6L806.2 179.1L808.2 178.6L810.2 178.2L812.4 177.9L814.8 177.7L817.4 177.8L820.2 178L823.2 178.4L826.3 178.8L829.3 179.3L832.3 179.7L835.1 180L837.6 180.2L839.9 180.2L842 180.1L843.9 179.9L845.7 179.6L847.5 179.4L849.1 179.3L850.7 179.2L852.3 179.4L853.7 179.6L855 180L856.3 180.5L857.4 181L858.5 181.6L859.7 182.3L860.8 183L862 183.8L863.3 184.8L864.6 185.8L865.9 186.9L867.2 188L868.5 189.3L869.9 190.5L871.2 191.7L872.6 192.8L874.1 193.9L875.6 195.1L877.2 196.2L878.8 197.3L880.3 198.4L881.9 199.5L883.4 200.7L884.9 201.8L886.3 202.9L887.8 204L889.3 205.1L890.8 206.2L892.2 207.4L893.5 208.5L894.6 209.6L895.5 210.7L896.2 211.9L896.8 213L897.2 214.2L897.6 215.3L897.8 216.5L897.8 217.7L897.7 218.9L897.5 220.1L897.1 221.4L896.6 222.6L895.9 223.9L895 225.2L894.1 226.6L893 227.9L891.8 229.3L890.6 230.7L889.2 232.2L887.6 233.7L885.8 235.4L884 237L882.2 238.6L880.3 240.1L878.5 241.6L876.7 242.9L875 244.2L873.4 245.4L871.8 246.5L870.1 247.6L868.5 248.6L866.9 249.5L865.3 250.3L863.7 251.1L862 251.7L860.4 252.3L858.7 252.8L857.1 253.2L855.5 253.5L853.8 253.8L852.2 254.1L850.6 254.3L849 254.5L847.4 254.6L845.8 254.7L844.2 254.7L842.6 254.7L841.1 254.8L839.7 254.9L838.4 255.2L837.3 255.5L836.2 255.9L835.3 256.4L834.4 256.9L833.6 257.4L832.7 258L831.9 258.6L831.1 259.2L830.2 259.9L829.5 260.6L828.7 261.3L828 262L827.3 262.8L826.5 263.5L825.6 264.3L824.6 264.9L823.4 265.6L822.2 266.3L820.9 267L819.6 267.6L818.2 268.2L816.8 268.8L815.4 269.4L814 269.8L812.6 270.2L811.2 270.6L809.7 270.9L808.3 271.2L810.5 263.2L811.8 262.9L813 262.7L814.3 262.3L815.5 262L816.7 261.5L818 261.1L819.2 260.6L820.4 260L821.6 259.4L822.8 258.8L823.9 258.2L824.8 257.6L825.7 257L826.5 256.4L827.2 255.7L827.9 255.1L828.5 254.4L829.2 253.8L829.9 253.2L830.6 252.6L831.3 252.1L832.1 251.5L832.8 251L833.5 250.5L834.3 250.1L835.1 249.7L836 249.3L837.1 249L838.2 248.8L839.4 248.7L840.8 248.6L842.1 248.6L843.6 248.6L845 248.6L846.4 248.5L847.9 248.3L849.3 248.1L850.7 247.8L852.1 247.6L853.6 247.3L855 246.9L856.5 246.5L857.9 246L859.4 245.4L860.8 244.8L862.2 244L863.6 243.2L865.1 242.3L866.5 241.4L867.9 240.4L869.4 239.3L870.9 238.2L872.4 237L874 235.8L875.7 234.4L877.3 233L878.9 231.5L880.4 230.1L881.8 228.7L883.1 227.4L884.2 226.2L885.2 225L886.2 223.8L887 222.6L887.7 221.5L888.4 220.3L888.8 219.2L889.2 218.1L889.4 217L889.5 215.9L889.4 214.9L889.3 213.9L889 212.9L888.6 211.8L888 210.8L887.4 209.8L886.6 208.8L885.6 207.8L884.5 206.8L883.3 205.9L882 204.9L880.7 203.9L879.3 202.9L878 201.9L876.8 200.9L875.4 199.9L874 199L872.7 198L871.3 197L869.9 196L868.6 195L867.3 194L866 193L864.8 191.9L863.6 190.9L862.5 189.8L861.3 188.8L860.2 187.8L859 186.9L857.9 186.1L856.8 185.4L855.8 184.7L854.8 184.1L853.8 183.6L852.8 183.1L851.7 182.7L850.6 182.4L849.3 182.1L847.9 182L846.5 182.1L845.1 182.2L843.5 182.4L841.9 182.6L840.2 182.8L838.3 182.9L836.3 182.9L834.1 182.7L831.7 182.4L829.1 182L826.4 181.7L823.7 181.3L821 181L818.5 180.8L816.2 180.7L814.1 180.8L812.2 181.1L810.4 181.5L808.7 181.9L807 182.4L805.3 182.9L803.6 183.3L801.8 183.6L800 183.8L798.2 184L796.3 184.1L794.5 184.2L792.6 184.3L790.8 184.4L789.1 184.7L787.5 185L785.9 185.5L784.3 186L782.8 186.5L781.3 187.2L779.9 187.8L778.6 188.5L777.2 189.3L776 190.1L774.8 190.9L773.7 191.7L772.6 192.6L771.6 193.5L770.6 194.4L769.6 195.4L768.5 196.5L767.3 197.6L766 198.8L764.6 200.1L763.2 201.5L761.7 202.9L760.2 204.3L758.7 205.7L757.2 207.1L755.8 208.4L754.4 209.6L752.9 210.8L751.4 212L749.9 213.2L748.5 214.3L747.2 215.5L746 216.8L745 218.1L744.2 219.5L743.5 221.1L742.8 222.7L742.3 224.4L741.9 226L741.7 227.6L741.5 229L741.4 230.3L741.5 231.4L741.8 232.4L742.1 233.3L742.6 234.1L743.2 234.9L743.8 235.6L744.4 236.4L745 237.2L745.7 238L746.4 238.8L747.1 239.7L747.9 240.5Z" fill="#e8728a" stroke="#b03655" stroke-width="1" stroke-linejoin="round"/>
<path d="M742.3 240.7L741.6 239.8L740.9 238.9L740.2 238L739.5 237.3L738.9 236.5L738.3 235.7L737.8 234.8L737.4 233.9L737.2 232.9L737.1 231.7L737.2 230.4L737.3 228.8L737.6 227.2L738 225.5L738.6 223.7L739.2 222L740 220.4L740.9 218.9L741.9 217.5L743.2 216.2L744.5 214.9L746 213.7L747.6 212.5L749.1 211.2L750.7 210L752.2 208.7L753.7 207.3L755.2 205.8L756.8 204.4L758.4 202.9L760 201.4L761.5 200L762.9 198.6L764.3 197.3L765.6 196.2L766.7 195L767.8 194L768.8 193L769.9 192L771 191.1L772.1 190.2L773.4 189.4L774.7 188.6L776.1 187.8L777.5 187.1L779 186.4L780.6 185.7L782.1 185.1L783.8 184.6L785.4 184.1L787.2 183.8L789 183.5L790.9 183.3L792.8 183.2L794.8 183.1L796.7 183L798.6 182.8L800.6 182.6L802.4 182.3L804.2 181.8L806 181.3L807.7 180.9L809.6 180.4L811.5 180L813.5 179.7L815.7 179.6L818.1 179.6L820.7 179.8L823.5 180.2L826.3 180.6L829.2 181L831.9 181.4L834.5 181.7L836.8 181.8L838.9 181.9L840.9 181.8L842.7 181.6L844.4 181.4L846 181.1L847.5 181L849 181L850.4 181.1L851.8 181.3L853 181.7L854.1 182.1L855.2 182.6L856.2 183.2L857.3 183.8L858.3 184.5L859.5 185.2L860.7 186.1L861.9 187L863 188.1L864.3 189.1L865.5 190.3L866.7 191.4L868 192.5L869.3 193.6L870.7 194.6L872.1 195.6L873.5 196.7L875 197.7L876.4 198.8L877.9 199.8L879.3 200.8L880.6 201.9L882 202.9L883.4 203.9L884.8 205L886.1 206L887.4 207L888.6 208.1L889.6 209.1L890.5 210.2L891.1 211.2L891.7 212.3L892.1 213.4L892.4 214.4L892.6 215.5L892.6 216.6L892.6 217.7L892.3 218.9L892 220L891.5 221.2L890.8 222.4L890.1 223.6L889.2 224.8L888.2 226.1L887.1 227.4L885.9 228.7L884.6 230.1L883.2 231.5L881.5 233L879.9 234.5L878.1 236L876.4 237.4L874.7 238.8L873.1 240L871.5 241.2L870 242.3L868.5 243.3L867 244.3L865.5 245.2L864 246.1L862.5 246.9L861 247.6L859.5 248.2L858 248.7L856.4 249.1L854.9 249.5L853.4 249.8L851.9 250.1L850.4 250.4L848.9 250.6L847.4 250.8L845.9 250.9L844.4 250.9L842.9 250.9L841.5 250.9L840.1 251L838.8 251.1L837.6 251.4L836.5 251.7L835.5 252L834.7 252.5L833.8 253L833.1 253.5L832.3 254L831.6 254.6L830.8 255.1L830 255.7L829.3 256.4L828.6 257L827.9 257.7L827.2 258.4L826.5 259.1L825.7 259.8L824.7 260.4L823.7 261L822.6 261.7L821.4 262.3L820.1 262.9L818.8 263.5L817.5 264L816.2 264.5L814.9 264.9L813.6 265.3L812.3 265.7" fill="none" stroke="#f7a8b3" stroke-width="2" stroke-linecap="round" stroke-linejoin="round" opacity="0.9"/>
<path d="M737.7 244L736.9 243L736.1 242.1L735.4 241.2L734.7 240.3L734 239.4L733.3 238.6L732.7 237.8L732.2 236.9L731.7 235.9L731.5 234.8L731.4 233.5L731.4 232.1L731.6 230.5L732 228.7L732.4 226.9L733 225.1L733.6 223.2L734.5 221.5L735.4 219.9L736.5 218.4L737.8 217L739.3 215.7L740.9 214.3L742.5 213.1L744.2 211.8L745.9 210.4L747.5 209L749 207.6L750.7 206L752.4 204.4L754 202.8L755.7 201.3L757.3 199.8L758.9 198.3L760.3 197L761.6 195.7L762.9 194.5L764 193.4L765.1 192.4L766.2 191.3L767.4 190.4L768.6 189.4L770 188.5L771.4 187.7L772.9 186.8L774.4 186L776 185.3L777.6 184.6L779.3 184L781 183.4L782.8 182.9L784.7 182.5L786.6 182.3L788.6 182.1L790.6 182L792.7 181.8L794.8 181.7L796.8 181.6L798.9 181.3L800.8 180.9L802.7 180.5L804.6 180L806.5 179.4L808.5 179L810.5 178.5L812.6 178.2L814.9 178.1L817.5 178.1L820.3 178.4L823.3 178.7L826.3 179.1L829.3 179.6L832.2 180L835 180.3L837.4 180.5L839.7 180.5L841.7 180.4L843.7 180.2L845.5 180L847.2 179.8L848.8 179.6L850.4 179.6L851.9 179.7L853.3 180L854.6 180.3L855.8 180.8L857 181.3L858.1 181.9L859.2 182.6L860.3 183.3L861.5 184.1L862.8 185L864.1 186L865.3 187.1L866.6 188.3L867.9 189.4L869.3 190.6L870.6 191.8L872 193L873.4 194.1L874.9 195.2L876.5 196.3L878 197.4L879.6 198.5L881.1 199.6L882.6 200.7L884 201.8L885.5 202.9L887 204L888.5 205.1L889.9 206.2L891.3 207.3L892.5 208.4L893.6 209.5L894.5 210.6L895.2 211.8L895.8 212.9L896.3 214L896.6 215.2L896.8 216.3L896.8 217.5L896.7 218.7L896.5 219.9L896.1 221.1L895.6 222.4L894.9 223.6L894.1 224.9L893.1 226.2L892.1 227.6L890.9 228.9L889.7 230.3L888.3 231.8L886.7 233.3L885 234.9L883.2 236.5L881.4 238.1L879.5 239.6L877.7 241L876 242.4L874.4 243.6L872.7 244.8L871.1 245.9L869.5 246.9L867.9 247.9L866.4 248.8L864.8 249.7L863.2 250.4L861.5 251.1L859.9 251.6L858.3 252.1L856.7 252.5L855.1 252.8L853.5 253.1L851.9 253.4L850.3 253.6L848.7 253.8L847.1 253.9L845.5 254L843.9 254L842.4 254L840.9 254.1L839.5 254.2L838.2 254.4L837.1 254.8L836.1 255.2L835.1 255.6L834.3 256.1L833.5 256.7L832.7 257.2L831.8 257.8L831 258.4L830.2 259.1L829.4 259.8L828.7 260.5L828 261.2L827.3 261.9L826.5 262.7L825.6 263.4L824.6 264.1L823.5 264.7L822.3 265.4L821 266.1L819.7 266.7L818.3 267.3L816.9 267.9L815.5 268.4L814.1 268.9L812.8 269.3L811.4 269.7L810 270" fill="none" stroke="#cc4c69" stroke-width="1.1" stroke-linecap="round" opacity="0.8"/>
<path d="M748.8 215.3L750 214.1L751.4 213L752.9 211.8L754.3 210.7L755.8 209.5L757.2 208.3L758.6 207L760 205.6L761.5 204.3L763 202.9L764.4 201.5L765.8 200.2L767.2 198.9L768.5 197.7L769.7 196.6L770.7 195.6L771.7 194.6L772.7 193.7L773.7 192.8L774.7 191.9L775.8 191.1L776.9 190.3L778.2 189.6L779.5 188.8L780.8 188.1L782.2 187.5L783.7 186.9L785.1 186.3L786.7 185.8L788.2 185.4L789.9 185L791.6 184.8L793.3 184.7L795.1 184.5L796.9 184.4L798.7 184.3L800.5 184.2L802.3 184L804 183.6L805.7 183.2L807.4 182.8L809 182.3L810.7 181.9L812.5 181.5L814.4 181.3L816.4 181.1L818.7 181.2L821.1 181.4L823.7 181.7L826.4 182.1L829 182.5L831.6 182.8L834 183.1L836.2 183.3L838.1 183.3L839.9 183.2L841.6 183L843.2 182.8L844.7 182.6L846.1 182.5L847.5 182.4L848.9 182.6L850.1 182.8L851.3 183.1L852.3 183.5L853.3 184L854.3 184.5L855.2 185.1L856.3 185.7L857.3 186.4L858.4 187.2L859.5 188.1L860.6 189.1L861.8 190.1L862.9 191.1L864.1 192.2L865.3 193.2L866.5 194.2L867.7 195.2L869.1 196.1L870.4 197.1L871.8 198.1L873.1 199L874.5 200L875.8 201L877.1 201.9L878.3 202.9L879.6 203.9L880.9 204.8L882.2 205.8L883.4 206.8L884.5 207.7L885.4 208.7L886.2 209.7L886.8 210.7L887.4 211.7L887.8 212.7L888 213.7L888.2 214.7L888.3 215.7L888.2 216.7L888 217.8L879.7 215.8L879.9 214.9L879.9 214L879.9 213.1L879.7 212.2L879.5 211.3L879.1 210.5L878.7 209.6L878.2 208.8L877.5 207.9L876.7 207.1L875.7 206.3L874.7 205.4L873.6 204.6L872.5 203.8L871.3 202.9L870.2 202.1L869.1 201.2L868 200.4L866.8 199.6L865.7 198.7L864.5 197.9L863.3 197.1L862.2 196.2L861.1 195.4L860.1 194.5L859 193.6L858 192.7L857 191.8L856.1 191L855.1 190.1L854.1 189.4L853.2 188.7L852.3 188.1L851.4 187.5L850.6 187L849.7 186.6L848.9 186.2L847.9 185.8L847 185.5L845.9 185.3L844.7 185.2L843.5 185.3L842.3 185.4L841 185.5L839.6 185.7L838.2 185.9L836.6 186L834.9 185.9L833 185.8L831 185.6L828.8 185.3L826.5 184.9L824.2 184.6L821.9 184.3L819.8 184.2L817.9 184.1L816.1 184.2L814.5 184.5L812.9 184.8L811.5 185.1L810 185.5L808.6 185.9L807.2 186.3L805.7 186.6L804.1 186.7L802.6 186.9L801 187L799.4 187.1L797.9 187.1L796.4 187.3L794.9 187.5L793.5 187.8L792.2 188.1L790.8 188.6L789.6 189.1L788.3 189.6L787.1 190.1L786 190.8L784.8 191.4L783.8 192L782.7 192.7L781.8 193.4L780.9 194.2L780.1 194.9L779.3 195.7L778.4 196.6L777.5 197.5L776.5 198.4L775.3 199.4L774.2 200.5L773 201.7L771.7 202.9L770.4 204.1L769.2 205.3L767.9 206.5L766.7 207.6L765.5 208.6L764.2 209.6L763 210.6L761.7 211.6L760.5 212.6L759.4 213.6Z" fill="#e8728a" stroke="#b03655" stroke-width="1" stroke-linejoin="round"/>
<path d="M757.8 212.1L759.1 211.1L760.5 210L761.8 209L763.1 207.8L764.4 206.7L765.7 205.4L767 204.2L768.4 202.9L769.7 201.6L771 200.4L772.3 199.2L773.4 198.2L774.5 197.2L775.5 196.2L776.4 195.3L777.3 194.4L778.2 193.6L779.1 192.8L780.1 192.1L781.2 191.4L782.3 190.7L783.5 190L784.7 189.4L786 188.8L787.3 188.2L788.7 187.7L790.1 187.3L791.5 186.9L793 186.6L794.5 186.3L796.2 186.2L797.8 186.1L799.5 186L801.1 185.9L802.8 185.8L804.4 185.6L806 185.3L807.5 184.9L809 184.5L810.5 184.1L812.1 183.7L813.7 183.3L815.5 183.1L817.3 183L819.4 183L821.6 183.2L824 183.5L826.4 183.8L828.9 184.2L831.2 184.5L833.4 184.8L835.4 184.9L837.2 184.9L838.8 184.8L840.4 184.7L841.8 184.5L843.2 184.3L844.5 184.2L845.8 184.2L847 184.3L848.2 184.5L849.2 184.8L850.2 185.1L851.1 185.6L852 186.1L852.9 186.6L853.8 187.2L854.8 187.8L855.8 188.5L856.8 189.4L857.8 190.2L858.8 191.2L859.9 192.1L860.9 193.1L862 194L863.1 194.9L864.3 195.8L865.5 196.7L866.7 197.6L868 198.5L869.2 199.4L870.5 200.3L871.7 201.1L872.8 202L874 202.9L875.2 203.8L876.4 204.7L877.5 205.6L878.6 206.4L879.6 207.3L880.5 208.2L881.2 209.1L881.8 210L882.3 210.9L882.6 211.8L882.9 212.8L883 213.7L883.1 214.6" fill="none" stroke="#f7a8b3" stroke-width="2" stroke-linecap="round" stroke-linejoin="round" opacity="0.9"/>
<path d="M751.3 213.9L752.7 212.8L754.1 211.7L755.5 210.6L757 209.4L758.3 208.2L759.7 206.9L761.1 205.6L762.6 204.2L764 202.9L765.5 201.5L766.8 200.2L768.2 199L769.4 197.8L770.6 196.7L771.7 195.7L772.6 194.7L773.6 193.8L774.6 192.9L775.6 192.1L776.6 191.3L777.8 190.5L779 189.8L780.3 189.1L781.6 188.4L783 187.7L784.4 187.1L785.8 186.6L787.3 186.1L788.9 185.7L790.5 185.3L792.1 185.1L793.9 184.9L795.6 184.8L797.4 184.7L799.2 184.6L801 184.5L802.7 184.3L804.4 184L806.1 183.6L807.7 183.1L809.3 182.7L811 182.2L812.7 181.9L814.6 181.6L816.6 181.5L818.8 181.5L821.2 181.7L823.8 182L826.4 182.4L829 182.8L831.5 183.1L833.9 183.4L836 183.6L837.9 183.6L839.7 183.5L841.4 183.3L843 183.1L844.4 182.9L845.8 182.8L847.2 182.8L848.5 182.9L849.7 183.1L850.9 183.4L851.9 183.8L852.9 184.3L853.8 184.8L854.8 185.4L855.8 186L856.8 186.7L857.9 187.5L859 188.3L860.1 189.3L861.2 190.3L862.3 191.3L863.5 192.3L864.6 193.4L865.8 194.3L867.1 195.3L868.4 196.2L869.7 197.2L871 198.1L872.4 199.1L873.7 200.1L875 201L876.2 202L877.5 202.9L878.8 203.9L880 204.8L881.3 205.8L882.5 206.7L883.5 207.7L884.5 208.6L885.3 209.6L885.9 210.6L886.4 211.5L886.8 212.5L887.1 213.5L887.2 214.5L887.3 215.5L887.2 216.5" fill="none" stroke="#cc4c69" stroke-width="1.1" stroke-linecap="round" opacity="0.8"/>
<path d="M884.1 224.6L883.1 225.7L882 227L880.8 228.2L879.4 229.6L877.9 231L876.3 232.4L874.7 233.8L873.1 235.1L871.5 236.4L870 237.5L868.6 238.6L867.1 239.7L865.7 240.6L864.3 241.6L862.9 242.4L861.5 243.2L860.1 243.9L858.7 244.6L857.3 245.2L855.9 245.6L854.5 246.1L853 246.4L851.6 246.7L850.2 247L848.8 247.2L847.4 247.4L846.1 247.6L844.7 247.7L843.2 247.7L841.8 247.7L840.5 247.7L839.2 247.8L838 247.9L836.9 248.1L835.9 248.4L835 248.8L834.1 249.2L833.4 249.6L832.7 250.1L832 250.6L831.3 251.1L830.5 251.6L829.8 252.2L829.1 252.8L828.5 253.4L827.9 254.1L827.2 254.7L826.5 255.4L825.8 256L824.9 256.6L823.9 257.2L822.9 257.7L821.7 258.3L820.6 258.9L819.4 259.4L818.1 259.9L816.9 260.4L815.7 260.8L814.5 261.2L813.3 261.5L812.1 261.8L810.8 262L809.6 262.2L808.3 262.4L807.1 262.5L805.9 262.6L804.6 262.6L803.4 262.6L802.1 262.5L800.9 262.4L799.6 262.2L798.4 262L797.2 261.8L796 261.5L794.8 261.2L793.6 260.8L792.5 260.3L791.4 259.8L790.2 259.3L789.1 258.8L788 258.2L786.8 257.6L785.7 257L784.5 256.4L783.3 255.7L782.1 254.9L781 254.2L779.8 253.6L778.7 252.9L777.6 252.4L776.6 251.8L775.6 251.4L774.6 250.9L773.7 250.5L772.7 250.2L771.8 249.8L770.9 249.5L769.9 249.2L768.9 248.9L768 248.7L767 248.5L766.1 248.4L765.2 248.2L764.2 248L763.2 247.8L762.1 247.4L761 247L759.9 246.5L758.7 246L757.5 245.4L756.3 244.8L755.1 244.2L764.9 238.6L765.9 239.1L766.9 239.6L768 240.1L769 240.6L770 241L771 241.4L771.9 241.7L772.7 241.9L773.6 242.1L774.4 242.2L775.2 242.3L776 242.5L776.8 242.7L777.7 242.9L778.5 243.2L779.3 243.4L780.1 243.7L780.9 244.1L781.8 244.4L782.6 244.8L783.5 245.2L784.4 245.6L785.3 246.1L786.3 246.7L787.2 247.3L788.3 247.9L789.3 248.5L790.3 249.1L791.3 249.7L792.3 250.2L793.3 250.7L794.3 251.2L795.2 251.6L796.2 252.1L797.2 252.5L798.2 252.9L799.2 253.3L800.2 253.5L801.2 253.8L802.3 254L803.4 254.2L804.4 254.3L805.5 254.4L806.6 254.5L807.7 254.5L808.7 254.5L809.8 254.4L810.9 254.3L812 254.2L813 254L814.1 253.8L815.2 253.5L816.2 253.2L817.3 252.9L818.3 252.6L819.3 252.2L820.4 251.8L821.4 251.3L822.5 250.8L823.4 250.3L824.3 249.8L825.2 249.3L825.9 248.8L826.6 248.2L827.2 247.7L827.8 247.1L828.3 246.6L828.9 246L829.4 245.5L830 245L830.7 244.6L831.3 244.1L831.9 243.7L832.5 243.3L833.2 242.9L833.9 242.5L834.7 242.2L835.5 242L836.5 241.8L837.5 241.7L838.7 241.6L839.8 241.6L841 241.6L842.2 241.6L843.5 241.5L844.7 241.4L845.8 241.2L847.1 241L848.3 240.7L849.5 240.5L850.7 240.2L852 239.8L853.2 239.4L854.4 238.9L855.6 238.4L856.8 237.7L858 237L859.2 236.3L860.5 235.5L861.7 234.7L862.9 233.8L864.1 232.8L865.4 231.8L866.8 230.7L868.2 229.6L869.6 228.4L871 227.2L872.3 226L873.5 224.8L874.5 223.7L875.4 222.7L876.3 221.6Z" fill="#e8728a" stroke="#b03655" stroke-width="1" stroke-linejoin="round"/>
<path d="M877.3 224.9L876.2 226.1L875 227.4L873.6 228.6L872.2 229.9L870.7 231.2L869.2 232.4L867.8 233.6L866.4 234.6L865.1 235.6L863.7 236.6L862.5 237.5L861.2 238.3L859.9 239.1L858.6 239.8L857.3 240.5L856 241.1L854.8 241.6L853.4 242L852.1 242.4L850.8 242.7L849.5 243L848.3 243.2L847 243.5L845.7 243.7L844.5 243.8L843.2 243.9L841.9 243.9L840.6 243.9L839.4 244L838.2 244L837.1 244.1L836 244.3L835.1 244.6L834.3 244.9L833.5 245.3L832.8 245.7L832.2 246.1L831.5 246.6L830.9 247.1L830.2 247.5L829.6 248L829 248.6L828.4 249.2L827.8 249.8L827.2 250.4L826.6 250.9L825.9 251.5L825.1 252.1L824.2 252.6L823.2 253.1L822.2 253.7L821.1 254.2L820 254.7L818.9 255.1L817.8 255.6L816.7 255.9L815.6 256.3L814.5 256.6L813.3 256.8L812.2 257L811.1 257.2L809.9 257.4L808.8 257.5L807.6 257.5L806.5 257.6L805.4 257.5L804.2 257.5L803.1 257.4L801.9 257.2L800.8 257.1L799.7 256.8L798.6 256.6L797.5 256.3L796.5 255.9L795.4 255.5L794.4 255L793.3 254.6L792.3 254.1L791.3 253.5L790.2 253L789.1 252.5L788.1 251.9L787 251.2L785.9 250.6L784.9 249.9L783.8 249.3L782.8 248.7L781.8 248.2L780.9 247.7L780 247.3L779.1 246.9L778.2 246.5L777.3 246.2L776.5 245.9L775.6 245.6L774.7 245.3L773.8 245L773 244.8L772.1 244.7L771.2 244.6L770.4 244.4L769.5 244.2L768.6 244L767.6 243.7L766.6 243.3L765.5 242.8L764.5 242.4L763.3 241.8" fill="none" stroke="#f7a8b3" stroke-width="2" stroke-linecap="round" stroke-linejoin="round" opacity="0.9"/>
<path d="M882.2 225.4L881.1 226.6L879.9 227.8L878.5 229.2L877.1 230.5L875.5 231.9L873.9 233.3L872.3 234.6L870.8 235.8L869.3 237L867.9 238L866.5 239.1L865.1 240L863.7 240.9L862.3 241.8L861 242.6L859.6 243.3L858.2 243.9L856.8 244.5L855.4 245L854 245.4L852.6 245.7L851.2 246L849.8 246.2L848.5 246.5L847.1 246.7L845.7 246.9L844.4 246.9L843 247L841.6 247L840.3 247L839 247.1L837.8 247.2L836.7 247.4L835.7 247.7L834.8 248L834 248.4L833.3 248.9L832.6 249.3L831.9 249.8L831.2 250.3L830.5 250.9L829.8 251.4L829.1 252L828.5 252.6L827.9 253.2L827.2 253.9L826.5 254.5L825.8 255.1L824.9 255.7L824 256.3L822.9 256.9L821.8 257.4L820.7 258L819.5 258.5L818.3 259L817.1 259.5L815.9 259.9L814.7 260.2L813.5 260.5L812.3 260.8L811.1 261.1L809.9 261.3L808.6 261.4L807.4 261.5L806.2 261.6L805 261.6L803.8 261.6L802.5 261.5L801.3 261.4L800.1 261.3L798.9 261.1L797.7 260.8L796.5 260.6L795.3 260.2L794.2 259.8L793.1 259.4L791.9 258.9L790.8 258.4L789.7 257.9L788.6 257.3L787.5 256.7L786.3 256.1L785.2 255.5L784 254.8L782.9 254.1L781.7 253.4L780.6 252.7L779.5 252.1L778.5 251.5L777.4 251L776.5 250.6L775.5 250.2L774.6 249.8L773.6 249.4L772.7 249.1L771.8 248.7L770.8 248.4L769.9 248.2L769 248L768 247.8L767.1 247.6L766.2 247.5L765.2 247.3L764.2 247L763.2 246.7L762.1 246.3L761 245.8L759.8 245.3L758.6 244.7L757.4 244.1" fill="none" stroke="#cc4c69" stroke-width="1.1" stroke-linecap="round" opacity="0.8"/>
<path d="M749.5 239.8L748.7 239L748 238.1L747.3 237.3L746.6 236.5L746 235.7L745.4 235L744.8 234.2L744.3 233.5L743.8 232.7L743.4 231.8L743.2 230.9L743.1 229.8L743.2 228.5L743.3 227.1L743.6 225.6L744 224L755.3 221.1L755 222.5L754.7 223.8L754.6 225.1L754.5 226.1L754.6 227.1L754.8 227.9L755.1 228.7L755.5 229.3L756 230L756.5 230.6L757 231.3L757.6 231.9L758.1 232.6L758.7 233.4L759.3 234.1L760 234.8Z" fill="#e8728a" stroke="#b03655" stroke-width="1" stroke-linejoin="round"/>
<path d="M754.6 235.2L754 234.4L753.4 233.7L752.8 232.9L752.3 232.3L751.7 231.6L751.2 230.9L750.8 230.2L750.5 229.4L750.3 228.5L750.2 227.5L750.2 226.4L750.4 225.1" fill="none" stroke="#f7a8b3" stroke-width="2" stroke-linecap="round" stroke-linejoin="round" opacity="0.9"/>
<path d="M750 238.4L749.2 237.6L748.6 236.7L747.9 235.9L747.3 235.2L746.7 234.4L746.1 233.7L745.6 233L745.1 232.2L744.8 231.4L744.6 230.4L744.5 229.4L744.5 228.1L744.7 226.7L745 225.2" fill="none" stroke="#cc4c69" stroke-width="1.1" stroke-linecap="round" opacity="0.8"/>
<path d="M783.8 193L784.8 192.3L785.8 191.6L786.9 191L788 190.4L789.2 189.9L790.4 189.4L791.7 188.9L793 188.5L794.3 188.1L795.6 187.8L797.1 187.6L798.6 187.5L800.1 187.4L801.6 187.3L803.1 187.2L804.7 187.1L806.2 186.9L807.6 186.7L809 186.3L810.4 185.9L811.8 185.6L813.3 185.2L814.8 184.9L816.4 184.7L818.1 184.6L820 184.6L822 184.8L824.2 185L826.5 185.3L828.7 185.7L830.9 186L832.9 186.2L834.7 186.3L836.4 186.4L837.9 186.3L839.3 186.1L840.7 185.9L842 185.8L843.2 185.7L844.3 185.7L845.4 185.7L846.5 185.9L847.5 186.2L848.4 186.5L849.2 186.9L850 187.4L850.8 187.9L851.7 188.4L852.6 189L853.5 189.7L854.4 190.4L855.4 191.2L856.3 192.1L857.3 193L858.3 193.8L859.3 194.7L860.3 195.6L861.4 196.4L862.5 197.2L863.6 198L864.8 198.8L865.9 199.7L867.1 200.5L868.2 201.3L869.2 202.1L870.3 202.9L871.4 203.7L872.5 204.5L873.6 205.4L874.6 206.2L875.5 207L876.3 207.8L877 208.7L877.5 209.5L877.9 210.3L878.3 211.2L878.5 212L878.7 212.9L878.7 213.7L878.6 214.6L878.5 215.5L878.2 216.4L877.8 217.3L877.3 218.3L876.7 219.2L876 220.2L875.2 221.2L874.3 222.2L873.4 223.2L872.4 224.3L871.2 225.4L870 226.6L868.6 227.8L867.3 229L865.9 230.1L864.6 231.2L863.3 232.2L862.1 233.1L860.9 233.9L859.7 234.8L858.5 235.5L857.3 236.3L856.1 236.9L855 237.6L853.8 238.1L852.6 238.6L851.4 239L850.2 239.3L849 239.6L847.8 239.9L846.6 240.1L845.4 240.3L844.3 240.5L843.1 240.6L841.9 240.7L840.7 240.7L839.5 240.7L838.4 240.8L837.3 240.8L836.3 240.9L835.3 241.1L834.5 241.3L833.7 241.6L833 242L832.4 242.3L831.8 242.7L831 236.3L831.5 236L832.1 235.7L832.6 235.4L833.3 235.1L834 234.9L834.8 234.8L835.6 234.7L836.6 234.7L837.5 234.7L838.5 234.6L839.5 234.6L840.5 234.6L841.5 234.4L842.4 234.3L843.4 234.1L844.4 233.9L845.4 233.7L846.4 233.5L847.4 233.2L848.5 232.8L849.5 232.4L850.4 232L851.4 231.5L852.4 230.9L853.4 230.3L854.4 229.6L855.4 228.9L856.4 228.2L857.4 227.5L858.5 226.6L859.6 225.7L860.8 224.8L861.9 223.8L863 222.8L864.1 221.8L865.1 220.9L865.9 220L866.7 219.1L867.4 218.3L868.1 217.4L868.7 216.6L869.2 215.8L869.6 215L869.9 214.2L870.2 213.5L870.3 212.7L870.4 212L870.3 211.3L870.2 210.5L870 209.8L869.7 209.1L869.4 208.4L868.9 207.7L868.4 207L867.7 206.4L866.9 205.7L866.1 205L865.2 204.3L864.2 203.6L863.3 202.9L862.4 202.3L861.5 201.6L860.6 200.9L859.7 200.2L858.7 199.5L857.7 198.8L856.8 198.1L855.8 197.4L854.9 196.8L854.1 196.1L853.2 195.3L852.4 194.6L851.6 193.8L850.8 193.1L850 192.5L849.2 191.8L848.5 191.3L847.7 190.8L847 190.3L846.3 189.9L845.6 189.5L844.9 189.2L844.2 188.9L843.4 188.7L842.5 188.5L841.5 188.4L840.6 188.5L839.5 188.6L838.5 188.7L837.4 188.8L836.2 189L834.9 189L833.5 189L832 188.9L830.3 188.7L828.4 188.5L826.6 188.2L824.7 187.9L822.8 187.7L821.1 187.6L819.5 187.5L818.1 187.6L816.7 187.8L815.5 188.1L814.3 188.4L813.1 188.7L811.9 189L810.8 189.3L809.5 189.5L808.3 189.7L807 189.8L805.7 189.9L804.4 189.9L803.2 190L801.9 190.1L800.7 190.3L799.6 190.5L798.4 190.8L797.4 191.2L796.3 191.6L795.3 192L794.3 192.5L793.4 193L792.5 193.5L791.6 194L790.7 194.6Z" fill="#e8728a" stroke="#b03655" stroke-width="1" stroke-linejoin="round"/>
<path d="M789.9 192.8L790.9 192.2L791.9 191.7L793 191.2L794.1 190.7L795.2 190.3L796.4 189.9L797.5 189.6L798.8 189.4L800.1 189.2L801.4 189.1L802.8 189L804.1 188.9L805.5 188.8L806.9 188.7L808.3 188.5L809.6 188.3L810.8 188L812.1 187.7L813.3 187.3L814.6 187L816 186.7L817.4 186.5L819 186.4L820.7 186.4L822.5 186.6L824.5 186.8L826.5 187.1L828.5 187.4L830.5 187.7L832.3 187.9L834 188L835.4 188L836.8 187.9L838.1 187.8L839.3 187.7L840.5 187.5L841.5 187.4L842.6 187.4L843.6 187.5L844.6 187.7L845.4 187.9L846.2 188.2L847 188.5L847.7 188.9L848.5 189.4L849.2 189.9L850 190.4L850.9 191L851.7 191.7L852.5 192.4L853.4 193.2L854.3 194L855.2 194.8L856.1 195.6L857 196.3L857.9 197L858.9 197.8L860 198.5L861 199.3L862 200L863.1 200.7L864.1 201.5L865 202.2L866 202.9L867 203.7L868 204.4L868.9 205.1L869.8 205.9L870.7 206.6L871.4 207.3L872 208.1L872.5 208.8L872.8 209.6L873.2 210.3L873.4 211.1L873.5 211.9L873.5 212.6L873.5 213.4L873.3 214.2L873.1 215.1L872.7 215.9L872.2 216.7L871.7 217.6L871.1 218.5L870.4 219.4L869.6 220.3L868.8 221.2L867.8 222.2L866.8 223.2L865.7 224.3L864.5 225.3L863.2 226.4L862 227.4L860.8 228.4L859.7 229.2L858.6 230.1L857.5 230.8L856.4 231.6L855.3 232.3L854.3 232.9L853.2 233.5L852.2 234.1L851.1 234.6L850 235L848.9 235.4L847.9 235.7L846.8 236L845.7 236.2L844.6 236.4L843.6 236.6L842.5 236.7L841.5 236.9L840.4 236.9L839.3 237L838.3 237L837.2 237L836.3 237L835.3 237.1L834.5 237.3L833.7 237.5L833.1 237.8L832.4 238.1" fill="none" stroke="#f7a8b3" stroke-width="2" stroke-linecap="round" stroke-linejoin="round" opacity="0.9"/>
<path d="M785.6 192.5L786.6 191.9L787.7 191.3L788.8 190.7L789.9 190.1L791.1 189.6L792.4 189.2L793.6 188.8L794.9 188.4L796.3 188.1L797.7 187.9L799.1 187.8L800.6 187.7L802.1 187.6L803.6 187.6L805.1 187.4L806.6 187.2L808 187L809.4 186.6L810.7 186.3L812.1 185.9L813.5 185.5L815 185.2L816.6 185L818.2 184.9L820.1 185L822.1 185.1L824.3 185.4L826.5 185.7L828.7 186L830.8 186.3L832.8 186.5L834.6 186.7L836.2 186.7L837.7 186.6L839.1 186.4L840.4 186.3L841.7 186.1L842.8 186L844 186L845.1 186.1L846.1 186.3L847.1 186.5L847.9 186.9L848.8 187.2L849.6 187.7L850.4 188.2L851.2 188.7L852.1 189.3L853 189.9L853.9 190.7L854.8 191.5L855.8 192.3L856.7 193.2L857.7 194L858.7 194.9L859.7 195.7L860.7 196.5L861.8 197.3L862.9 198.1L864.1 198.9L865.2 199.7L866.3 200.5L867.4 201.3L868.4 202.1L869.5 202.9L870.5 203.7L871.6 204.5L872.7 205.3L873.7 206.1L874.6 206.9L875.4 207.7L876 208.5L876.5 209.4L877 210.2L877.3 211L877.5 211.8L877.7 212.7L877.7 213.5L877.6 214.4L877.5 215.3L877.2 216.2L876.8 217.1L876.3 218L875.7 218.9L875 219.9L874.3 220.8L873.4 221.8L872.5 222.8L871.5 223.9L870.4 225L869.1 226.2L867.8 227.3L866.5 228.5L865.1 229.6L863.8 230.6L862.6 231.6L861.4 232.5L860.2 233.3L859 234.1L857.9 234.9L856.7 235.6L855.6 236.3L854.4 236.9L853.3 237.4L852.1 237.9L850.9 238.3L849.7 238.6L848.6 238.9L847.4 239.2L846.2 239.4L845.1 239.6L843.9 239.8L842.8 239.9L841.6 240L840.4 240L839.3 240L838.2 240L837.1 240.1L836.1 240.2L835.2 240.3L834.3 240.6L833.6 240.9L832.9 241.2L832.3 241.6" fill="none" stroke="#cc4c69" stroke-width="1.1" stroke-linecap="round" opacity="0.8"/>
<path d="M828.3 245.6L827.7 246.1L827.2 246.6L826.6 247.2L825.9 247.7L825.2 248.2L824.4 248.7L823.5 249.2L822.6 249.7L821.6 250.2L820.6 250.6L819.5 251.1L818.5 251.4L817.5 251.8L816.5 252.1L815.4 252.4L814.4 252.6L813.4 252.8L812.3 253L811.2 253.1L810.2 253.2L809.1 253.3L808.1 253.3L807.1 253.3L806 253.2L804.9 253.1L803.9 253L802.9 252.8L801.8 252.6L800.8 252.4L799.8 252.1L798.8 251.8L797.9 251.4L796.9 251L796 250.5L795 250.1L794 249.6L793.1 249.1L792.1 248.6L791.1 248L790.1 247.4L789.1 246.8L788.2 246.2L787.2 245.7L786.3 245.1L785.4 244.7L784.5 244.2L783.6 243.8L782.8 243.5L782 243.1L781.2 242.8L780.4 242.5L779.6 242.2L778.8 242L778 241.7L777.2 241.6L776.4 241.4L775.6 241.3L783.9 235.1L784.6 235.2L785.2 235.3L785.9 235.5L786.6 235.7L787.3 235.9L787.9 236.1L788.6 236.4L789.3 236.7L789.9 236.9L790.6 237.2L791.3 237.6L792.1 237.9L792.8 238.3L793.6 238.8L794.4 239.3L795.3 239.8L796.1 240.3L796.9 240.8L797.7 241.2L798.6 241.7L799.4 242.1L800.2 242.5L801 242.9L801.8 243.2L802.6 243.6L803.4 243.9L804.2 244.2L805 244.4L805.9 244.6L806.8 244.8L807.6 244.9L808.5 245L809.4 245.1L810.3 245.2L811.2 245.2L812 245.2L812.9 245.1L813.8 245L814.7 244.9L815.6 244.8L816.4 244.6L817.3 244.4L818.2 244.2L819 243.9L819.9 243.6L820.7 243.3L821.6 242.9L822.4 242.6L823.3 242.2L824.1 241.7L824.8 241.3L825.5 240.9L826.1 240.5L826.7 240.1L827.2 239.6L827.6 239.1L828.1 238.7Z" fill="#e8728a" stroke="#b03655" stroke-width="1" stroke-linejoin="round"/>
<path d="M827.2 242.3L826.6 242.8L826.1 243.2L825.4 243.7L824.7 244.1L823.9 244.6L823 245L822.1 245.5L821.2 245.9L820.3 246.3L819.3 246.6L818.4 246.9L817.5 247.2L816.6 247.4L815.7 247.6L814.7 247.8L813.8 248L812.8 248.1L811.9 248.2L810.9 248.2L810 248.3L809 248.2L808.1 248.2L807.2 248.1L806.2 248L805.3 247.8L804.4 247.7L803.4 247.4L802.5 247.2L801.7 246.9L800.8 246.5L799.9 246.2L799.1 245.8L798.2 245.4L797.3 244.9L796.5 244.5L795.6 244L794.7 243.5L793.8 243L792.9 242.5L792 241.9L791.2 241.4L790.3 240.9L789.5 240.5L788.7 240.1L788 239.7L787.2 239.4L786.5 239.1L785.8 238.8L785.1 238.6L784.4 238.3L783.6 238.1L782.9 237.9L782.2 237.7" fill="none" stroke="#f7a8b3" stroke-width="2" stroke-linecap="round" stroke-linejoin="round" opacity="0.9"/>
<path d="M827.7 245.3L827.2 245.8L826.6 246.3L826 246.9L825.2 247.3L824.4 247.8L823.6 248.3L822.6 248.8L821.7 249.3L820.7 249.7L819.7 250.1L818.7 250.5L817.7 250.8L816.7 251.1L815.7 251.4L814.6 251.6L813.6 251.8L812.6 252L811.6 252.2L810.5 252.2L809.5 252.3L808.5 252.3L807.4 252.3L806.4 252.2L805.4 252.2L804.3 252L803.3 251.9L802.3 251.7L801.3 251.4L800.4 251.1L799.4 250.8L798.4 250.4L797.5 250L796.6 249.6L795.6 249.2L794.7 248.7L793.7 248.2L792.8 247.7L791.8 247.2L790.8 246.6L789.9 246L788.9 245.4L788 244.8L787 244.3L786.2 243.8L785.3 243.4L784.5 243L783.7 242.7L782.9 242.3L782.1 242L781.3 241.8L780.5 241.5L779.7 241.2L778.9 241L778.2 240.8L777.4 240.7" fill="none" stroke="#cc4c69" stroke-width="1.1" stroke-linecap="round" opacity="0.8"/>
<path d="M770.4 239.7L769.3 239.3L768.3 238.8L767.3 238.3L766.3 237.7L765.4 237.2L764.5 236.6L763.7 236L763 235.4L762.2 234.7L761.5 234.1L760.9 233.4L760.3 232.7L759.7 232L759.2 231.3L758.6 230.6L758.1 230L757.6 229.4L757.2 228.7L756.8 228.1L756.5 227.3L756.3 226.5L756.2 225.6L756.2 224.5L756.4 223.3L756.6 222.1L756.9 220.7L757.4 219.3L757.9 218L758.5 216.7L759.2 215.5L760 214.4L761 213.4L762.1 212.4L763.2 211.4L764.4 210.4L765.7 209.5L766.9 208.5L768.1 207.5L769.3 206.4L770.5 205.2L771.7 204.1L773 202.9L774.2 201.7L775.4 200.6L776.5 199.5L777.6 198.5L778.6 197.6L786.4 198.5L785.6 199.3L784.7 200.1L783.7 201L782.7 201.9L781.7 202.9L780.6 203.9L779.6 204.9L778.6 205.8L777.6 206.7L776.6 207.6L775.6 208.4L774.5 209.2L773.5 210L772.5 210.9L771.6 211.7L770.8 212.6L770.1 213.5L769.5 214.5L769 215.6L768.6 216.7L768.2 217.8L768 219L767.8 220.1L767.7 221.1L767.6 222L767.7 222.7L767.8 223.4L768.1 224L768.4 224.6L768.8 225.1L769.2 225.6L769.7 226.1L770.1 226.7L770.6 227.3L771 227.9L771.6 228.5L772.1 229L772.7 229.6L773.3 230.2L773.9 230.7L774.6 231.2L775.3 231.7L776.1 232.1L776.9 232.6L777.8 233L778.6 233.4L779.5 233.8Z" fill="#e8728a" stroke="#b03655" stroke-width="1" stroke-linejoin="round"/>
<path d="M774.2 235.2L773.3 234.8L772.4 234.3L771.5 233.8L770.8 233.3L770.1 232.7L769.4 232.2L768.7 231.6L768.1 230.9L767.5 230.3L767 229.7L766.4 229.1L766 228.4L765.5 227.8L765 227.3L764.6 226.7L764.1 226.2L763.8 225.6L763.5 224.9L763.3 224.2L763.3 223.3L763.3 222.4L763.4 221.3L763.7 220.1L763.9 218.9L764.3 217.7L764.8 216.5L765.3 215.3L766 214.2L766.7 213.3L767.6 212.3L768.6 211.4L769.6 210.6L770.7 209.7L771.8 208.8L772.9 207.9L774 207L775 206L776.1 205L777.3 204L778.4 202.9L779.5 201.9L780.6 200.8L781.6 199.9" fill="none" stroke="#f7a8b3" stroke-width="2" stroke-linecap="round" stroke-linejoin="round" opacity="0.9"/>
<path d="M770.5 238.6L769.5 238.1L768.5 237.6L767.5 237.1L766.6 236.5L765.7 236L765 235.4L764.2 234.8L763.5 234.1L762.8 233.5L762.2 232.8L761.6 232.1L761 231.4L760.5 230.7L760 230.1L759.5 229.5L759 228.9L758.5 228.2L758.1 227.6L757.8 226.9L757.6 226.1L757.6 225.2L757.6 224.1L757.7 223L758 221.7L758.3 220.4L758.7 219L759.2 217.7L759.8 216.4L760.5 215.3L761.3 214.2L762.2 213.2L763.3 212.2L764.5 211.2L765.7 210.3L766.9 209.4L768.1 208.4L769.2 207.4L770.4 206.3L771.6 205.2L772.8 204L774 202.9L775.2 201.8L776.4 200.6L777.5 199.6L778.6 198.6" fill="none" stroke="#cc4c69" stroke-width="1.1" stroke-linecap="round" opacity="0.8"/>
<path d="M833.3 189.4L834.6 189.4L835.9 189.4L837.1 189.2L838.2 189.1L839.2 189L840.2 188.9L841.1 188.9L842 188.9L842.9 189.1L843.7 189.3L844.4 189.6L845.1 189.9L845.8 190.3L846.4 190.7L847.1 191.1L847.9 191.6L848.6 192.1L849.4 192.7L850.1 193.4L850.9 194.1L851.7 194.8L852.5 195.5L853.3 196.3L854.2 196.9L855 197.6L855.9 198.3L856.9 198.9L857.8 199.6L858.7 200.3L859.7 200.9L860.6 201.6L861.4 202.3L862.3 202.9L863.2 203.6L864.1 204.3L865 204.9L865.8 205.6L866.5 206.3L867.2 206.9L867.7 207.6L868.2 208.3L868.5 209L868.8 209.6L869 210.3L869.1 211L869.1 211.7L869.1 212.5L869 213.2L868.7 213.9L860.5 211.8L860.6 211.2L860.8 210.6L860.8 210L860.8 209.4L860.7 208.9L860.5 208.3L860.3 207.8L860 207.2L859.7 206.7L859.2 206.2L858.7 205.6L858.1 205.1L857.5 204.5L856.8 204L856 203.5L855.3 203L854.6 202.4L853.9 201.9L853.2 201.3L852.5 200.8L851.7 200.3L850.9 199.7L850.2 199.2L849.5 198.7L848.8 198.1L848.1 197.6L847.5 197L846.8 196.4L846.2 195.9L845.6 195.3L844.9 194.8L844.3 194.3L843.7 193.9L843.1 193.5L842.6 193.1L842.1 192.8L841.5 192.5L841 192.2L840.4 192L839.8 191.9L839.1 191.7L838.3 191.7L837.6 191.7L836.8 191.7L835.9 191.9L835.1 192L834.1 192.1L833.1 192.1L832.1 192.1Z" fill="#e8728a" stroke="#b03655" stroke-width="1" stroke-linejoin="round"/>
<path d="M834.8 191L835.8 190.9L836.8 190.8L837.7 190.7L838.6 190.6L839.4 190.6L840.2 190.7L840.9 190.8L841.6 191L842.3 191.2L842.9 191.5L843.5 191.8L844 192.2L844.7 192.6L845.3 193L846 193.5L846.6 194L847.3 194.6L848 195.2L848.7 195.8L849.4 196.5L850.1 197.1L850.8 197.7L851.6 198.3L852.4 198.9L853.2 199.4L854 200L854.8 200.6L855.7 201.2L856.4 201.8L857.2 202.4L858 202.9L858.8 203.5L859.5 204.1L860.3 204.7L861 205.3L861.7 205.9L862.3 206.4L862.7 207L863.1 207.6L863.4 208.2L863.7 208.8L863.8 209.4L863.9 210L864 210.7L863.9 211.3" fill="none" stroke="#f7a8b3" stroke-width="2" stroke-linecap="round" stroke-linejoin="round" opacity="0.9"/>
<path d="M834.5 189.8L835.7 189.7L836.8 189.6L837.9 189.4L838.9 189.3L839.9 189.2L840.8 189.2L841.7 189.3L842.5 189.4L843.3 189.6L844 189.9L844.7 190.2L845.3 190.6L846 191L846.6 191.4L847.4 191.9L848.1 192.4L848.8 193L849.6 193.6L850.3 194.3L851.1 195L851.9 195.7L852.7 196.4L853.5 197.1L854.4 197.7L855.2 198.4L856.2 199L857.1 199.7L858 200.3L858.9 201L859.8 201.6L860.6 202.3L861.5 202.9L862.3 203.6L863.2 204.2L864.1 204.9L864.9 205.5L865.6 206.2L866.2 206.8L866.8 207.5L867.2 208.2L867.5 208.8L867.8 209.5L868 210.2L868.1 210.8L868.1 211.5L868.1 212.2L868 212.9" fill="none" stroke="#cc4c69" stroke-width="1.1" stroke-linecap="round" opacity="0.8"/>
<path d="M865.6 218.7L864.8 219.5L864 220.4L863 221.3L862 222.3L860.9 223.2L859.8 224.2L858.7 225.1L857.6 226L856.6 226.8L855.6 227.5L854.6 228.2L853.6 228.9L852.7 229.5L851.7 230.1L850.8 230.7L849.8 231.2L848.8 231.6L847.9 232L846.9 232.3L845.9 232.6L844.9 232.9L843.9 233.1L843 233.2L842 233.4L841.1 233.6L840.1 233.7L839.1 233.7L838.2 233.8L837.2 233.8L836.3 233.8L835.4 233.8L834.6 233.9L833.8 234L833.1 234.2L832.5 234.5L831.9 234.8L831.4 235.1L830.9 235.4L830.4 235.7L829.9 236.1L829.4 236.5L828.9 236.8L828.5 237.3L828 237.7L827.6 238.1L827.2 238.6L826.7 239L826.1 239.5L825.5 239.9L824.9 240.3L824.2 240.7L823.4 241.1L822.6 241.5L821.7 241.8L820.9 242.2L820.1 242.5L819.2 242.8L818.4 243L817.6 243.2L816.7 243.4L815.9 243.6L815 243.7L814.2 243.9L813.3 243.9L812.5 244L811.6 244L810.7 244L809.9 243.9L809 243.9L808.2 243.8L807.3 243.6L806.5 243.5L805.7 243.3L804.8 243L804 242.7L803.3 242.4L802.5 242.1L801.7 241.7L800.9 241.4L800.1 241L799.4 240.6L798.6 240.2L797.8 239.7L796.9 239.2L796.1 238.7L795.3 238.3L794.6 237.8L793.8 237.3L793 236.9L792.3 236.6L791.6 236.3L791 236L790.3 235.7L789.7 235.5L789 235.2L788.4 235L787.7 234.8L787.1 234.6L786.4 234.4L785.8 234.3L785.1 234.2L784.5 234.1L783.8 234L783.1 233.8L782.4 233.6L781.6 233.3L780.8 232.9L780 232.6L779.2 232.2L778.3 231.8L777.5 231.3L776.8 230.9L776.1 230.4L775.4 229.9L774.8 229.4L774.2 228.9L773.6 228.3L773.1 227.7L772.6 227.2L772.1 226.6L771.7 226L771.3 225.5L770.9 225L770.4 224.5L770.1 224L769.8 223.4L769.5 222.8L769.3 222.2L769.3 221.4L769.3 220.6L769.4 219.6L769.6 218.5L769.9 217.4L770.2 216.3L770.6 215.2L771.1 214.2L771.7 213.2L772.4 212.3L773.2 211.4L774.1 210.6L775 209.9L776 209.1L777 208.3L778 207.5L779 206.6L779.9 205.7L780.9 204.8L781.9 203.9L783 202.9L784 202L784.9 201L785.9 200.2L786.7 199.4L787.6 198.6L788.3 197.9L789 197.2L789.7 196.6L790.3 196L791 195.4L791.8 194.8L792.6 194.3L793.4 193.7L794.3 193.2L795.2 192.8L796.2 192.3L797.2 191.9L798.2 191.5L799.2 191.2L800.3 190.9L801.4 190.6L802.6 190.5L803.8 190.4L805.1 190.3L806.3 190.2L807.6 190.2L808.8 190.1L810 189.9L811.2 189.7L812.4 189.4L813.5 189.1L814.6 188.8L815.8 188.5L817 188.2L818.3 188.1L819.7 188L821.3 188L823 188.1L823.8 191.1L822.4 191L821.2 190.9L820 191L819 191.2L818 191.4L817.1 191.6L816.2 191.9L815.3 192.1L814.3 192.3L813.4 192.5L812.4 192.6L811.4 192.7L810.4 192.8L809.4 192.8L808.4 192.9L807.4 193L806.5 193.1L805.6 193.3L804.7 193.5L803.9 193.8L803.1 194.1L802.3 194.4L801.5 194.8L800.8 195.2L800.1 195.6L799.4 196L798.7 196.4L798.1 196.9L797.6 197.4L797 197.8L796.5 198.4L796 198.9L795.4 199.5L794.7 200.1L794 200.7L793.3 201.4L792.5 202.2L791.7 202.9L790.9 203.7L790.1 204.5L789.3 205.2L788.5 205.9L787.7 206.6L786.9 207.2L786.1 207.9L785.3 208.5L784.5 209.1L783.8 209.8L783.2 210.5L782.7 211.2L782.2 212L781.8 212.8L781.5 213.7L781.2 214.6L781 215.5L780.8 216.3L780.7 217.1L780.7 217.8L780.8 218.4L780.9 218.9L781.1 219.4L781.3 219.8L781.6 220.2L782 220.6L782.3 221L782.7 221.5L783 221.9L783.4 222.4L783.8 222.8L784.2 223.3L784.7 223.7L785.1 224.2L785.6 224.6L786.2 225L786.7 225.4L787.3 225.7L788 226.1L788.6 226.4L789.3 226.7L790 227L790.6 227.3L791.2 227.5L791.8 227.7L792.3 227.8L792.9 228L793.4 228L793.9 228.1L794.4 228.2L795 228.3L795.5 228.5L796 228.7L796.5 228.8L797.1 229L797.6 229.2L798.1 229.5L798.6 229.7L799.2 230L799.8 230.2L800.4 230.5L801 230.9L801.6 231.3L802.2 231.7L802.9 232.1L803.5 232.4L804.2 232.8L804.8 233.1L805.5 233.5L806.1 233.8L806.7 234.1L807.3 234.4L808 234.6L808.6 234.9L809.2 235.1L809.9 235.3L810.5 235.4L811.2 235.6L811.9 235.7L812.6 235.8L813.3 235.8L814 235.9L814.6 235.9L815.3 235.9L816 235.8L816.7 235.8L817.4 235.7L818.1 235.6L818.8 235.4L819.4 235.3L820.1 235.1L820.8 234.9L821.4 234.7L822.1 234.4L822.8 234.1L823.5 233.8L824.1 233.5L824.7 233.2L825.3 232.9L825.8 232.6L826.3 232.2L826.7 231.9L827.1 231.5L827.5 231.2L827.8 230.8L828.2 230.5L828.6 230.1L828.9 229.8L829.3 229.6L829.7 229.3L830.1 229L830.5 228.7L830.9 228.5L831.4 228.3L831.9 228.1L832.4 227.9L833.1 227.8L833.7 227.7L834.4 227.7L835.2 227.7L836 227.7L836.7 227.6L837.5 227.6L838.3 227.5L839 227.4L839.8 227.3L840.6 227.1L841.4 226.9L842.2 226.8L842.9 226.5L843.7 226.3L844.5 226L845.3 225.6L846.1 225.2L846.8 224.7L847.6 224.3L848.4 223.8L849.1 223.2L849.9 222.7L850.7 222.1L851.6 221.4L852.4 220.7L853.3 220L854.2 219.2L855.1 218.4L855.9 217.7L856.7 216.9L857.3 216.2L857.9 215.6Z" fill="#e8728a" stroke="#b03655" stroke-width="1" stroke-linejoin="round"/>
<path d="M859.5 218.2L858.6 219.1L857.7 219.9L856.8 220.7L855.8 221.6L854.8 222.4L853.9 223.1L853 223.8L852.1 224.5L851.2 225.1L850.4 225.7L849.5 226.3L848.7 226.8L847.8 227.3L847 227.7L846.1 228.1L845.3 228.4L844.4 228.7L843.6 229L842.7 229.2L841.9 229.4L841 229.5L840.2 229.7L839.3 229.8L838.5 229.9L837.7 230L836.8 230L836 230L835.1 230L834.4 230L833.6 230.1L833 230.2L832.4 230.4L831.8 230.6L831.3 230.9L830.9 231.1L830.4 231.4L830 231.7L829.6 232L829.1 232.4L828.7 232.7L828.3 233.1L827.9 233.4L827.5 233.8L827.1 234.2L826.7 234.6L826.2 235L825.7 235.3L825.1 235.7L824.5 236L823.8 236.4L823.1 236.7L822.4 237.1L821.7 237.4L820.9 237.6L820.2 237.9L819.5 238.1L818.7 238.3L818 238.5L817.2 238.6L816.5 238.7L815.7 238.8L815 238.9L814.2 239L813.5 239L812.7 239L812 238.9L811.2 238.8L810.5 238.8L809.7 238.6L809 238.5L808.3 238.3L807.6 238.1L806.9 237.9L806.2 237.6L805.5 237.3L804.8 237L804.1 236.7L803.4 236.3L802.7 236L802.1 235.6L801.3 235.2L800.6 234.8L799.9 234.4L799.2 233.9L798.5 233.5L797.9 233.1L797.2 232.8L796.6 232.5L796 232.2L795.4 231.9L794.8 231.7L794.3 231.5L793.7 231.3L793.1 231.1L792.5 230.9L792 230.7L791.4 230.6L790.8 230.5L790.2 230.4L789.7 230.3L789.1 230.2L788.5 230L787.9 229.8L787.2 229.5L786.5 229.3L785.8 228.9L785 228.6L784.3 228.2L783.6 227.8L782.9 227.4L782.3 227L781.8 226.6L781.2 226.2L780.7 225.7L780.2 225.2L779.7 224.7L779.3 224.2L778.9 223.7L778.5 223.2L778.1 222.7L777.7 222.3L777.4 221.9L777.1 221.4L776.8 220.9L776.6 220.4L776.4 219.8L776.4 219.2L776.4 218.4L776.5 217.5L776.7 216.6L776.9 215.7L777.2 214.7L777.6 213.7L778 212.8L778.5 211.9L779.1 211.2L779.8 210.4L780.6 209.7L781.4 209L782.3 208.3L783.2 207.6L784 206.9L784.9 206.2L785.7 205.4L786.6 204.6L787.5 203.8L788.4 202.9L789.2 202.1L790.1 201.3L790.9 200.5L791.7 199.8L792.4 199.1L793 198.5L793.6 197.9L794.2 197.4L794.8 196.8L795.4 196.3L796.1 195.8L796.8 195.3L797.5 194.9L798.3 194.4L799.1 194L800 193.6L800.8 193.3L801.7 192.9L802.7 192.6L803.6 192.4L804.6 192.2L805.6 192L806.7 191.9L807.7 191.9L808.8 191.8L809.9 191.7L811 191.6L812.1 191.5L813.1 191.3L814.2 191.1L815.1 190.8L816.2 190.5L817.2 190.3L818.3 190L819.4 189.9L820.6 189.8" fill="none" stroke="#f7a8b3" stroke-width="2" stroke-linecap="round" stroke-linejoin="round" opacity="0.9"/>
<path d="M863.9 219.1L863.1 220L862.2 220.9L861.2 221.8L860.1 222.7L859 223.7L858 224.6L856.9 225.4L855.9 226.2L854.9 226.9L854 227.6L853 228.3L852.1 228.9L851.1 229.5L850.2 230L849.3 230.5L848.3 230.9L847.4 231.3L846.4 231.6L845.4 231.9L844.5 232.1L843.5 232.3L842.6 232.5L841.7 232.7L840.7 232.8L839.8 232.9L838.9 233L837.9 233L837 233L836.1 233L835.2 233.1L834.4 233.2L833.6 233.3L833 233.5L832.4 233.7L831.8 234L831.3 234.3L830.8 234.6L830.3 235L829.9 235.3L829.4 235.7L828.9 236L828.4 236.4L828 236.9L827.6 237.3L827.2 237.7L826.7 238.2L826.2 238.6L825.6 239L824.9 239.4L824.2 239.8L823.5 240.2L822.7 240.5L821.9 240.9L821.1 241.2L820.2 241.6L819.4 241.8L818.6 242.1L817.8 242.3L817 242.5L816.1 242.6L815.3 242.8L814.5 242.9L813.6 243L812.8 243L812 243L811.1 243L810.3 243L809.5 242.9L808.6 242.8L807.8 242.7L807 242.5L806.2 242.3L805.4 242.1L804.6 241.8L803.8 241.5L803.1 241.2L802.3 240.8L801.5 240.5L800.8 240.1L800 239.7L799.2 239.3L798.5 238.8L797.7 238.4L796.9 237.9L796.1 237.4L795.3 237L794.6 236.5L793.9 236.1L793.2 235.8L792.5 235.5L791.8 235.2L791.2 234.9L790.6 234.7L789.9 234.4L789.3 234.2L788.6 234L788 233.8L787.4 233.7L786.7 233.6L786.1 233.5L785.5 233.4L784.8 233.2L784.1 233.1L783.4 232.8L782.7 232.5L781.9 232.2L781.1 231.9L780.3 231.5L779.5 231.1L778.7 230.6L778 230.2L777.3 229.8L776.6 229.3L776 228.8L775.5 228.3L774.9 227.7L774.4 227.2L773.9 226.6L773.5 226L773 225.5L772.6 225L772.2 224.5L771.8 224L771.4 223.5L771.1 222.9L770.9 222.4L770.7 221.7L770.7 221L770.7 220.1L770.8 219.2L771 218.2L771.2 217.1L771.6 216L772 214.9L772.5 213.9L773 212.9L773.7 212.1L774.5 211.2L775.3 210.5L776.2 209.7L777.2 208.9L778.2 208.2L779.2 207.4L780.1 206.6L781.1 205.7L782 204.8L783 203.8L784 202.9L785 202L785.9 201.1L786.8 200.2L787.7 199.4L788.5 198.7L789.2 198L789.9 197.4L790.5 196.7L791.2 196.1L791.9 195.6L792.6 195L793.4 194.5L794.2 194L795.1 193.5L796 193L796.9 192.6L797.9 192.2L798.9 191.8L799.9 191.5L801 191.2L802.1 190.9L803.2 190.8L804.4 190.7L805.6 190.6L806.8 190.5L808 190.5L809.2 190.4L810.4 190.2L811.6 190L812.7 189.7L813.8 189.4L814.9 189.1L816.1 188.8L817.3 188.6L818.5 188.4L819.9 188.3L821.4 188.4" fill="none" stroke="#cc4c69" stroke-width="1.1" stroke-linecap="round" opacity="0.8"/>
</g>
<path d="M711.6 239.9L711.6 238.1L711.9 236.2L712.3 234.1L712.8 231.9L713.5 229.6L714.3 227.4L715.3 225.3L716.4 223.4L717.8 221.6L719.4 219.9L721.1 218.3L723 216.7L725 215.1L727 213.6L729 212L731 210.3L732.9 208.5L734.9 206.6L736.9 204.7L738.9 202.8L740.9 200.9L742.9 199.1L744.7 197.3L746.5 195.7L748.1 194.2L749.6 192.8L751 191.4L752.3 190.1L753.7 188.9L755 187.7L756.5 186.6L758.1 185.5L759.9 184.5L761.6 183.5L763.5 182.5L765.4 181.6L767.4 180.8L769.4 180L771.5 179.3L773.6 178.8L775.9 178.3L778.2 178L780.6 177.8L783.1 177.6L785.6 177.5L788.1 177.3L790.6 177.1L793 176.8L795.4 176.4L797.7 175.8L800 175.2L802.3 174.6L804.6 174L807.1 173.5L809.7 173.1L812.5 172.9L815.5 173L818.9 173.3L822.5 173.7L826.2 174.2L829.8 174.7L833.3 175.2L836.6 175.6L839.6 175.8L842.3 175.9L844.8 175.7L847.1 175.5L849.3 175.2L851.4 174.9L853.3 174.8L855.2 174.7L857.1 174.9L858.8 175.2L860.4 175.6L861.8 176.2L863.2 176.8L864.5 177.5L865.9 178.3L867.2 179.2L868.7 180.2L870.2 181.3L871.7 182.5L873.3 183.8L874.8 185.2L876.4 186.6L878 188.1L879.6 189.5L881.3 190.9L883.1 192.2L884.9 193.5L886.7 194.9L888.6 196.2L890.5 197.5L892.3 198.9L894.1 200.2L895.9 201.5L897.6 202.9L899.4 204.2L901.2 205.5" fill="none" stroke="#f08c9c" stroke-width="1.6" opacity="0.8" stroke-linecap="round"/>
<path d="M807 172C808.2 169.5 810 165.9 813 164C816 162.1 821 160.7 825 160.5C829 160.3 834 161.1 837 163C840 164.9 841.7 169 843 172C844.3 175 842.5 179.7 845 181C847.5 182.3 853.5 179.2 858 180C862.5 180.8 868.3 183 872 186C875.7 189 878.4 193.7 880 198C881.6 202.3 882.2 207.3 881.5 212C880.8 216.7 879.1 222.2 876 226C872.9 229.8 867.8 233 863 235C858.2 237 851.7 238.2 847 238C842.3 237.8 838 236 835 234C832 232 831 226.5 829 226C827 225.5 826 229.5 823 231C820 232.5 815.3 234.5 811 235C806.7 235.5 801.5 235.3 797 234C792.5 232.7 787.1 230.3 784 227C780.9 223.7 779.2 218.3 778.5 214C777.8 209.7 778.2 204.7 779.5 201C780.8 197.3 783.1 194.3 786 192C788.9 189.7 793.3 188 797 187C800.7 186 806.5 187.3 808 186C809.5 184.7 806.2 181.3 806 179C805.8 176.7 805.8 174.5 807 172Z" fill="#b592de" stroke="#8b63b8" stroke-width="0.7"/>
<path d="M822 221C823 217.8 825.3 212.8 827 213C828.7 213.2 830.8 218.5 832 222C833.2 225.5 834.8 231.3 834 234C833.2 236.7 829.2 238.3 827 238C824.8 237.7 821.8 234.8 821 232C820.2 229.2 821 224.2 822 221Z" fill="#7c2a55"/>
<path d="M822.5 232C822.9 229.7 825.5 224.8 827 225C828.5 225.2 831 230.7 831.5 233C832 235.3 831.2 238 830 239C828.8 240 825.8 240.2 824.5 239C823.2 237.8 822.1 234.3 822.5 232Z" fill="#d0627c"/>
<path d="M827 226 V238" stroke="#8a2c4c" stroke-width="0.7"/>
<ellipse cx="825.5" cy="178" rx="15.2" ry="14.3" fill="url(#gNuc)" stroke="#3a1033" stroke-width="0.6"/>
<ellipse cx="822.5" cy="174.2" rx="7.6" ry="6.1" fill="#8a3c7a" opacity="0.3" filter="url(#blur2)"/>
<ellipse cx="801.3" cy="207.8" rx="19.4" ry="18.2" fill="url(#gNuc)" stroke="#3a1033" stroke-width="0.6"/>
<ellipse cx="797.4" cy="203" rx="9.7" ry="7.8" fill="#8a3c7a" opacity="0.3" filter="url(#blur2)"/>
<ellipse cx="853.2" cy="206.3" rx="24" ry="22.6" fill="url(#gNuc)" stroke="#3a1033" stroke-width="0.6"/>
<ellipse cx="848.4" cy="200.3" rx="12" ry="9.6" fill="#8a3c7a" opacity="0.3" filter="url(#blur2)"/>
<circle cx="781.5" cy="214" r="0.8" fill="#4f2f86"/>
<circle cx="785" cy="224.5" r="0.8" fill="#4f2f86"/>
<circle cx="794" cy="231.5" r="0.8" fill="#4f2f86"/>
<circle cx="806" cy="234" r="0.8" fill="#4f2f86"/>
<circle cx="816" cy="231.5" r="0.8" fill="#4f2f86"/>
<circle cx="838" cy="235.5" r="0.8" fill="#4f2f86"/>
<circle cx="850" cy="238" r="0.8" fill="#4f2f86"/>
<circle cx="862" cy="234.5" r="0.8" fill="#4f2f86"/>
<circle cx="873.5" cy="227" r="0.8" fill="#4f2f86"/>
<circle cx="879.5" cy="214" r="0.8" fill="#4f2f86"/>
<circle cx="878.5" cy="200" r="0.8" fill="#4f2f86"/>
<circle cx="811" cy="187" r="0.8" fill="#4f2f86"/>
<circle cx="842" cy="186" r="0.8" fill="#4f2f86"/>
<circle cx="808.5" cy="176" r="0.8" fill="#4f2f86"/>
<circle cx="843" cy="170" r="0.8" fill="#4f2f86"/>
<g><ellipse cx="761.5" cy="214" rx="6.1" ry="3.9" fill="#c7a41c" transform="rotate(-10 761.5 214)"/><circle cx="766.5" cy="213.5" r="1.9" fill="#c7a41c"/><circle cx="764.5" cy="215.9" r="2.1" fill="#c7a41c"/><circle cx="759.8" cy="217" r="1.8" fill="#c7a41c"/><circle cx="756.6" cy="215" r="2.1" fill="#c7a41c"/><circle cx="757.8" cy="212.5" r="2" fill="#c7a41c"/><circle cx="760.3" cy="211.3" r="1.8" fill="#c7a41c"/><circle cx="764.6" cy="211.5" r="2.1" fill="#c7a41c"/><ellipse cx="761.5" cy="214" rx="5.4" ry="3.2" fill="#f3dc46" transform="rotate(-10 761.5 214)"/><circle cx="766.5" cy="213.5" r="1.2" fill="#f3dc46"/><circle cx="764.5" cy="215.9" r="1.4" fill="#f3dc46"/><circle cx="759.8" cy="217" r="1.1" fill="#f3dc46"/><circle cx="756.6" cy="215" r="1.4" fill="#f3dc46"/><circle cx="757.8" cy="212.5" r="1.3" fill="#f3dc46"/><circle cx="760.3" cy="211.3" r="1.1" fill="#f3dc46"/><circle cx="764.6" cy="211.5" r="1.4" fill="#f3dc46"/><ellipse cx="761.5" cy="214" rx="6" ry="3.8" fill="url(#gLo)" transform="rotate(-10 761.5 214)"/><ellipse cx="760.8" cy="213.4" rx="3.3" ry="1.9" fill="#fff7a6" opacity="0.55" transform="rotate(-10 761.5 214)"/><ellipse cx="760.9" cy="213.5" rx="4.8" ry="3" fill="url(#gHi)" opacity="1" transform="rotate(-10 761.5 214)"/></g>
<g><ellipse cx="748.5" cy="241.5" rx="4.5" ry="5.5" fill="#c7a41c" transform="rotate(10 748.5 241.5)"/><circle cx="751.7" cy="243.1" r="2" fill="#c7a41c"/><circle cx="748.8" cy="246" r="1.9" fill="#c7a41c"/><circle cx="746.6" cy="245.4" r="2.1" fill="#c7a41c"/><circle cx="744.9" cy="241.9" r="1.9" fill="#c7a41c"/><circle cx="746.1" cy="238.3" r="1.9" fill="#c7a41c"/><circle cx="748.8" cy="237.1" r="2.1" fill="#c7a41c"/><circle cx="751.8" cy="239.9" r="2.1" fill="#c7a41c"/><ellipse cx="748.5" cy="241.5" rx="3.8" ry="4.8" fill="#f3dc46" transform="rotate(10 748.5 241.5)"/><circle cx="751.7" cy="243.1" r="1.3" fill="#f3dc46"/><circle cx="748.8" cy="246" r="1.2" fill="#f3dc46"/><circle cx="746.6" cy="245.4" r="1.4" fill="#f3dc46"/><circle cx="744.9" cy="241.9" r="1.2" fill="#f3dc46"/><circle cx="746.1" cy="238.3" r="1.2" fill="#f3dc46"/><circle cx="748.8" cy="237.1" r="1.4" fill="#f3dc46"/><circle cx="751.8" cy="239.9" r="1.4" fill="#f3dc46"/><ellipse cx="748.5" cy="241.5" rx="4.5" ry="5.5" fill="url(#gLo)" transform="rotate(10 748.5 241.5)"/><ellipse cx="748" cy="240.7" rx="2.5" ry="2.8" fill="#fff7a6" opacity="0.55" transform="rotate(10 748.5 241.5)"/><ellipse cx="748" cy="240.8" rx="3.6" ry="4.4" fill="url(#gHi)" opacity="1" transform="rotate(10 748.5 241.5)"/></g>
<g><ellipse cx="799" cy="250" rx="6.1" ry="3.9" fill="#c7a41c" transform="rotate(10 799 250)"/><circle cx="803.5" cy="252" r="1.7" fill="#c7a41c"/><circle cx="799.7" cy="253.1" r="1.8" fill="#c7a41c"/><circle cx="796.5" cy="252.1" r="2.1" fill="#c7a41c"/><circle cx="794" cy="250" r="1.9" fill="#c7a41c"/><circle cx="795.1" cy="247.9" r="2.2" fill="#c7a41c"/><circle cx="800.6" cy="247.3" r="1.7" fill="#c7a41c"/><circle cx="802.7" cy="248.5" r="1.9" fill="#c7a41c"/><ellipse cx="799" cy="250" rx="5.4" ry="3.2" fill="#f3dc46" transform="rotate(10 799 250)"/><circle cx="803.5" cy="252" r="1" fill="#f3dc46"/><circle cx="799.7" cy="253.1" r="1.1" fill="#f3dc46"/><circle cx="796.5" cy="252.1" r="1.4" fill="#f3dc46"/><circle cx="794" cy="250" r="1.2" fill="#f3dc46"/><circle cx="795.1" cy="247.9" r="1.5" fill="#f3dc46"/><circle cx="800.6" cy="247.3" r="1" fill="#f3dc46"/><circle cx="802.7" cy="248.5" r="1.2" fill="#f3dc46"/><ellipse cx="799" cy="250" rx="6" ry="3.8" fill="url(#gLo)" transform="rotate(10 799 250)"/><ellipse cx="798.3" cy="249.4" rx="3.3" ry="1.9" fill="#fff7a6" opacity="0.55" transform="rotate(10 799 250)"/><ellipse cx="798.4" cy="249.5" rx="4.8" ry="3" fill="url(#gHi)" opacity="1" transform="rotate(10 799 250)"/></g>
<g><ellipse cx="889" cy="202" rx="3.9" ry="5.1" fill="#c7a41c" transform="rotate(0 889 202)"/><circle cx="891.9" cy="202.8" r="1.8" fill="#c7a41c"/><circle cx="889.8" cy="206" r="1.9" fill="#c7a41c"/><circle cx="888.3" cy="205.9" r="2" fill="#c7a41c"/><circle cx="886.2" cy="203.7" r="1.7" fill="#c7a41c"/><circle cx="886.5" cy="200.1" r="2" fill="#c7a41c"/><circle cx="889.4" cy="198" r="2" fill="#c7a41c"/><circle cx="890.9" cy="199.2" r="2.1" fill="#c7a41c"/><ellipse cx="889" cy="202" rx="3.2" ry="4.4" fill="#f3dc46" transform="rotate(0 889 202)"/><circle cx="891.9" cy="202.8" r="1.1" fill="#f3dc46"/><circle cx="889.8" cy="206" r="1.2" fill="#f3dc46"/><circle cx="888.3" cy="205.9" r="1.3" fill="#f3dc46"/><circle cx="886.2" cy="203.7" r="1" fill="#f3dc46"/><circle cx="886.5" cy="200.1" r="1.3" fill="#f3dc46"/><circle cx="889.4" cy="198" r="1.3" fill="#f3dc46"/><circle cx="890.9" cy="199.2" r="1.4" fill="#f3dc46"/><ellipse cx="889" cy="202" rx="3.8" ry="5" fill="url(#gLo)" transform="rotate(0 889 202)"/><ellipse cx="888.5" cy="201.2" rx="2.1" ry="2.5" fill="#fff7a6" opacity="0.55" transform="rotate(0 889 202)"/><ellipse cx="888.6" cy="201.4" rx="3" ry="4" fill="url(#gHi)" opacity="1" transform="rotate(0 889 202)"/></g>
<g><ellipse cx="908" cy="218.5" rx="4.1" ry="6.1" fill="#c7a41c" transform="rotate(0 908 218.5)"/><circle cx="910.9" cy="219.6" r="2" fill="#c7a41c"/><circle cx="909.4" cy="222.8" r="2.2" fill="#c7a41c"/><circle cx="907.3" cy="223.2" r="2.2" fill="#c7a41c"/><circle cx="905.1" cy="219.2" r="2.1" fill="#c7a41c"/><circle cx="905.8" cy="214.7" r="1.8" fill="#c7a41c"/><circle cx="908.4" cy="213.5" r="2" fill="#c7a41c"/><circle cx="910" cy="214.9" r="2.1" fill="#c7a41c"/><ellipse cx="908" cy="218.5" rx="3.4" ry="5.4" fill="#f3dc46" transform="rotate(0 908 218.5)"/><circle cx="910.9" cy="219.6" r="1.3" fill="#f3dc46"/><circle cx="909.4" cy="222.8" r="1.5" fill="#f3dc46"/><circle cx="907.3" cy="223.2" r="1.5" fill="#f3dc46"/><circle cx="905.1" cy="219.2" r="1.4" fill="#f3dc46"/><circle cx="905.8" cy="214.7" r="1.1" fill="#f3dc46"/><circle cx="908.4" cy="213.5" r="1.3" fill="#f3dc46"/><circle cx="910" cy="214.9" r="1.4" fill="#f3dc46"/><ellipse cx="908" cy="218.5" rx="4" ry="6" fill="url(#gLo)" transform="rotate(0 908 218.5)"/><ellipse cx="907.5" cy="217.6" rx="2.2" ry="3" fill="#fff7a6" opacity="0.55" transform="rotate(0 908 218.5)"/><ellipse cx="907.6" cy="217.8" rx="3.2" ry="4.8" fill="url(#gHi)" opacity="1" transform="rotate(0 908 218.5)"/></g>
<g><ellipse cx="854" cy="260" rx="4.6" ry="3.3" fill="#c7a41c" transform="rotate(0 854 260)"/><circle cx="857.7" cy="260.5" r="1.7" fill="#c7a41c"/><circle cx="855.1" cy="262.3" r="1.8" fill="#c7a41c"/><circle cx="852.4" cy="262.1" r="1.8" fill="#c7a41c"/><circle cx="850.5" cy="260.7" r="1.9" fill="#c7a41c"/><circle cx="851.5" cy="258.1" r="1.6" fill="#c7a41c"/><circle cx="854.1" cy="257.5" r="1.7" fill="#c7a41c"/><circle cx="857" cy="258.7" r="1.9" fill="#c7a41c"/><ellipse cx="854" cy="260" rx="3.9" ry="2.6" fill="#f3dc46" transform="rotate(0 854 260)"/><circle cx="857.7" cy="260.5" r="1" fill="#f3dc46"/><circle cx="855.1" cy="262.3" r="1.1" fill="#f3dc46"/><circle cx="852.4" cy="262.1" r="1.1" fill="#f3dc46"/><circle cx="850.5" cy="260.7" r="1.2" fill="#f3dc46"/><circle cx="851.5" cy="258.1" r="0.9" fill="#f3dc46"/><circle cx="854.1" cy="257.5" r="1" fill="#f3dc46"/><circle cx="857" cy="258.7" r="1.2" fill="#f3dc46"/><ellipse cx="854" cy="260" rx="4.5" ry="3.2" fill="url(#gLo)" transform="rotate(0 854 260)"/><ellipse cx="853.5" cy="259.5" rx="2.5" ry="1.6" fill="#fff7a6" opacity="0.55" transform="rotate(0 854 260)"/><ellipse cx="853.5" cy="259.6" rx="3.6" ry="2.6" fill="url(#gHi)" opacity="1" transform="rotate(0 854 260)"/></g>
<g><ellipse cx="876" cy="260.5" rx="6.6" ry="4.1" fill="#c7a41c" transform="rotate(0 876 260.5)"/><circle cx="881.6" cy="260.6" r="1.9" fill="#c7a41c"/><circle cx="879" cy="263.1" r="1.9" fill="#c7a41c"/><circle cx="874.2" cy="263.2" r="2.1" fill="#c7a41c"/><circle cx="870.6" cy="261.1" r="2.1" fill="#c7a41c"/><circle cx="872.4" cy="258.2" r="1.9" fill="#c7a41c"/><circle cx="875.9" cy="257.3" r="1.7" fill="#c7a41c"/><circle cx="880.9" cy="258.8" r="1.7" fill="#c7a41c"/><ellipse cx="876" cy="260.5" rx="5.9" ry="3.4" fill="#f3dc46" transform="rotate(0 876 260.5)"/><circle cx="881.6" cy="260.6" r="1.2" fill="#f3dc46"/><circle cx="879" cy="263.1" r="1.2" fill="#f3dc46"/><circle cx="874.2" cy="263.2" r="1.4" fill="#f3dc46"/><circle cx="870.6" cy="261.1" r="1.4" fill="#f3dc46"/><circle cx="872.4" cy="258.2" r="1.2" fill="#f3dc46"/><circle cx="875.9" cy="257.3" r="1" fill="#f3dc46"/><circle cx="880.9" cy="258.8" r="1" fill="#f3dc46"/><ellipse cx="876" cy="260.5" rx="6.5" ry="4" fill="url(#gLo)" transform="rotate(0 876 260.5)"/><ellipse cx="875.2" cy="259.9" rx="3.6" ry="2" fill="#fff7a6" opacity="0.55" transform="rotate(0 876 260.5)"/><ellipse cx="875.4" cy="260" rx="5.2" ry="3.2" fill="url(#gHi)" opacity="1" transform="rotate(0 876 260.5)"/></g>
<text x="726.5" y="262" font-size="12" font-weight="normal" font-style="normal" fill="#3a1018" text-anchor="start" >ER</text>
</g>
<g id="bacteria">
<text x="827.5" y="73.5" font-size="18" font-weight="normal" font-style="normal" fill="#000" text-anchor="start" >Bacteria</text>
<g transform="translate(915.5 87) rotate(-36.5)"><path d="M-36.3 1Q-39.4 0.9 -42.5 1.4" fill="none" stroke="#62b4c6" stroke-width="0.65" opacity="0.85"/><path d="M-36.3 -1.9Q-39.8 -2.8 -43.4 -2.4" fill="none" stroke="#62b4c6" stroke-width="0.65" opacity="0.85"/><path d="M-35.9 -4.8Q-40.9 -2.7 -44.6 -6.6" fill="none" stroke="#62b4c6" stroke-width="0.65" opacity="0.85"/><path d="M-35.2 -7.6Q-36.5 -10.6 -39.5 -9.2" fill="none" stroke="#62b4c6" stroke-width="0.65" opacity="0.85"/><path d="M-34 -10Q-37.7 -10.1 -39.4 -13.3" fill="none" stroke="#62b4c6" stroke-width="0.65" opacity="0.85"/><path d="M-32.5 -11.9Q-36.8 -15.8 -40.7 -19.9" fill="none" stroke="#62b4c6" stroke-width="0.65" opacity="0.85"/><path d="M-30.7 -13.4Q-33.7 -17.6 -36.4 -22" fill="none" stroke="#62b4c6" stroke-width="0.65" opacity="0.85"/><path d="M-28.4 -14.6Q-32.4 -17.8 -31.9 -22.9" fill="none" stroke="#62b4c6" stroke-width="0.65" opacity="0.85"/><path d="M-25.8 -15.5Q-24.3 -20.5 -27.9 -24.2" fill="none" stroke="#62b4c6" stroke-width="0.65" opacity="0.85"/><path d="M-22.5 -16Q-21.3 -20.3 -23.4 -24.2" fill="none" stroke="#62b4c6" stroke-width="0.65" opacity="0.85"/><path d="M-18.8 -16.2Q-21.9 -20.8 -19 -25.4" fill="none" stroke="#62b4c6" stroke-width="0.65" opacity="0.85"/><path d="M-14.9 -16.2Q-14.1 -21.1 -14.6 -26" fill="none" stroke="#62b4c6" stroke-width="0.65" opacity="0.85"/><path d="M-11 -16Q-14 -19.6 -10.5 -22.6" fill="none" stroke="#62b4c6" stroke-width="0.65" opacity="0.85"/><path d="M-7.3 -15.6Q-6.8 -20.9 -5.9 -26.1" fill="none" stroke="#62b4c6" stroke-width="0.65" opacity="0.85"/><path d="M-3.6 -15Q-0.1 -19.2 -1.9 -24.3" fill="none" stroke="#62b4c6" stroke-width="0.65" opacity="0.85"/><path d="M0.1 -14.2Q3.9 -18.3 1.9 -23.5" fill="none" stroke="#62b4c6" stroke-width="0.65" opacity="0.85"/><path d="M3.7 -13.5Q6.5 -16.6 5.1 -20.6" fill="none" stroke="#62b4c6" stroke-width="0.65" opacity="0.85"/><path d="M7.3 -12.8Q11.1 -15.8 8.9 -20.2" fill="none" stroke="#62b4c6" stroke-width="0.65" opacity="0.85"/><path d="M10.8 -11.9Q9.2 -17.8 13.2 -22.3" fill="none" stroke="#62b4c6" stroke-width="0.65" opacity="0.85"/><path d="M14.2 -11.2Q12.9 -14.2 15.4 -16.5" fill="none" stroke="#62b4c6" stroke-width="0.65" opacity="0.85"/><path d="M17.5 -10.5Q18 -16.1 19.4 -21.6" fill="none" stroke="#62b4c6" stroke-width="0.65" opacity="0.85"/><path d="M20.5 -10.1Q19.7 -14.6 21.6 -18.9" fill="none" stroke="#62b4c6" stroke-width="0.65" opacity="0.85"/><path d="M23.5 -9.8Q23.1 -13.9 24.3 -17.8" fill="none" stroke="#62b4c6" stroke-width="0.65" opacity="0.85"/><path d="M26.1 -9.5Q27.3 -12.8 27.2 -16.4" fill="none" stroke="#62b4c6" stroke-width="0.65" opacity="0.85"/><path d="M28.5 -9Q32.3 -12.4 30.7 -17.3" fill="none" stroke="#62b4c6" stroke-width="0.65" opacity="0.85"/><path d="M30.6 -8.3Q35 -11.6 33.9 -17" fill="none" stroke="#62b4c6" stroke-width="0.65" opacity="0.85"/><path d="M32.3 -7.5Q37.8 -10.5 37.3 -16.8" fill="none" stroke="#62b4c6" stroke-width="0.65" opacity="0.85"/><path d="M33.8 -6.6Q34.7 -11.7 39.4 -13.9" fill="none" stroke="#62b4c6" stroke-width="0.65" opacity="0.85"/><path d="M35 -5.5Q41.1 -6.4 43 -12.3" fill="none" stroke="#62b4c6" stroke-width="0.65" opacity="0.85"/><path d="M35.8 -4.2Q40.9 -6.2 45.5 -9.1" fill="none" stroke="#62b4c6" stroke-width="0.65" opacity="0.85"/><path d="M36.4 -2.7Q40.4 -5.9 45.6 -5.3" fill="none" stroke="#62b4c6" stroke-width="0.65" opacity="0.85"/><path d="M36.7 -1.1Q41.9 -1.2 47 -2.3" fill="none" stroke="#62b4c6" stroke-width="0.65" opacity="0.85"/><path d="M36.8 0.5Q40.2 -2.4 43.3 0.7" fill="none" stroke="#62b4c6" stroke-width="0.65" opacity="0.85"/><path d="M36.6 2.1Q41.1 6.4 46.9 4" fill="none" stroke="#62b4c6" stroke-width="0.65" opacity="0.85"/><path d="M36.2 3.7Q37.9 6.5 41 5.4" fill="none" stroke="#62b4c6" stroke-width="0.65" opacity="0.85"/><path d="M35.5 5.2Q39.9 5 41.8 9" fill="none" stroke="#62b4c6" stroke-width="0.65" opacity="0.85"/><path d="M34.5 6.5Q35.6 10.1 39.3 11" fill="none" stroke="#62b4c6" stroke-width="0.65" opacity="0.85"/><path d="M33.2 7.6Q38.9 10.1 39.3 16.3" fill="none" stroke="#62b4c6" stroke-width="0.65" opacity="0.85"/><path d="M31.7 8.5Q36.5 11 35.5 16.4" fill="none" stroke="#62b4c6" stroke-width="0.65" opacity="0.85"/><path d="M29.8 9.3Q32.6 13.3 33.2 18.2" fill="none" stroke="#62b4c6" stroke-width="0.65" opacity="0.85"/><path d="M27.6 10Q25.9 16.1 30.6 20.2" fill="none" stroke="#62b4c6" stroke-width="0.65" opacity="0.85"/><path d="M25 10.7Q22.5 15.4 26.8 18.5" fill="none" stroke="#62b4c6" stroke-width="0.65" opacity="0.85"/><path d="M22 11.3Q25.5 14 23.2 17.8" fill="none" stroke="#62b4c6" stroke-width="0.65" opacity="0.85"/><path d="M18.8 11.9Q22.9 15.5 20.5 20.4" fill="none" stroke="#62b4c6" stroke-width="0.65" opacity="0.85"/><path d="M15.6 12.5Q16.9 15.2 16.9 18.2" fill="none" stroke="#62b4c6" stroke-width="0.65" opacity="0.85"/><path d="M12.5 13.2Q15.9 16.9 14.5 21.8" fill="none" stroke="#62b4c6" stroke-width="0.65" opacity="0.85"/><path d="M9.3 14Q7.4 16.9 10.4 18.7" fill="none" stroke="#62b4c6" stroke-width="0.65" opacity="0.85"/><path d="M6.1 14.8Q3.7 18.8 7.6 21.3" fill="none" stroke="#62b4c6" stroke-width="0.65" opacity="0.85"/><path d="M2.8 15.5Q4.7 20.6 5 26" fill="none" stroke="#62b4c6" stroke-width="0.65" opacity="0.85"/><path d="M-0.6 16.2Q0 20 1 23.8" fill="none" stroke="#62b4c6" stroke-width="0.65" opacity="0.85"/><path d="M-4.1 17Q-3.9 21.5 -2.4 25.8" fill="none" stroke="#62b4c6" stroke-width="0.65" opacity="0.85"/><path d="M-7.6 17.6Q-7.8 21.9 -6.4 25.9" fill="none" stroke="#62b4c6" stroke-width="0.65" opacity="0.85"/><path d="M-11 18Q-10.6 23.5 -10.1 29" fill="none" stroke="#62b4c6" stroke-width="0.65" opacity="0.85"/><path d="M-14.4 18.2Q-15.8 22 -14.1 25.7" fill="none" stroke="#62b4c6" stroke-width="0.65" opacity="0.85"/><path d="M-17.8 18.2Q-16.5 21.4 -17.9 24.4" fill="none" stroke="#62b4c6" stroke-width="0.65" opacity="0.85"/><path d="M-21 18Q-21.8 23.7 -22.4 29.3" fill="none" stroke="#62b4c6" stroke-width="0.65" opacity="0.85"/><path d="M-23.9 17.5Q-21.7 22.4 -26 25.6" fill="none" stroke="#62b4c6" stroke-width="0.65" opacity="0.85"/><path d="M-26.5 16.6Q-28.5 19.8 -29.4 23.4" fill="none" stroke="#62b4c6" stroke-width="0.65" opacity="0.85"/><path d="M-28.9 15.4Q-30.8 17 -31.3 19.4" fill="none" stroke="#62b4c6" stroke-width="0.65" opacity="0.85"/><path d="M-30.9 13.9Q-31.6 19.3 -36.9 20.5" fill="none" stroke="#62b4c6" stroke-width="0.65" opacity="0.85"/><path d="M-32.7 12Q-36.1 14.8 -39.8 17.3" fill="none" stroke="#62b4c6" stroke-width="0.65" opacity="0.85"/><path d="M-34.1 9.6Q-37.8 12.6 -42.4 13.7" fill="none" stroke="#62b4c6" stroke-width="0.65" opacity="0.85"/><path d="M-35.2 6.8Q-40.2 6.7 -44.2 9.8" fill="none" stroke="#62b4c6" stroke-width="0.65" opacity="0.85"/><path d="M-36 3.9Q-37.6 7.3 -40.5 4.8" fill="none" stroke="#62b4c6" stroke-width="0.65" opacity="0.85"/><path d="M-36.3 1C-36.6 -2.7 -35.8 -7.2 -34 -10C-32.3 -12.8 -29.6 -14.5 -25.8 -15.5C-21.9 -16.5 -15.9 -16.3 -11 -16C-6.1 -15.7 -1.1 -14.4 3.7 -13.5C8.4 -12.6 13.3 -11.2 17.5 -10.5C21.6 -9.8 25.6 -9.8 28.5 -9C31.4 -8.2 33.6 -7.1 35 -5.5C36.3 -3.9 36.9 -1.5 36.8 0.5C36.7 2.5 36 4.9 34.5 6.5C33 8.1 30.7 9 27.6 10C24.5 11 19.8 11.6 15.6 12.5C11.5 13.4 7.2 14.6 2.8 15.5C-1.7 16.4 -6.6 17.7 -11 18C-15.5 18.3 -20.3 18.5 -23.9 17.5C-27.5 16.5 -30.6 14.8 -32.7 12C-34.7 9.2 -36.1 4.7 -36.3 1Z" fill="url(#gBac)" stroke="#0e666c" stroke-width="0.6"/><g clip-path="url(#clipBac)"><ellipse cx="-8" cy="-7" rx="30" ry="5.5" fill="#7fd2cc" opacity="0.4" filter="url(#blur1)"/><ellipse cx="-10" cy="14" rx="32" ry="5" fill="#08525c" opacity="0.45" filter="url(#blur1)"/><path d="M14.1 4.9q6.3 0.4 12.5 -0.4" fill="none" stroke="#8fe0d4" stroke-width="0.7" opacity="0.5"/><path d="M-19.7 -3.8q7.3 -0.8 14.6 -0.2" fill="none" stroke="#0a5660" stroke-width="0.7" opacity="0.5"/><path d="M-34.6 7.6q9.1 -0.8 18.2 -0.6" fill="none" stroke="#0a5660" stroke-width="0.7" opacity="0.5"/><path d="M-23.6 8.5q5.7 0.8 11.4 -0.8" fill="none" stroke="#8fe0d4" stroke-width="0.7" opacity="0.5"/><path d="M-18.6 -5q11.5 1.4 23 -0.7" fill="none" stroke="#8fe0d4" stroke-width="0.7" opacity="0.5"/><path d="M-2.2 -4.6q12 -1.1 23.9 -0.8" fill="none" stroke="#8fe0d4" stroke-width="0.7" opacity="0.5"/><path d="M-26.1 0.8q11.3 -1.3 22.5 -0.4" fill="none" stroke="#0a5660" stroke-width="0.7" opacity="0.5"/><path d="M-2.6 8.6q11.3 -1.5 22.5 -0.4" fill="none" stroke="#8fe0d4" stroke-width="0.7" opacity="0.5"/><path d="M-21.9 8.2q7.1 -0.3 14.2 -0.2" fill="none" stroke="#8fe0d4" stroke-width="0.7" opacity="0.5"/><path d="M-27.9 11.8q4 1.5 8.1 1" fill="none" stroke="#0a5660" stroke-width="0.7" opacity="0.5"/><path d="M13.4 -1.8q12.3 1 24.7 0.7" fill="none" stroke="#8fe0d4" stroke-width="0.7" opacity="0.5"/><path d="M-9 4.6q6.6 -1.1 13.2 -0.9" fill="none" stroke="#8fe0d4" stroke-width="0.7" opacity="0.5"/><path d="M-21.1 2.5q11.3 1.6 22.6 0.4" fill="none" stroke="#8fe0d4" stroke-width="0.7" opacity="0.5"/><path d="M10.6 11.9q12.1 -1.9 24.2 0.5" fill="none" stroke="#0a5660" stroke-width="0.7" opacity="0.5"/><path d="M-20.4 -9.2q10 -0.3 19.9 0.9" fill="none" stroke="#0a5660" stroke-width="0.7" opacity="0.5"/><path d="M-18.2 3.1q6.3 -0.1 12.5 0.6" fill="none" stroke="#0a5660" stroke-width="0.7" opacity="0.5"/><path d="M-25.7 -4.1q8.8 -1.3 17.6 0.6" fill="none" stroke="#0a5660" stroke-width="0.7" opacity="0.5"/><path d="M5.9 11.8q11.4 0.5 22.8 0.7" fill="none" stroke="#8fe0d4" stroke-width="0.7" opacity="0.5"/><path d="M-21.9 -12.6q6.4 -0.3 12.8 -0.1" fill="none" stroke="#0a5660" stroke-width="0.7" opacity="0.5"/><path d="M-35.9 7.7q4.5 -1.5 9 -0.9" fill="none" stroke="#8fe0d4" stroke-width="0.7" opacity="0.5"/><path d="M8.4 13.3q4.8 -0.7 9.6 -0.4" fill="none" stroke="#0a5660" stroke-width="0.7" opacity="0.5"/><path d="M-2.4 -4.2q9.3 -1.2 18.6 -0.3" fill="none" stroke="#8fe0d4" stroke-width="0.7" opacity="0.5"/></g></g>
<path d="M944 62.5C944.7 62 946.7 60.5 948 59.5C949.3 58.5 950.8 57.8 952 56.5C953.2 55.2 954.3 53.7 955.5 52C956.7 50.3 957.8 48.4 959 46.5C960.2 44.6 961.3 42.1 962.5 40.5C963.7 38.9 964.8 37.8 966 37C967.2 36.2 968.9 35.8 969.5 35.5" fill="none" stroke="#4a9ab8" stroke-width="0.9"/>
<path d="M872.5 114.5L870.5 110.5L865 114.3L864.4 112.3L859 118L858.4 116L852 122.8L859.5 120.9L859.8 122.5L865 117.2L865.5 119.1Z" fill="#f7e21c" stroke="#fff8a0" stroke-width="0.5"/>
<path d="M885.2 124.5L881.8 121.5L877.9 127L876.7 125.3L873.5 132.6L872.3 130.9L868.5 139.5L874.9 135.1L875.8 136.5L878.9 129.7L880 131.3Z" fill="#f7e21c" stroke="#fff8a0" stroke-width="0.5"/>
<path d="M896.2 130.6L891.8 129.4L890.8 135.9L888.9 134.9L889.4 142.8L887.5 141.8L888 151L891.7 144.3L893.2 145.2L892.9 137.9L894.6 138.8Z" fill="#f7e21c" stroke="#fff8a0" stroke-width="0.5"/>
<path d="M900.5 144C900.8 146 902.6 152 902 156C901.4 160 899.4 164.4 897 168C894.6 171.6 889.1 175.9 887.5 177.5" fill="none" stroke="#111" stroke-width="3" stroke-linecap="round"/><path d="M882.4 182.6L887 168.8L896.2 178Z" fill="#111"/>
</g>
<g id="cytokines">
<path d="M629.5 421 Q630 427 631 432" stroke="#3a4a4a" stroke-width="3.2" opacity="0.35" fill="none" stroke-linecap="round"/>
<path d="M631 432C631.8 435.3 633.8 446.5 636 452C638.2 457.5 640.5 461 644 465C647.5 469 652.3 473 657 476C661.7 479 667.8 481.2 672 483C676.2 484.8 680.3 485.9 682 486.5" fill="none" stroke="#4a4a4a" stroke-width="3.4" stroke-linecap="round"/><path d="M690.3 489.4L672.6 491.7L677.8 476.6Z" fill="#4a4a4a"/>
<g><path d="M724.1 490.4L728.5 488.8" stroke="#2aa844" stroke-width="1.5" stroke-linecap="round"/><path d="M724.9 493.5L729.6 493.1" stroke="#2aa844" stroke-width="1.5" stroke-linecap="round"/><path d="M725.1 496.6L729.8 497.2" stroke="#2aa844" stroke-width="1.5" stroke-linecap="round"/><path d="M724.6 499.6L729.2 501.4" stroke="#2aa844" stroke-width="1.5" stroke-linecap="round"/><path d="M723.6 502.3L727.7 505.1" stroke="#2aa844" stroke-width="1.5" stroke-linecap="round"/><path d="M722.1 504.6L725.6 508.3" stroke="#2aa844" stroke-width="1.5" stroke-linecap="round"/><path d="M719.9 506.7L722.6 511.1" stroke="#2aa844" stroke-width="1.5" stroke-linecap="round"/><path d="M718.2 507.6L720.3 512.3" stroke="#2aa844" stroke-width="1.5" stroke-linecap="round"/><path d="M716 508.4L717.3 513.4" stroke="#2aa844" stroke-width="1.5" stroke-linecap="round"/><path d="M713.2 508.6L713.4 513.7" stroke="#2aa844" stroke-width="1.5" stroke-linecap="round"/><path d="M710.7 508.2L709.9 513.2" stroke="#2aa844" stroke-width="1.5" stroke-linecap="round"/><path d="M707.7 506.9L705.8 511.5" stroke="#2aa844" stroke-width="1.5" stroke-linecap="round"/><path d="M705.5 505.4L702.8 509.4" stroke="#2aa844" stroke-width="1.5" stroke-linecap="round"/><path d="M703.6 503.5L700.2 506.8" stroke="#2aa844" stroke-width="1.5" stroke-linecap="round"/><path d="M702.1 501.3L698.2 503.8" stroke="#2aa844" stroke-width="1.5" stroke-linecap="round"/><path d="M700.6 497.6L696.1 498.9" stroke="#2aa844" stroke-width="1.5" stroke-linecap="round"/><path d="M700 494.9L695.3 495.1" stroke="#2aa844" stroke-width="1.5" stroke-linecap="round"/><path d="M700 492L695.3 491.1" stroke="#2aa844" stroke-width="1.5" stroke-linecap="round"/><path d="M700.5 489L696 487.1" stroke="#2aa844" stroke-width="1.5" stroke-linecap="round"/><path d="M701.6 486.3L697.6 483.3" stroke="#2aa844" stroke-width="1.5" stroke-linecap="round"/><path d="M702.5 484.9L698.8 481.5" stroke="#2aa844" stroke-width="1.5" stroke-linecap="round"/><path d="M704.5 482.8L701.5 478.7" stroke="#2aa844" stroke-width="1.5" stroke-linecap="round"/><path d="M707 481.3L705 476.5" stroke="#2aa844" stroke-width="1.5" stroke-linecap="round"/><path d="M709.7 480.5L708.8 475.4" stroke="#2aa844" stroke-width="1.5" stroke-linecap="round"/><path d="M712.1 480.4L712 475.3" stroke="#2aa844" stroke-width="1.5" stroke-linecap="round"/><path d="M714.7 480.9L715.6 476" stroke="#2aa844" stroke-width="1.5" stroke-linecap="round"/><path d="M717 481.9L718.8 477.3" stroke="#2aa844" stroke-width="1.5" stroke-linecap="round"/><path d="M719.3 483.4L721.9 479.3" stroke="#2aa844" stroke-width="1.5" stroke-linecap="round"/><path d="M721.9 486.2L725.5 483.1" stroke="#2aa844" stroke-width="1.5" stroke-linecap="round"/><path d="M723.5 488.9L727.7 486.8" stroke="#2aa844" stroke-width="1.5" stroke-linecap="round"/><ellipse cx="712.5" cy="494.5" rx="14.3" ry="16.8" fill="#188834" transform="rotate(-20 712.5 494.5)"/><circle cx="724.9" cy="490.9" r="4" fill="#188834"/><circle cx="725.2" cy="495.3" r="4.6" fill="#188834"/><circle cx="724.1" cy="502.1" r="4.6" fill="#188834"/><circle cx="723.1" cy="505.6" r="3.4" fill="#188834"/><circle cx="719.9" cy="508.4" r="3.3" fill="#188834"/><circle cx="715.5" cy="509.4" r="4.1" fill="#188834"/><circle cx="710.2" cy="508.7" r="4.3" fill="#188834"/><circle cx="704.9" cy="506.2" r="3.6" fill="#188834"/><circle cx="702.4" cy="503.4" r="3.6" fill="#188834"/><circle cx="700.4" cy="498.8" r="4" fill="#188834"/><circle cx="698.8" cy="493.2" r="3.3" fill="#188834"/><circle cx="700.4" cy="486.4" r="3.7" fill="#188834"/><circle cx="703.6" cy="482.8" r="4.6" fill="#188834"/><circle cx="706.4" cy="480" r="3.4" fill="#188834"/><circle cx="709.7" cy="479.1" r="3.4" fill="#188834"/><circle cx="715.7" cy="480.3" r="3.8" fill="#188834"/><circle cx="719.4" cy="481.7" r="3.1" fill="#188834"/><circle cx="722.8" cy="486" r="3.7" fill="#188834"/><ellipse cx="712.5" cy="494.5" rx="13.7" ry="16.2" fill="#33b94b" transform="rotate(-20 712.5 494.5)"/><circle cx="724.9" cy="490.9" r="3.4" fill="#33b94b"/><circle cx="725.2" cy="495.3" r="4" fill="#33b94b"/><circle cx="724.1" cy="502.1" r="4" fill="#33b94b"/><circle cx="723.1" cy="505.6" r="2.8" fill="#33b94b"/><circle cx="719.9" cy="508.4" r="2.7" fill="#33b94b"/><circle cx="715.5" cy="509.4" r="3.5" fill="#33b94b"/><circle cx="710.2" cy="508.7" r="3.7" fill="#33b94b"/><circle cx="704.9" cy="506.2" r="3" fill="#33b94b"/><circle cx="702.4" cy="503.4" r="3" fill="#33b94b"/><circle cx="700.4" cy="498.8" r="3.4" fill="#33b94b"/><circle cx="698.8" cy="493.2" r="2.7" fill="#33b94b"/><circle cx="700.4" cy="486.4" r="3.1" fill="#33b94b"/><circle cx="703.6" cy="482.8" r="4" fill="#33b94b"/><circle cx="706.4" cy="480" r="2.8" fill="#33b94b"/><circle cx="709.7" cy="479.1" r="2.8" fill="#33b94b"/><circle cx="715.7" cy="480.3" r="3.2" fill="#33b94b"/><circle cx="719.4" cy="481.7" r="2.5" fill="#33b94b"/><circle cx="722.8" cy="486" r="3.1" fill="#33b94b"/><ellipse cx="712.5" cy="494.5" rx="15.4" ry="17.9" fill="url(#gLo)" transform="rotate(-20 712.5 494.5)"/><ellipse cx="710.7" cy="491.8" rx="8.5" ry="8.9" fill="#a6f0a8" opacity="0.38" transform="rotate(-20 712.5 494.5)"/><ellipse cx="711" cy="492.4" rx="12.3" ry="14.3" fill="url(#gHi)" opacity="0.7" transform="rotate(-20 712.5 494.5)"/></g>
<path d="M710.1 499.4C711 499.4 714.5 499 715.7 499.7C716.8 500.4 716.7 502.8 716.9 503.4" fill="none" stroke="#eaffea" stroke-width="0.9" stroke-linecap="round" opacity="0.85"/><path d="M719.7 493.7C720.6 493.7 724.1 493 725.3 493.6C726.5 494.2 726.5 496.7 726.7 497.3" fill="none" stroke="#eaffea" stroke-width="0.9" stroke-linecap="round" opacity="0.85"/><path d="M712.4 496.2C713.2 496.6 716.7 497.2 717.6 498.1C718.5 499.1 717.7 501.4 717.7 502.1" fill="none" stroke="#eaffea" stroke-width="0.9" stroke-linecap="round" opacity="0.85"/><path d="M712.6 494.7C712.2 493.8 710.4 490.8 710.6 489.5C710.7 488.2 713 487.3 713.5 486.8" fill="none" stroke="#eaffea" stroke-width="0.9" stroke-linecap="round" opacity="0.85"/><path d="M707.7 499.9C707.8 498.9 707.4 495.4 708.1 494.3C708.8 493.2 711.2 493.3 711.8 493.1" fill="none" stroke="#eaffea" stroke-width="0.9" stroke-linecap="round" opacity="0.85"/>
<g><path d="M762.7 495.5L766.9 497.6" stroke="#2aa844" stroke-width="1.5" stroke-linecap="round"/><path d="M761.3 497.9L764.9 500.9" stroke="#2aa844" stroke-width="1.5" stroke-linecap="round"/><path d="M758.9 500.6L761.7 504.5" stroke="#2aa844" stroke-width="1.5" stroke-linecap="round"/><path d="M756.6 502.3L758.6 506.9" stroke="#2aa844" stroke-width="1.5" stroke-linecap="round"/><path d="M753.4 503.8L754.2 508.8" stroke="#2aa844" stroke-width="1.5" stroke-linecap="round"/><path d="M751.7 504.2L751.8 509.3" stroke="#2aa844" stroke-width="1.5" stroke-linecap="round"/><path d="M749.2 504.3L748.3 509.5" stroke="#2aa844" stroke-width="1.5" stroke-linecap="round"/><path d="M746.1 503.6L744.2 508.5" stroke="#2aa844" stroke-width="1.5" stroke-linecap="round"/><path d="M744.3 502.7L741.6 507.2" stroke="#2aa844" stroke-width="1.5" stroke-linecap="round"/><path d="M741.8 500.4L738.1 504.1" stroke="#2aa844" stroke-width="1.5" stroke-linecap="round"/><path d="M740.4 498.4L736.2 501.3" stroke="#2aa844" stroke-width="1.5" stroke-linecap="round"/><path d="M739.3 495.2L734.6 497" stroke="#2aa844" stroke-width="1.5" stroke-linecap="round"/><path d="M738.9 492.3L734.1 493" stroke="#2aa844" stroke-width="1.5" stroke-linecap="round"/><path d="M739 490.3L734.2 490.3" stroke="#2aa844" stroke-width="1.5" stroke-linecap="round"/><path d="M739.8 486.5L735.3 485.2" stroke="#2aa844" stroke-width="1.5" stroke-linecap="round"/><path d="M740.9 484.1L736.8 481.9" stroke="#2aa844" stroke-width="1.5" stroke-linecap="round"/><path d="M743 481L739.6 477.6" stroke="#2aa844" stroke-width="1.5" stroke-linecap="round"/><path d="M744.1 479.7L741.2 476" stroke="#2aa844" stroke-width="1.5" stroke-linecap="round"/><path d="M746.9 477.6L745 473.1" stroke="#2aa844" stroke-width="1.5" stroke-linecap="round"/><path d="M750.1 476.2L749.4 471.1" stroke="#2aa844" stroke-width="1.5" stroke-linecap="round"/><path d="M751.6 475.8L751.4 470.7" stroke="#2aa844" stroke-width="1.5" stroke-linecap="round"/><path d="M754.6 475.7L755.5 470.6" stroke="#2aa844" stroke-width="1.5" stroke-linecap="round"/><path d="M757.1 476.3L759 471.4" stroke="#2aa844" stroke-width="1.5" stroke-linecap="round"/><path d="M759.4 477.5L762.3 473.1" stroke="#2aa844" stroke-width="1.5" stroke-linecap="round"/><path d="M761.9 479.9L765.7 476.4" stroke="#2aa844" stroke-width="1.5" stroke-linecap="round"/><path d="M762.8 481.3L766.9 478.2" stroke="#2aa844" stroke-width="1.5" stroke-linecap="round"/><path d="M764.1 484.7L768.7 482.9" stroke="#2aa844" stroke-width="1.5" stroke-linecap="round"/><path d="M764.4 486.8L769.2 485.7" stroke="#2aa844" stroke-width="1.5" stroke-linecap="round"/><path d="M764.3 490.6L769 491" stroke="#2aa844" stroke-width="1.5" stroke-linecap="round"/><path d="M763.9 492.5L768.4 493.6" stroke="#2aa844" stroke-width="1.5" stroke-linecap="round"/><ellipse cx="751.7" cy="490" rx="14.3" ry="17.3" fill="#188834" transform="rotate(25 751.7 490)"/><circle cx="763.3" cy="495.6" r="4" fill="#188834"/><circle cx="758.6" cy="502.1" r="3.6" fill="#188834"/><circle cx="755.2" cy="504.3" r="3.6" fill="#188834"/><circle cx="750" cy="505.3" r="4.1" fill="#188834"/><circle cx="746" cy="504.3" r="4.5" fill="#188834"/><circle cx="741.7" cy="502.4" r="3.6" fill="#188834"/><circle cx="739.7" cy="498.9" r="4" fill="#188834"/><circle cx="737.8" cy="493.4" r="3.4" fill="#188834"/><circle cx="738.7" cy="487.6" r="3.7" fill="#188834"/><circle cx="740.5" cy="482.4" r="3.2" fill="#188834"/><circle cx="743.2" cy="478.8" r="3.1" fill="#188834"/><circle cx="747.9" cy="475.7" r="3.4" fill="#188834"/><circle cx="752.5" cy="474.3" r="3.4" fill="#188834"/><circle cx="758.1" cy="475.5" r="4" fill="#188834"/><circle cx="761" cy="477.2" r="3.8" fill="#188834"/><circle cx="763.2" cy="480.9" r="4.5" fill="#188834"/><circle cx="765.2" cy="487.3" r="3.9" fill="#188834"/><circle cx="764.5" cy="490.6" r="4.5" fill="#188834"/><ellipse cx="751.7" cy="490" rx="13.7" ry="16.7" fill="#33b94b" transform="rotate(25 751.7 490)"/><circle cx="763.3" cy="495.6" r="3.4" fill="#33b94b"/><circle cx="758.6" cy="502.1" r="3" fill="#33b94b"/><circle cx="755.2" cy="504.3" r="3" fill="#33b94b"/><circle cx="750" cy="505.3" r="3.5" fill="#33b94b"/><circle cx="746" cy="504.3" r="3.9" fill="#33b94b"/><circle cx="741.7" cy="502.4" r="3" fill="#33b94b"/><circle cx="739.7" cy="498.9" r="3.4" fill="#33b94b"/><circle cx="737.8" cy="493.4" r="2.8" fill="#33b94b"/><circle cx="738.7" cy="487.6" r="3.1" fill="#33b94b"/><circle cx="740.5" cy="482.4" r="2.6" fill="#33b94b"/><circle cx="743.2" cy="478.8" r="2.5" fill="#33b94b"/><circle cx="747.9" cy="475.7" r="2.8" fill="#33b94b"/><circle cx="752.5" cy="474.3" r="2.8" fill="#33b94b"/><circle cx="758.1" cy="475.5" r="3.4" fill="#33b94b"/><circle cx="761" cy="477.2" r="3.2" fill="#33b94b"/><circle cx="763.2" cy="480.9" r="3.9" fill="#33b94b"/><circle cx="765.2" cy="487.3" r="3.3" fill="#33b94b"/><circle cx="764.5" cy="490.6" r="3.9" fill="#33b94b"/><ellipse cx="751.7" cy="490" rx="15.4" ry="18.4" fill="url(#gLo)" transform="rotate(25 751.7 490)"/><ellipse cx="749.9" cy="487.2" rx="8.5" ry="9.2" fill="#a6f0a8" opacity="0.38" transform="rotate(25 751.7 490)"/><ellipse cx="750.2" cy="487.8" rx="12.3" ry="14.7" fill="url(#gHi)" opacity="0.7" transform="rotate(25 751.7 490)"/></g>
<path d="M756.4 492.3C757.3 492.3 760.8 491.4 762 491.9C763.2 492.5 763.4 494.9 763.6 495.5" fill="none" stroke="#eaffea" stroke-width="0.9" stroke-linecap="round" opacity="0.85"/><path d="M749 494C748.4 494.6 746.4 497.6 745.1 498C743.8 498.4 742.1 496.7 741.5 496.4" fill="none" stroke="#eaffea" stroke-width="0.9" stroke-linecap="round" opacity="0.85"/><path d="M751.3 484C750.5 483.4 747.3 481.9 746.7 480.7C746.1 479.6 747.5 477.6 747.7 476.9" fill="none" stroke="#eaffea" stroke-width="0.9" stroke-linecap="round" opacity="0.85"/><path d="M757.8 489.1C757.3 489.8 755.9 493.1 754.7 493.7C753.6 494.4 751.5 493 750.9 492.9" fill="none" stroke="#eaffea" stroke-width="0.9" stroke-linecap="round" opacity="0.85"/><path d="M747.6 493.8C747.3 493 745.5 489.9 745.6 488.6C745.8 487.3 748.1 486.4 748.5 486" fill="none" stroke="#eaffea" stroke-width="0.9" stroke-linecap="round" opacity="0.85"/>
<g><path d="M759.3 524.4L763.3 523.4" stroke="#2aa844" stroke-width="1.5" stroke-linecap="round"/><path d="M759.8 528L764 528.3" stroke="#2aa844" stroke-width="1.5" stroke-linecap="round"/><path d="M759.7 529.7L763.9 530.6" stroke="#2aa844" stroke-width="1.5" stroke-linecap="round"/><path d="M758.9 533.2L762.8 535.5" stroke="#2aa844" stroke-width="1.5" stroke-linecap="round"/><path d="M758.3 534.5L761.9 537.2" stroke="#2aa844" stroke-width="1.5" stroke-linecap="round"/><path d="M757 536.4L760.1 539.9" stroke="#2aa844" stroke-width="1.5" stroke-linecap="round"/><path d="M755.1 538.2L757.3 542.3" stroke="#2aa844" stroke-width="1.5" stroke-linecap="round"/><path d="M752.8 539.2L754.2 543.8" stroke="#2aa844" stroke-width="1.5" stroke-linecap="round"/><path d="M751 539.6L751.6 544.3" stroke="#2aa844" stroke-width="1.5" stroke-linecap="round"/><path d="M748.6 539.4L748.2 544.1" stroke="#2aa844" stroke-width="1.5" stroke-linecap="round"/><path d="M746.9 538.9L745.9 543.4" stroke="#2aa844" stroke-width="1.5" stroke-linecap="round"/><path d="M744.2 537.3L742.1 541.2" stroke="#2aa844" stroke-width="1.5" stroke-linecap="round"/><path d="M743 536.2L740.4 539.7" stroke="#2aa844" stroke-width="1.5" stroke-linecap="round"/><path d="M741.2 534L737.9 536.7" stroke="#2aa844" stroke-width="1.5" stroke-linecap="round"/><path d="M739.8 531.2L736 532.8" stroke="#2aa844" stroke-width="1.5" stroke-linecap="round"/><path d="M739.2 529.2L735.1 530.1" stroke="#2aa844" stroke-width="1.5" stroke-linecap="round"/><path d="M738.9 527L734.6 527" stroke="#2aa844" stroke-width="1.5" stroke-linecap="round"/><path d="M739 523.5L734.8 522.3" stroke="#2aa844" stroke-width="1.5" stroke-linecap="round"/><path d="M739.3 521.8L735.4 520" stroke="#2aa844" stroke-width="1.5" stroke-linecap="round"/><path d="M740.4 519.2L736.9 516.4" stroke="#2aa844" stroke-width="1.5" stroke-linecap="round"/><path d="M741.7 517.4L738.7 513.8" stroke="#2aa844" stroke-width="1.5" stroke-linecap="round"/><path d="M743.5 515.8L741.3 511.7" stroke="#2aa844" stroke-width="1.5" stroke-linecap="round"/><path d="M745.1 515L743.5 510.5" stroke="#2aa844" stroke-width="1.5" stroke-linecap="round"/><path d="M748.1 514.4L747.7 509.7" stroke="#2aa844" stroke-width="1.5" stroke-linecap="round"/><path d="M750.1 514.6L750.6 510" stroke="#2aa844" stroke-width="1.5" stroke-linecap="round"/><path d="M752 515.3L753.2 510.8" stroke="#2aa844" stroke-width="1.5" stroke-linecap="round"/><path d="M753.8 516.3L755.7 512.2" stroke="#2aa844" stroke-width="1.5" stroke-linecap="round"/><path d="M755.8 518L758.4 514.5" stroke="#2aa844" stroke-width="1.5" stroke-linecap="round"/><path d="M757.3 519.8L760.5 517.1" stroke="#2aa844" stroke-width="1.5" stroke-linecap="round"/><path d="M758.6 522.3L762.4 520.5" stroke="#2aa844" stroke-width="1.5" stroke-linecap="round"/><ellipse cx="749.3" cy="527" rx="12" ry="15" fill="#188834" transform="rotate(-15 749.3 527)"/><circle cx="759.9" cy="524.9" r="3.4" fill="#188834"/><circle cx="760.3" cy="530.3" r="3.3" fill="#188834"/><circle cx="759.1" cy="534.6" r="3.4" fill="#188834"/><circle cx="757.1" cy="538.2" r="3" fill="#188834"/><circle cx="754.5" cy="540" r="3.1" fill="#188834"/><circle cx="749.5" cy="541" r="2.8" fill="#188834"/><circle cx="746.5" cy="539.7" r="3.3" fill="#188834"/><circle cx="742.7" cy="536.9" r="3.3" fill="#188834"/><circle cx="740.2" cy="532.2" r="4" fill="#188834"/><circle cx="738.3" cy="528.5" r="3" fill="#188834"/><circle cx="738.8" cy="523.1" r="3.9" fill="#188834"/><circle cx="739.6" cy="519.8" r="3.8" fill="#188834"/><circle cx="742.5" cy="515.9" r="4" fill="#188834"/><circle cx="744.3" cy="513.9" r="3" fill="#188834"/><circle cx="749.1" cy="513.2" r="3.1" fill="#188834"/><circle cx="752.1" cy="513.8" r="2.8" fill="#188834"/><circle cx="756.4" cy="517.3" r="3" fill="#188834"/><circle cx="758" cy="520.2" r="3.5" fill="#188834"/><ellipse cx="749.3" cy="527" rx="11.4" ry="14.4" fill="#33b94b" transform="rotate(-15 749.3 527)"/><circle cx="759.9" cy="524.9" r="2.8" fill="#33b94b"/><circle cx="760.3" cy="530.3" r="2.7" fill="#33b94b"/><circle cx="759.1" cy="534.6" r="2.8" fill="#33b94b"/><circle cx="757.1" cy="538.2" r="2.4" fill="#33b94b"/><circle cx="754.5" cy="540" r="2.5" fill="#33b94b"/><circle cx="749.5" cy="541" r="2.2" fill="#33b94b"/><circle cx="746.5" cy="539.7" r="2.7" fill="#33b94b"/><circle cx="742.7" cy="536.9" r="2.7" fill="#33b94b"/><circle cx="740.2" cy="532.2" r="3.4" fill="#33b94b"/><circle cx="738.3" cy="528.5" r="2.4" fill="#33b94b"/><circle cx="738.8" cy="523.1" r="3.3" fill="#33b94b"/><circle cx="739.6" cy="519.8" r="3.2" fill="#33b94b"/><circle cx="742.5" cy="515.9" r="3.4" fill="#33b94b"/><circle cx="744.3" cy="513.9" r="2.4" fill="#33b94b"/><circle cx="749.1" cy="513.2" r="2.5" fill="#33b94b"/><circle cx="752.1" cy="513.8" r="2.2" fill="#33b94b"/><circle cx="756.4" cy="517.3" r="2.4" fill="#33b94b"/><circle cx="758" cy="520.2" r="2.9" fill="#33b94b"/><ellipse cx="749.3" cy="527" rx="12.9" ry="15.9" fill="url(#gLo)" transform="rotate(-15 749.3 527)"/><ellipse cx="747.8" cy="524.6" rx="7.1" ry="8" fill="#a6f0a8" opacity="0.38" transform="rotate(-15 749.3 527)"/><ellipse cx="748" cy="525.1" rx="10.3" ry="12.7" fill="url(#gHi)" opacity="0.7" transform="rotate(-15 749.3 527)"/></g>
<path d="M748.6 530.7C747.9 530.4 745 529.7 744.3 528.8C743.6 528 744.3 526.1 744.4 525.5" fill="none" stroke="#eaffea" stroke-width="0.9" stroke-linecap="round" opacity="0.85"/><path d="M745.1 528.1C744.3 528.1 741.4 528.9 740.4 528.5C739.3 528 739.2 526 738.9 525.5" fill="none" stroke="#eaffea" stroke-width="0.9" stroke-linecap="round" opacity="0.85"/><path d="M747.8 526.8C748.4 527.3 751 528.8 751.4 529.9C751.9 530.9 750.6 532.5 750.4 533" fill="none" stroke="#eaffea" stroke-width="0.9" stroke-linecap="round" opacity="0.85"/><path d="M749.1 532.8C749.9 532.9 752.9 532.9 753.8 533.5C754.7 534.2 754.4 536.2 754.5 536.8" fill="none" stroke="#eaffea" stroke-width="0.9" stroke-linecap="round" opacity="0.85"/><path d="M747.4 529.5C746.7 529.3 743.7 528.8 743 528C742.2 527.2 742.8 525.2 742.8 524.7" fill="none" stroke="#eaffea" stroke-width="0.9" stroke-linecap="round" opacity="0.85"/>
<g><ellipse cx="791.8" cy="487.8" rx="11.2" ry="12.7" fill="#2a68c0" transform="rotate(-20 791.8 487.8)"/><circle cx="801.2" cy="487.8" r="6.3" fill="#2a68c0"/><circle cx="801.4" cy="492.6" r="5.2" fill="#2a68c0"/><circle cx="795.8" cy="497" r="7.2" fill="#2a68c0"/><circle cx="787.5" cy="497.1" r="5.8" fill="#2a68c0"/><circle cx="783.9" cy="492.9" r="6.1" fill="#2a68c0"/><circle cx="782.6" cy="483.9" r="6.1" fill="#2a68c0"/><circle cx="784.9" cy="479.8" r="6.2" fill="#2a68c0"/><circle cx="789.7" cy="477.3" r="6.3" fill="#2a68c0"/><circle cx="796.1" cy="479.7" r="7.1" fill="#2a68c0"/><ellipse cx="791.8" cy="487.8" rx="10.6" ry="12.1" fill="#4a94e2" transform="rotate(-20 791.8 487.8)"/><circle cx="801.2" cy="487.8" r="5.7" fill="#4a94e2"/><circle cx="801.4" cy="492.6" r="4.6" fill="#4a94e2"/><circle cx="795.8" cy="497" r="6.6" fill="#4a94e2"/><circle cx="787.5" cy="497.1" r="5.2" fill="#4a94e2"/><circle cx="783.9" cy="492.9" r="5.5" fill="#4a94e2"/><circle cx="782.6" cy="483.9" r="5.5" fill="#4a94e2"/><circle cx="784.9" cy="479.8" r="5.6" fill="#4a94e2"/><circle cx="789.7" cy="477.3" r="5.7" fill="#4a94e2"/><circle cx="796.1" cy="479.7" r="6.5" fill="#4a94e2"/><ellipse cx="791.8" cy="487.8" rx="13.5" ry="15" fill="url(#gLo)" transform="rotate(-20 791.8 487.8)"/><ellipse cx="790.2" cy="485.6" rx="7.4" ry="7.5" fill="#c4e4ff" opacity="0.4" transform="rotate(-20 791.8 487.8)"/><ellipse cx="790.4" cy="486" rx="10.8" ry="12" fill="url(#gHi)" opacity="0.7" transform="rotate(-20 791.8 487.8)"/></g>
<path d="M794.2 484.8C794.8 485.4 797.4 486.9 797.8 487.9C798.2 489 796.9 490.5 796.7 491" fill="none" stroke="#ffffff" stroke-width="0.9" stroke-linecap="round" opacity="0.85"/><path d="M793.5 489.4C794 488.8 795.7 486.4 796.8 486C797.9 485.7 799.3 487.1 799.8 487.4" fill="none" stroke="#ffffff" stroke-width="0.9" stroke-linecap="round" opacity="0.85"/><path d="M794.2 486.7C793.4 487 790.9 488.6 789.8 488.4C788.7 488.3 787.9 486.4 787.5 486" fill="none" stroke="#ffffff" stroke-width="0.9" stroke-linecap="round" opacity="0.85"/><path d="M785.2 489.7C784.5 489.9 781.8 491.4 780.7 491.2C779.6 491.1 778.9 489.1 778.6 488.7" fill="none" stroke="#ffffff" stroke-width="0.9" stroke-linecap="round" opacity="0.85"/><path d="M790.4 491.2C791.1 491.3 794.1 490.8 795.1 491.3C796.1 491.9 796 493.9 796.2 494.4" fill="none" stroke="#ffffff" stroke-width="0.9" stroke-linecap="round" opacity="0.85"/>
<g><ellipse cx="824.3" cy="502" rx="15" ry="16.2" fill="#2a68c0" transform="rotate(-20 824.3 502)"/><circle cx="837" cy="499.7" r="7.8" fill="#2a68c0"/><circle cx="835.8" cy="507" r="8.9" fill="#2a68c0"/><circle cx="828.2" cy="514.9" r="8.6" fill="#2a68c0"/><circle cx="820.5" cy="514.5" r="8.6" fill="#2a68c0"/><circle cx="813" cy="506.7" r="8.7" fill="#2a68c0"/><circle cx="812.5" cy="500.1" r="9.4" fill="#2a68c0"/><circle cx="814.4" cy="490.9" r="6.5" fill="#2a68c0"/><circle cx="822.8" cy="488.2" r="8" fill="#2a68c0"/><circle cx="833.8" cy="492.6" r="7.5" fill="#2a68c0"/><ellipse cx="824.3" cy="502" rx="14.4" ry="15.6" fill="#4a94e2" transform="rotate(-20 824.3 502)"/><circle cx="837" cy="499.7" r="7.2" fill="#4a94e2"/><circle cx="835.8" cy="507" r="8.3" fill="#4a94e2"/><circle cx="828.2" cy="514.9" r="8" fill="#4a94e2"/><circle cx="820.5" cy="514.5" r="8" fill="#4a94e2"/><circle cx="813" cy="506.7" r="8.1" fill="#4a94e2"/><circle cx="812.5" cy="500.1" r="8.8" fill="#4a94e2"/><circle cx="814.4" cy="490.9" r="5.9" fill="#4a94e2"/><circle cx="822.8" cy="488.2" r="7.4" fill="#4a94e2"/><circle cx="833.8" cy="492.6" r="6.9" fill="#4a94e2"/><ellipse cx="824.3" cy="502" rx="18.3" ry="19.5" fill="url(#gLo)" transform="rotate(-20 824.3 502)"/><ellipse cx="822.1" cy="499.1" rx="10.1" ry="9.8" fill="#c4e4ff" opacity="0.4" transform="rotate(-20 824.3 502)"/><ellipse cx="822.5" cy="499.7" rx="14.6" ry="15.6" fill="url(#gHi)" opacity="0.7" transform="rotate(-20 824.3 502)"/></g>
<path d="M820.1 503.3C821.1 503.6 825.2 504 826.3 505C827.4 506 826.7 508.7 826.8 509.5" fill="none" stroke="#ffffff" stroke-width="0.9" stroke-linecap="round" opacity="0.85"/><path d="M825 495.3C824.5 494.3 822 491.1 822 489.6C821.9 488.1 824.4 486.8 824.9 486.2" fill="none" stroke="#ffffff" stroke-width="0.9" stroke-linecap="round" opacity="0.85"/><path d="M817.6 503.2C818.4 502.4 820.9 499.2 822.4 498.8C823.8 498.5 825.7 500.5 826.4 500.8" fill="none" stroke="#ffffff" stroke-width="0.9" stroke-linecap="round" opacity="0.85"/><path d="M823.1 498.8C823.9 498.1 826.7 495.1 828.2 494.9C829.6 494.6 831.3 496.8 832 497.2" fill="none" stroke="#ffffff" stroke-width="0.9" stroke-linecap="round" opacity="0.85"/><path d="M824 502.8C823.9 503.8 824.6 507.8 823.9 509.2C823.2 510.5 820.4 510.5 819.7 510.8" fill="none" stroke="#ffffff" stroke-width="0.9" stroke-linecap="round" opacity="0.85"/>
<g><ellipse cx="784.4" cy="523.5" rx="11.7" ry="14.5" fill="#2a68c0" transform="rotate(-25 784.4 523.5)"/><circle cx="793" cy="521.2" r="7.7" fill="#2a68c0"/><circle cx="794.9" cy="528.6" r="5.9" fill="#2a68c0"/><circle cx="790.2" cy="535.3" r="5.7" fill="#2a68c0"/><circle cx="783.6" cy="534.5" r="7.4" fill="#2a68c0"/><circle cx="775.9" cy="530.1" r="5.3" fill="#2a68c0"/><circle cx="773.5" cy="519.8" r="5.7" fill="#2a68c0"/><circle cx="776.5" cy="512.7" r="5.2" fill="#2a68c0"/><circle cx="783" cy="511.6" r="6.7" fill="#2a68c0"/><circle cx="789.1" cy="515.3" r="7.8" fill="#2a68c0"/><ellipse cx="784.4" cy="523.5" rx="11.1" ry="13.9" fill="#4a94e2" transform="rotate(-25 784.4 523.5)"/><circle cx="793" cy="521.2" r="7.1" fill="#4a94e2"/><circle cx="794.9" cy="528.6" r="5.3" fill="#4a94e2"/><circle cx="790.2" cy="535.3" r="5.1" fill="#4a94e2"/><circle cx="783.6" cy="534.5" r="6.8" fill="#4a94e2"/><circle cx="775.9" cy="530.1" r="4.7" fill="#4a94e2"/><circle cx="773.5" cy="519.8" r="5.1" fill="#4a94e2"/><circle cx="776.5" cy="512.7" r="4.6" fill="#4a94e2"/><circle cx="783" cy="511.6" r="6.1" fill="#4a94e2"/><circle cx="789.1" cy="515.3" r="7.2" fill="#4a94e2"/><ellipse cx="784.4" cy="523.5" rx="14.2" ry="17" fill="url(#gLo)" transform="rotate(-25 784.4 523.5)"/><ellipse cx="782.7" cy="521" rx="7.8" ry="8.5" fill="#c4e4ff" opacity="0.4" transform="rotate(-25 784.4 523.5)"/><ellipse cx="783" cy="521.5" rx="11.4" ry="13.6" fill="url(#gHi)" opacity="0.7" transform="rotate(-25 784.4 523.5)"/></g>
<path d="M779.3 528.9C779.6 529.7 781 532.5 780.8 533.6C780.7 534.8 778.6 535.5 778.2 535.8" fill="none" stroke="#ffffff" stroke-width="0.9" stroke-linecap="round" opacity="0.85"/><path d="M783.5 526.6C783.5 527.5 784.3 530.5 783.9 531.6C783.4 532.7 781.2 532.8 780.7 533.1" fill="none" stroke="#ffffff" stroke-width="0.9" stroke-linecap="round" opacity="0.85"/><path d="M782.3 529.7C781.5 529.8 778.4 530.5 777.4 530.1C776.3 529.6 776.1 527.4 775.9 526.9" fill="none" stroke="#ffffff" stroke-width="0.9" stroke-linecap="round" opacity="0.85"/><path d="M790.1 526.8C790.3 527.6 791.2 530.6 790.8 531.7C790.5 532.8 788.3 533.1 787.8 533.4" fill="none" stroke="#ffffff" stroke-width="0.9" stroke-linecap="round" opacity="0.85"/><path d="M784.5 523C784.1 522.3 781.9 520 781.8 518.9C781.7 517.7 783.5 516.5 783.9 516" fill="none" stroke="#ffffff" stroke-width="0.9" stroke-linecap="round" opacity="0.85"/>
<path d="M688.8 517.5V501.8" stroke="#ee1c1c" stroke-width="1.7"/><path d="M685.5 505.2L688.8 501.6L692.1 505.2" fill="none" stroke="#ee1c1c" stroke-width="1.7" stroke-linejoin="miter"/>
<path d="M853.6 512.8V497.3" stroke="#ee1c1c" stroke-width="1.7"/><path d="M850.3 500.7L853.6 497.1L856.9 500.7" fill="none" stroke="#ee1c1c" stroke-width="1.7" stroke-linejoin="miter"/>
<text x="701" y="541.7" font-size="14" font-weight="normal" font-style="normal" fill="#000" text-anchor="start" >IL-6</text>
<text x="811" y="541.7" font-size="13" font-weight="normal" font-style="normal" fill="#000" text-anchor="start" >TNF-α</text>
</g>
</svg>
</body></html>
